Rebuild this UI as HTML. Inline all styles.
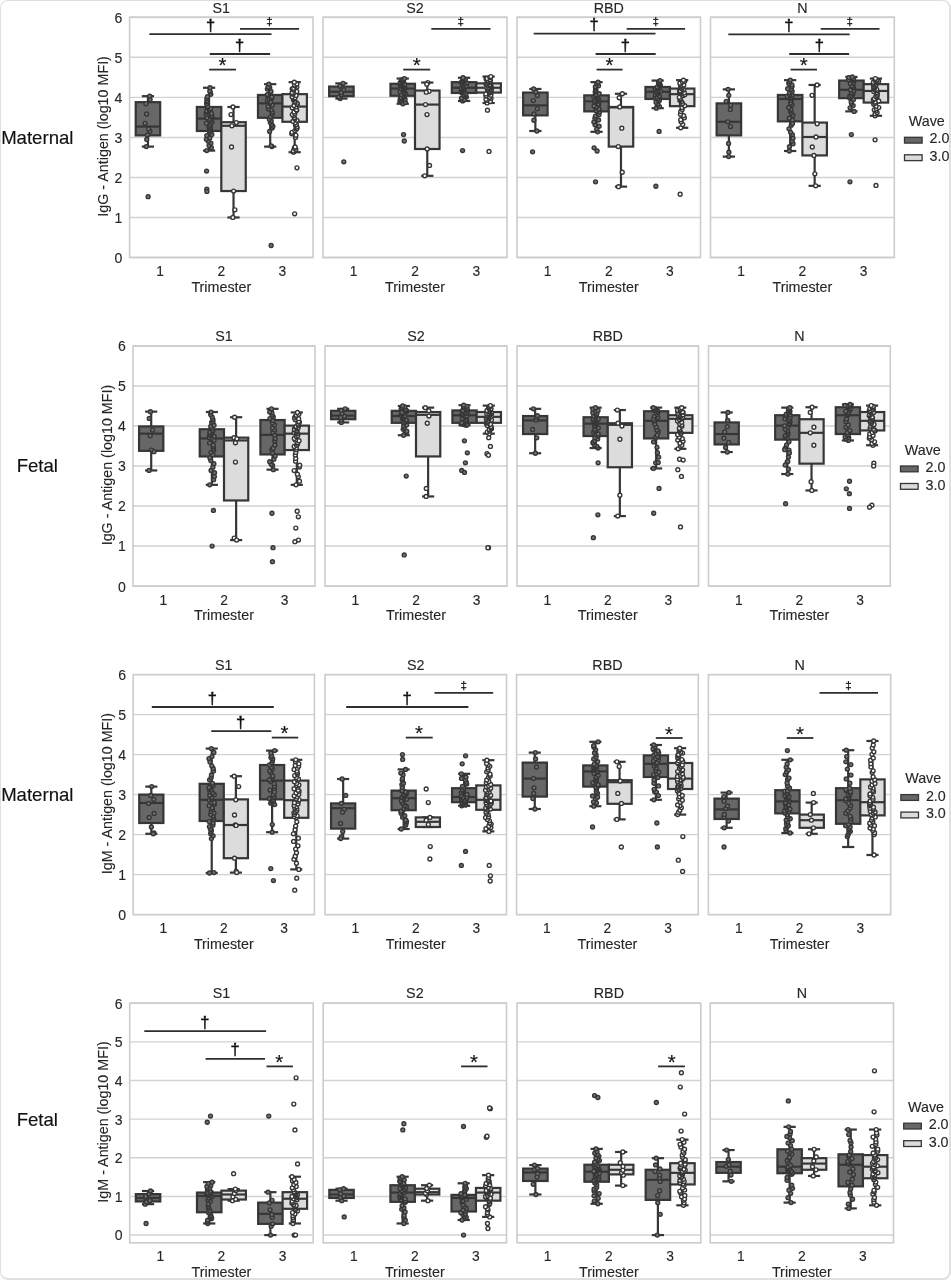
<!DOCTYPE html>
<html><head><meta charset="utf-8"><title>Antigen boxplots</title>
<style>
html,body{margin:0;padding:0;background:#ffffff;}
body{width:951px;height:1280px;overflow:hidden;position:relative;}
.frame{position:absolute;left:0;top:0;width:948px;height:1277px;border-style:solid;border-color:#e0e0e0;border-width:1px 2px 2px 1px;border-radius:8px;background:#fff;}
svg{position:absolute;left:0;top:0;will-change:transform;}
.t{font-family:"Liberation Sans",Arial,sans-serif;font-size:14.3px;fill:#262626;stroke:#262626;stroke-width:0.12px;}
.rl{font-family:"Liberation Sans",Arial,sans-serif;font-size:18.6px;fill:#111;stroke:#111;stroke-width:0.15px;}
.sd{font-family:"Liberation Sans",Arial,sans-serif;font-size:16.5px;fill:#111;stroke:#111;stroke-width:0.45px;}
.sdd{font-family:"Liberation Sans",Arial,sans-serif;font-size:11.5px;fill:#111;stroke:#111;stroke-width:0.25px;}
.ss{font-family:"Liberation Sans",Arial,sans-serif;font-size:20.5px;fill:#111;stroke:#111;stroke-width:0.15px;}
</style></head><body>
<div class="frame"></div>
<svg width="951" height="1280" viewBox="0 0 951 1280">
<line x1="129.6" x2="313" y1="257.5" y2="257.5" stroke="#d2d2d2" stroke-width="1.45"/>
<line x1="129.6" x2="313" y1="217.47" y2="217.47" stroke="#d2d2d2" stroke-width="1.45"/>
<line x1="129.6" x2="313" y1="177.43" y2="177.43" stroke="#d2d2d2" stroke-width="1.45"/>
<line x1="129.6" x2="313" y1="137.4" y2="137.4" stroke="#d2d2d2" stroke-width="1.45"/>
<line x1="129.6" x2="313" y1="97.37" y2="97.37" stroke="#d2d2d2" stroke-width="1.45"/>
<line x1="129.6" x2="313" y1="57.33" y2="57.33" stroke="#d2d2d2" stroke-width="1.45"/>
<line x1="129.6" x2="313" y1="17.3" y2="17.3" stroke="#d2d2d2" stroke-width="1.45"/>
<rect x="129.6" y="17.3" width="183.4" height="240.2" fill="none" stroke="#cccccc" stroke-width="1.6"/>
<text x="221.3" y="12.5" class="t" text-anchor="middle">S1</text>
<text transform="translate(160.17,275.9) scale(0.965,1.07)" class="t" text-anchor="middle">1</text>
<text transform="translate(221.3,275.9) scale(0.965,1.07)" class="t" text-anchor="middle">2</text>
<text transform="translate(282.43,275.9) scale(0.965,1.07)" class="t" text-anchor="middle">3</text>
<text x="221.3" y="291.7" class="t" text-anchor="middle">Trimester</text>
<line x1="323" x2="507" y1="257.5" y2="257.5" stroke="#d2d2d2" stroke-width="1.45"/>
<line x1="323" x2="507" y1="217.47" y2="217.47" stroke="#d2d2d2" stroke-width="1.45"/>
<line x1="323" x2="507" y1="177.43" y2="177.43" stroke="#d2d2d2" stroke-width="1.45"/>
<line x1="323" x2="507" y1="137.4" y2="137.4" stroke="#d2d2d2" stroke-width="1.45"/>
<line x1="323" x2="507" y1="97.37" y2="97.37" stroke="#d2d2d2" stroke-width="1.45"/>
<line x1="323" x2="507" y1="57.33" y2="57.33" stroke="#d2d2d2" stroke-width="1.45"/>
<line x1="323" x2="507" y1="17.3" y2="17.3" stroke="#d2d2d2" stroke-width="1.45"/>
<rect x="323" y="17.3" width="184" height="240.2" fill="none" stroke="#cccccc" stroke-width="1.6"/>
<text x="415" y="12.5" class="t" text-anchor="middle">S2</text>
<text transform="translate(353.67,275.9) scale(0.965,1.07)" class="t" text-anchor="middle">1</text>
<text transform="translate(415,275.9) scale(0.965,1.07)" class="t" text-anchor="middle">2</text>
<text transform="translate(476.33,275.9) scale(0.965,1.07)" class="t" text-anchor="middle">3</text>
<text x="415" y="291.7" class="t" text-anchor="middle">Trimester</text>
<line x1="517" x2="700.5" y1="257.5" y2="257.5" stroke="#d2d2d2" stroke-width="1.45"/>
<line x1="517" x2="700.5" y1="217.47" y2="217.47" stroke="#d2d2d2" stroke-width="1.45"/>
<line x1="517" x2="700.5" y1="177.43" y2="177.43" stroke="#d2d2d2" stroke-width="1.45"/>
<line x1="517" x2="700.5" y1="137.4" y2="137.4" stroke="#d2d2d2" stroke-width="1.45"/>
<line x1="517" x2="700.5" y1="97.37" y2="97.37" stroke="#d2d2d2" stroke-width="1.45"/>
<line x1="517" x2="700.5" y1="57.33" y2="57.33" stroke="#d2d2d2" stroke-width="1.45"/>
<line x1="517" x2="700.5" y1="17.3" y2="17.3" stroke="#d2d2d2" stroke-width="1.45"/>
<rect x="517" y="17.3" width="183.5" height="240.2" fill="none" stroke="#cccccc" stroke-width="1.6"/>
<text x="608.75" y="12.5" class="t" text-anchor="middle">RBD</text>
<text transform="translate(547.58,275.9) scale(0.965,1.07)" class="t" text-anchor="middle">1</text>
<text transform="translate(608.75,275.9) scale(0.965,1.07)" class="t" text-anchor="middle">2</text>
<text transform="translate(669.92,275.9) scale(0.965,1.07)" class="t" text-anchor="middle">3</text>
<text x="608.75" y="291.7" class="t" text-anchor="middle">Trimester</text>
<line x1="710.5" x2="894.3" y1="257.5" y2="257.5" stroke="#d2d2d2" stroke-width="1.45"/>
<line x1="710.5" x2="894.3" y1="217.47" y2="217.47" stroke="#d2d2d2" stroke-width="1.45"/>
<line x1="710.5" x2="894.3" y1="177.43" y2="177.43" stroke="#d2d2d2" stroke-width="1.45"/>
<line x1="710.5" x2="894.3" y1="137.4" y2="137.4" stroke="#d2d2d2" stroke-width="1.45"/>
<line x1="710.5" x2="894.3" y1="97.37" y2="97.37" stroke="#d2d2d2" stroke-width="1.45"/>
<line x1="710.5" x2="894.3" y1="57.33" y2="57.33" stroke="#d2d2d2" stroke-width="1.45"/>
<line x1="710.5" x2="894.3" y1="17.3" y2="17.3" stroke="#d2d2d2" stroke-width="1.45"/>
<rect x="710.5" y="17.3" width="183.8" height="240.2" fill="none" stroke="#cccccc" stroke-width="1.6"/>
<text x="802.4" y="12.5" class="t" text-anchor="middle">N</text>
<text transform="translate(741.13,275.9) scale(0.965,1.07)" class="t" text-anchor="middle">1</text>
<text transform="translate(802.4,275.9) scale(0.965,1.07)" class="t" text-anchor="middle">2</text>
<text transform="translate(863.67,275.9) scale(0.965,1.07)" class="t" text-anchor="middle">3</text>
<text x="802.4" y="291.7" class="t" text-anchor="middle">Trimester</text>
<text transform="translate(122.4,262.9) scale(0.985,1.055)" class="t" text-anchor="end">0</text>
<text transform="translate(122.4,222.87) scale(0.985,1.055)" class="t" text-anchor="end">1</text>
<text transform="translate(122.4,182.83) scale(0.985,1.055)" class="t" text-anchor="end">2</text>
<text transform="translate(122.4,142.8) scale(0.985,1.055)" class="t" text-anchor="end">3</text>
<text transform="translate(122.4,102.77) scale(0.985,1.055)" class="t" text-anchor="end">4</text>
<text transform="translate(122.4,62.73) scale(0.985,1.055)" class="t" text-anchor="end">5</text>
<text transform="translate(122.4,22.7) scale(0.985,1.055)" class="t" text-anchor="end">6</text>
<text transform="translate(107.8,136.4) rotate(-90)" class="t" text-anchor="middle">IgG - Antigen (log10 MFI)</text>
<text x="37.3" y="144.1" class="rl" text-anchor="middle">Maternal</text>
<text x="908.8" y="125.9" class="t">Wave</text>
<rect x="904.5" y="137.3" width="17.6" height="5.8" fill="#676767" stroke="#363636" stroke-width="1.3"/>
<text x="929.5" y="143.4" class="t">2.0</text>
<rect x="904.5" y="154.8" width="17.6" height="5.8" fill="#dcdcdc" stroke="#363636" stroke-width="1.3"/>
<text x="929.5" y="160.9" class="t">3.0</text>
<line x1="133" x2="315" y1="586.1" y2="586.1" stroke="#d2d2d2" stroke-width="1.45"/>
<line x1="133" x2="315" y1="546.08" y2="546.08" stroke="#d2d2d2" stroke-width="1.45"/>
<line x1="133" x2="315" y1="506.07" y2="506.07" stroke="#d2d2d2" stroke-width="1.45"/>
<line x1="133" x2="315" y1="466.05" y2="466.05" stroke="#d2d2d2" stroke-width="1.45"/>
<line x1="133" x2="315" y1="426.03" y2="426.03" stroke="#d2d2d2" stroke-width="1.45"/>
<line x1="133" x2="315" y1="386.02" y2="386.02" stroke="#d2d2d2" stroke-width="1.45"/>
<line x1="133" x2="315" y1="346" y2="346" stroke="#d2d2d2" stroke-width="1.45"/>
<rect x="133" y="346" width="182" height="240.1" fill="none" stroke="#cccccc" stroke-width="1.6"/>
<text x="224" y="341.2" class="t" text-anchor="middle">S1</text>
<text transform="translate(163.33,604.5) scale(0.965,1.07)" class="t" text-anchor="middle">1</text>
<text transform="translate(224,604.5) scale(0.965,1.07)" class="t" text-anchor="middle">2</text>
<text transform="translate(284.67,604.5) scale(0.965,1.07)" class="t" text-anchor="middle">3</text>
<text x="224" y="620.3" class="t" text-anchor="middle">Trimester</text>
<line x1="325" x2="507" y1="586.1" y2="586.1" stroke="#d2d2d2" stroke-width="1.45"/>
<line x1="325" x2="507" y1="546.08" y2="546.08" stroke="#d2d2d2" stroke-width="1.45"/>
<line x1="325" x2="507" y1="506.07" y2="506.07" stroke="#d2d2d2" stroke-width="1.45"/>
<line x1="325" x2="507" y1="466.05" y2="466.05" stroke="#d2d2d2" stroke-width="1.45"/>
<line x1="325" x2="507" y1="426.03" y2="426.03" stroke="#d2d2d2" stroke-width="1.45"/>
<line x1="325" x2="507" y1="386.02" y2="386.02" stroke="#d2d2d2" stroke-width="1.45"/>
<line x1="325" x2="507" y1="346" y2="346" stroke="#d2d2d2" stroke-width="1.45"/>
<rect x="325" y="346" width="182" height="240.1" fill="none" stroke="#cccccc" stroke-width="1.6"/>
<text x="416" y="341.2" class="t" text-anchor="middle">S2</text>
<text transform="translate(355.33,604.5) scale(0.965,1.07)" class="t" text-anchor="middle">1</text>
<text transform="translate(416,604.5) scale(0.965,1.07)" class="t" text-anchor="middle">2</text>
<text transform="translate(476.67,604.5) scale(0.965,1.07)" class="t" text-anchor="middle">3</text>
<text x="416" y="620.3" class="t" text-anchor="middle">Trimester</text>
<line x1="517" x2="698.5" y1="586.1" y2="586.1" stroke="#d2d2d2" stroke-width="1.45"/>
<line x1="517" x2="698.5" y1="546.08" y2="546.08" stroke="#d2d2d2" stroke-width="1.45"/>
<line x1="517" x2="698.5" y1="506.07" y2="506.07" stroke="#d2d2d2" stroke-width="1.45"/>
<line x1="517" x2="698.5" y1="466.05" y2="466.05" stroke="#d2d2d2" stroke-width="1.45"/>
<line x1="517" x2="698.5" y1="426.03" y2="426.03" stroke="#d2d2d2" stroke-width="1.45"/>
<line x1="517" x2="698.5" y1="386.02" y2="386.02" stroke="#d2d2d2" stroke-width="1.45"/>
<line x1="517" x2="698.5" y1="346" y2="346" stroke="#d2d2d2" stroke-width="1.45"/>
<rect x="517" y="346" width="181.5" height="240.1" fill="none" stroke="#cccccc" stroke-width="1.6"/>
<text x="607.75" y="341.2" class="t" text-anchor="middle">RBD</text>
<text transform="translate(547.25,604.5) scale(0.965,1.07)" class="t" text-anchor="middle">1</text>
<text transform="translate(607.75,604.5) scale(0.965,1.07)" class="t" text-anchor="middle">2</text>
<text transform="translate(668.25,604.5) scale(0.965,1.07)" class="t" text-anchor="middle">3</text>
<text x="607.75" y="620.3" class="t" text-anchor="middle">Trimester</text>
<line x1="708.5" x2="890.3" y1="586.1" y2="586.1" stroke="#d2d2d2" stroke-width="1.45"/>
<line x1="708.5" x2="890.3" y1="546.08" y2="546.08" stroke="#d2d2d2" stroke-width="1.45"/>
<line x1="708.5" x2="890.3" y1="506.07" y2="506.07" stroke="#d2d2d2" stroke-width="1.45"/>
<line x1="708.5" x2="890.3" y1="466.05" y2="466.05" stroke="#d2d2d2" stroke-width="1.45"/>
<line x1="708.5" x2="890.3" y1="426.03" y2="426.03" stroke="#d2d2d2" stroke-width="1.45"/>
<line x1="708.5" x2="890.3" y1="386.02" y2="386.02" stroke="#d2d2d2" stroke-width="1.45"/>
<line x1="708.5" x2="890.3" y1="346" y2="346" stroke="#d2d2d2" stroke-width="1.45"/>
<rect x="708.5" y="346" width="181.8" height="240.1" fill="none" stroke="#cccccc" stroke-width="1.6"/>
<text x="799.4" y="341.2" class="t" text-anchor="middle">N</text>
<text transform="translate(738.8,604.5) scale(0.965,1.07)" class="t" text-anchor="middle">1</text>
<text transform="translate(799.4,604.5) scale(0.965,1.07)" class="t" text-anchor="middle">2</text>
<text transform="translate(860,604.5) scale(0.965,1.07)" class="t" text-anchor="middle">3</text>
<text x="799.4" y="620.3" class="t" text-anchor="middle">Trimester</text>
<text transform="translate(125.8,591.5) scale(0.985,1.055)" class="t" text-anchor="end">0</text>
<text transform="translate(125.8,551.48) scale(0.985,1.055)" class="t" text-anchor="end">1</text>
<text transform="translate(125.8,511.47) scale(0.985,1.055)" class="t" text-anchor="end">2</text>
<text transform="translate(125.8,471.45) scale(0.985,1.055)" class="t" text-anchor="end">3</text>
<text transform="translate(125.8,431.43) scale(0.985,1.055)" class="t" text-anchor="end">4</text>
<text transform="translate(125.8,391.42) scale(0.985,1.055)" class="t" text-anchor="end">5</text>
<text transform="translate(125.8,351.4) scale(0.985,1.055)" class="t" text-anchor="end">6</text>
<text transform="translate(111.5,465.05) rotate(-90)" class="t" text-anchor="middle">IgG - Antigen (log10 MFI)</text>
<text x="37.3" y="472.2" class="rl" text-anchor="middle">Fetal</text>
<text x="904.8" y="454.6" class="t">Wave</text>
<rect x="900.5" y="466" width="17.6" height="5.8" fill="#676767" stroke="#363636" stroke-width="1.3"/>
<text x="925.5" y="472.1" class="t">2.0</text>
<rect x="900.5" y="483.5" width="17.6" height="5.8" fill="#dcdcdc" stroke="#363636" stroke-width="1.3"/>
<text x="925.5" y="489.6" class="t">3.0</text>
<line x1="133.2" x2="314.4" y1="914.6" y2="914.6" stroke="#d2d2d2" stroke-width="1.45"/>
<line x1="133.2" x2="314.4" y1="874.6" y2="874.6" stroke="#d2d2d2" stroke-width="1.45"/>
<line x1="133.2" x2="314.4" y1="834.6" y2="834.6" stroke="#d2d2d2" stroke-width="1.45"/>
<line x1="133.2" x2="314.4" y1="794.6" y2="794.6" stroke="#d2d2d2" stroke-width="1.45"/>
<line x1="133.2" x2="314.4" y1="754.6" y2="754.6" stroke="#d2d2d2" stroke-width="1.45"/>
<line x1="133.2" x2="314.4" y1="714.6" y2="714.6" stroke="#d2d2d2" stroke-width="1.45"/>
<line x1="133.2" x2="314.4" y1="674.6" y2="674.6" stroke="#d2d2d2" stroke-width="1.45"/>
<rect x="133.2" y="674.6" width="181.2" height="240" fill="none" stroke="#cccccc" stroke-width="1.6"/>
<text x="223.8" y="669.8" class="t" text-anchor="middle">S1</text>
<text transform="translate(163.4,933) scale(0.965,1.07)" class="t" text-anchor="middle">1</text>
<text transform="translate(223.8,933) scale(0.965,1.07)" class="t" text-anchor="middle">2</text>
<text transform="translate(284.2,933) scale(0.965,1.07)" class="t" text-anchor="middle">3</text>
<text x="223.8" y="948.8" class="t" text-anchor="middle">Trimester</text>
<line x1="325" x2="506.5" y1="914.6" y2="914.6" stroke="#d2d2d2" stroke-width="1.45"/>
<line x1="325" x2="506.5" y1="874.6" y2="874.6" stroke="#d2d2d2" stroke-width="1.45"/>
<line x1="325" x2="506.5" y1="834.6" y2="834.6" stroke="#d2d2d2" stroke-width="1.45"/>
<line x1="325" x2="506.5" y1="794.6" y2="794.6" stroke="#d2d2d2" stroke-width="1.45"/>
<line x1="325" x2="506.5" y1="754.6" y2="754.6" stroke="#d2d2d2" stroke-width="1.45"/>
<line x1="325" x2="506.5" y1="714.6" y2="714.6" stroke="#d2d2d2" stroke-width="1.45"/>
<line x1="325" x2="506.5" y1="674.6" y2="674.6" stroke="#d2d2d2" stroke-width="1.45"/>
<rect x="325" y="674.6" width="181.5" height="240" fill="none" stroke="#cccccc" stroke-width="1.6"/>
<text x="415.75" y="669.8" class="t" text-anchor="middle">S2</text>
<text transform="translate(355.25,933) scale(0.965,1.07)" class="t" text-anchor="middle">1</text>
<text transform="translate(415.75,933) scale(0.965,1.07)" class="t" text-anchor="middle">2</text>
<text transform="translate(476.25,933) scale(0.965,1.07)" class="t" text-anchor="middle">3</text>
<text x="415.75" y="948.8" class="t" text-anchor="middle">Trimester</text>
<line x1="516.6" x2="698.3" y1="914.6" y2="914.6" stroke="#d2d2d2" stroke-width="1.45"/>
<line x1="516.6" x2="698.3" y1="874.6" y2="874.6" stroke="#d2d2d2" stroke-width="1.45"/>
<line x1="516.6" x2="698.3" y1="834.6" y2="834.6" stroke="#d2d2d2" stroke-width="1.45"/>
<line x1="516.6" x2="698.3" y1="794.6" y2="794.6" stroke="#d2d2d2" stroke-width="1.45"/>
<line x1="516.6" x2="698.3" y1="754.6" y2="754.6" stroke="#d2d2d2" stroke-width="1.45"/>
<line x1="516.6" x2="698.3" y1="714.6" y2="714.6" stroke="#d2d2d2" stroke-width="1.45"/>
<line x1="516.6" x2="698.3" y1="674.6" y2="674.6" stroke="#d2d2d2" stroke-width="1.45"/>
<rect x="516.6" y="674.6" width="181.7" height="240" fill="none" stroke="#cccccc" stroke-width="1.6"/>
<text x="607.45" y="669.8" class="t" text-anchor="middle">RBD</text>
<text transform="translate(546.88,933) scale(0.965,1.07)" class="t" text-anchor="middle">1</text>
<text transform="translate(607.45,933) scale(0.965,1.07)" class="t" text-anchor="middle">2</text>
<text transform="translate(668.02,933) scale(0.965,1.07)" class="t" text-anchor="middle">3</text>
<text x="607.45" y="948.8" class="t" text-anchor="middle">Trimester</text>
<line x1="708.4" x2="890.7" y1="914.6" y2="914.6" stroke="#d2d2d2" stroke-width="1.45"/>
<line x1="708.4" x2="890.7" y1="874.6" y2="874.6" stroke="#d2d2d2" stroke-width="1.45"/>
<line x1="708.4" x2="890.7" y1="834.6" y2="834.6" stroke="#d2d2d2" stroke-width="1.45"/>
<line x1="708.4" x2="890.7" y1="794.6" y2="794.6" stroke="#d2d2d2" stroke-width="1.45"/>
<line x1="708.4" x2="890.7" y1="754.6" y2="754.6" stroke="#d2d2d2" stroke-width="1.45"/>
<line x1="708.4" x2="890.7" y1="714.6" y2="714.6" stroke="#d2d2d2" stroke-width="1.45"/>
<line x1="708.4" x2="890.7" y1="674.6" y2="674.6" stroke="#d2d2d2" stroke-width="1.45"/>
<rect x="708.4" y="674.6" width="182.3" height="240" fill="none" stroke="#cccccc" stroke-width="1.6"/>
<text x="799.55" y="669.8" class="t" text-anchor="middle">N</text>
<text transform="translate(738.78,933) scale(0.965,1.07)" class="t" text-anchor="middle">1</text>
<text transform="translate(799.55,933) scale(0.965,1.07)" class="t" text-anchor="middle">2</text>
<text transform="translate(860.32,933) scale(0.965,1.07)" class="t" text-anchor="middle">3</text>
<text x="799.55" y="948.8" class="t" text-anchor="middle">Trimester</text>
<text transform="translate(126,920) scale(0.985,1.055)" class="t" text-anchor="end">0</text>
<text transform="translate(126,880) scale(0.985,1.055)" class="t" text-anchor="end">1</text>
<text transform="translate(126,840) scale(0.985,1.055)" class="t" text-anchor="end">2</text>
<text transform="translate(126,800) scale(0.985,1.055)" class="t" text-anchor="end">3</text>
<text transform="translate(126,760) scale(0.985,1.055)" class="t" text-anchor="end">4</text>
<text transform="translate(126,720) scale(0.985,1.055)" class="t" text-anchor="end">5</text>
<text transform="translate(126,680) scale(0.985,1.055)" class="t" text-anchor="end">6</text>
<text transform="translate(111.5,793.6) rotate(-90)" class="t" text-anchor="middle">IgM - Antigen (log10 MFI)</text>
<text x="37.3" y="800.5" class="rl" text-anchor="middle">Maternal</text>
<text x="905.2" y="783.2" class="t">Wave</text>
<rect x="900.9" y="794.6" width="17.6" height="5.8" fill="#676767" stroke="#363636" stroke-width="1.3"/>
<text x="925.9" y="800.7" class="t">2.0</text>
<rect x="900.9" y="812.1" width="17.6" height="5.8" fill="#dcdcdc" stroke="#363636" stroke-width="1.3"/>
<text x="925.9" y="818.2" class="t">3.0</text>
<line x1="129.7" x2="313.2" y1="1235.07" y2="1235.07" stroke="#d2d2d2" stroke-width="1.45"/>
<line x1="129.7" x2="313.2" y1="1196.43" y2="1196.43" stroke="#d2d2d2" stroke-width="1.45"/>
<line x1="129.7" x2="313.2" y1="1157.78" y2="1157.78" stroke="#d2d2d2" stroke-width="1.45"/>
<line x1="129.7" x2="313.2" y1="1119.14" y2="1119.14" stroke="#d2d2d2" stroke-width="1.45"/>
<line x1="129.7" x2="313.2" y1="1080.49" y2="1080.49" stroke="#d2d2d2" stroke-width="1.45"/>
<line x1="129.7" x2="313.2" y1="1041.85" y2="1041.85" stroke="#d2d2d2" stroke-width="1.45"/>
<line x1="129.7" x2="313.2" y1="1003.2" y2="1003.2" stroke="#d2d2d2" stroke-width="1.45"/>
<rect x="129.7" y="1003.2" width="183.5" height="239.6" fill="none" stroke="#cccccc" stroke-width="1.6"/>
<text x="221.45" y="998.4" class="t" text-anchor="middle">S1</text>
<text transform="translate(160.28,1261.2) scale(0.965,1.07)" class="t" text-anchor="middle">1</text>
<text transform="translate(221.45,1261.2) scale(0.965,1.07)" class="t" text-anchor="middle">2</text>
<text transform="translate(282.62,1261.2) scale(0.965,1.07)" class="t" text-anchor="middle">3</text>
<text x="221.45" y="1277" class="t" text-anchor="middle">Trimester</text>
<line x1="323.2" x2="506.5" y1="1235.07" y2="1235.07" stroke="#d2d2d2" stroke-width="1.45"/>
<line x1="323.2" x2="506.5" y1="1196.43" y2="1196.43" stroke="#d2d2d2" stroke-width="1.45"/>
<line x1="323.2" x2="506.5" y1="1157.78" y2="1157.78" stroke="#d2d2d2" stroke-width="1.45"/>
<line x1="323.2" x2="506.5" y1="1119.14" y2="1119.14" stroke="#d2d2d2" stroke-width="1.45"/>
<line x1="323.2" x2="506.5" y1="1080.49" y2="1080.49" stroke="#d2d2d2" stroke-width="1.45"/>
<line x1="323.2" x2="506.5" y1="1041.85" y2="1041.85" stroke="#d2d2d2" stroke-width="1.45"/>
<line x1="323.2" x2="506.5" y1="1003.2" y2="1003.2" stroke="#d2d2d2" stroke-width="1.45"/>
<rect x="323.2" y="1003.2" width="183.3" height="239.6" fill="none" stroke="#cccccc" stroke-width="1.6"/>
<text x="414.85" y="998.4" class="t" text-anchor="middle">S2</text>
<text transform="translate(353.75,1261.2) scale(0.965,1.07)" class="t" text-anchor="middle">1</text>
<text transform="translate(414.85,1261.2) scale(0.965,1.07)" class="t" text-anchor="middle">2</text>
<text transform="translate(475.95,1261.2) scale(0.965,1.07)" class="t" text-anchor="middle">3</text>
<text x="414.85" y="1277" class="t" text-anchor="middle">Trimester</text>
<line x1="517" x2="700.8" y1="1235.07" y2="1235.07" stroke="#d2d2d2" stroke-width="1.45"/>
<line x1="517" x2="700.8" y1="1196.43" y2="1196.43" stroke="#d2d2d2" stroke-width="1.45"/>
<line x1="517" x2="700.8" y1="1157.78" y2="1157.78" stroke="#d2d2d2" stroke-width="1.45"/>
<line x1="517" x2="700.8" y1="1119.14" y2="1119.14" stroke="#d2d2d2" stroke-width="1.45"/>
<line x1="517" x2="700.8" y1="1080.49" y2="1080.49" stroke="#d2d2d2" stroke-width="1.45"/>
<line x1="517" x2="700.8" y1="1041.85" y2="1041.85" stroke="#d2d2d2" stroke-width="1.45"/>
<line x1="517" x2="700.8" y1="1003.2" y2="1003.2" stroke="#d2d2d2" stroke-width="1.45"/>
<rect x="517" y="1003.2" width="183.8" height="239.6" fill="none" stroke="#cccccc" stroke-width="1.6"/>
<text x="608.9" y="998.4" class="t" text-anchor="middle">RBD</text>
<text transform="translate(547.63,1261.2) scale(0.965,1.07)" class="t" text-anchor="middle">1</text>
<text transform="translate(608.9,1261.2) scale(0.965,1.07)" class="t" text-anchor="middle">2</text>
<text transform="translate(670.17,1261.2) scale(0.965,1.07)" class="t" text-anchor="middle">3</text>
<text x="608.9" y="1277" class="t" text-anchor="middle">Trimester</text>
<line x1="710.2" x2="893.5" y1="1235.07" y2="1235.07" stroke="#d2d2d2" stroke-width="1.45"/>
<line x1="710.2" x2="893.5" y1="1196.43" y2="1196.43" stroke="#d2d2d2" stroke-width="1.45"/>
<line x1="710.2" x2="893.5" y1="1157.78" y2="1157.78" stroke="#d2d2d2" stroke-width="1.45"/>
<line x1="710.2" x2="893.5" y1="1119.14" y2="1119.14" stroke="#d2d2d2" stroke-width="1.45"/>
<line x1="710.2" x2="893.5" y1="1080.49" y2="1080.49" stroke="#d2d2d2" stroke-width="1.45"/>
<line x1="710.2" x2="893.5" y1="1041.85" y2="1041.85" stroke="#d2d2d2" stroke-width="1.45"/>
<line x1="710.2" x2="893.5" y1="1003.2" y2="1003.2" stroke="#d2d2d2" stroke-width="1.45"/>
<rect x="710.2" y="1003.2" width="183.3" height="239.6" fill="none" stroke="#cccccc" stroke-width="1.6"/>
<text x="801.85" y="998.4" class="t" text-anchor="middle">N</text>
<text transform="translate(740.75,1261.2) scale(0.965,1.07)" class="t" text-anchor="middle">1</text>
<text transform="translate(801.85,1261.2) scale(0.965,1.07)" class="t" text-anchor="middle">2</text>
<text transform="translate(862.95,1261.2) scale(0.965,1.07)" class="t" text-anchor="middle">3</text>
<text x="801.85" y="1277" class="t" text-anchor="middle">Trimester</text>
<text transform="translate(122.5,1240.47) scale(0.985,1.055)" class="t" text-anchor="end">0</text>
<text transform="translate(122.5,1201.83) scale(0.985,1.055)" class="t" text-anchor="end">1</text>
<text transform="translate(122.5,1163.18) scale(0.985,1.055)" class="t" text-anchor="end">2</text>
<text transform="translate(122.5,1124.54) scale(0.985,1.055)" class="t" text-anchor="end">3</text>
<text transform="translate(122.5,1085.89) scale(0.985,1.055)" class="t" text-anchor="end">4</text>
<text transform="translate(122.5,1047.25) scale(0.985,1.055)" class="t" text-anchor="end">5</text>
<text transform="translate(122.5,1008.6) scale(0.985,1.055)" class="t" text-anchor="end">6</text>
<text transform="translate(107.8,1122) rotate(-90)" class="t" text-anchor="middle">IgM - Antigen (log10 MFI)</text>
<text x="37.3" y="1125.5" class="rl" text-anchor="middle">Fetal</text>
<text x="908" y="1111.8" class="t">Wave</text>
<rect x="903.7" y="1123.2" width="17.6" height="5.8" fill="#676767" stroke="#363636" stroke-width="1.3"/>
<text x="928.7" y="1129.3" class="t">2.0</text>
<rect x="903.7" y="1140.7" width="17.6" height="5.8" fill="#dcdcdc" stroke="#363636" stroke-width="1.3"/>
<text x="928.7" y="1146.8" class="t">3.0</text>
<g stroke="#363636" stroke-width="2.2"><line x1="147.94" x2="147.94" y1="102.17" y2="96.17"/><line x1="147.94" x2="147.94" y1="135.4" y2="146.61"/><line x1="141.83" x2="154.05" y1="96.17" y2="96.17"/><line x1="141.83" x2="154.05" y1="146.61" y2="146.61"/><rect x="135.71" y="102.17" width="24.45" height="33.23" fill="#676767"/><line x1="135.71" x2="160.17" y1="126.59" y2="126.59"/></g>
<g fill="#747474" stroke="#363636" stroke-width="1.4"><circle cx="148.12" cy="196.65" r="1.95"/><circle cx="146.28" cy="146.61" r="1.95"/><circle cx="146.75" cy="139.38" r="1.95"/><circle cx="147.54" cy="135.01" r="1.95"/><circle cx="149.9" cy="131.14" r="1.95"/><circle cx="148.57" cy="129.02" r="1.95"/><circle cx="145.12" cy="123.29" r="1.95"/><circle cx="146.64" cy="114.01" r="1.95"/><circle cx="145.89" cy="103.78" r="1.95"/><circle cx="150.09" cy="99.43" r="1.95"/><circle cx="149.74" cy="96.17" r="1.95"/></g>
<g stroke="#363636" stroke-width="2.2"><line x1="209.07" x2="209.07" y1="106.97" y2="87.76"/><line x1="209.07" x2="209.07" y1="130.99" y2="150.61"/><line x1="202.96" x2="215.19" y1="87.76" y2="87.76"/><line x1="202.96" x2="215.19" y1="150.61" y2="150.61"/><rect x="196.85" y="106.97" width="24.45" height="24.02" fill="#676767"/><line x1="196.85" x2="221.3" y1="118.58" y2="118.58"/></g>
<g fill="#747474" stroke="#363636" stroke-width="1.4"><circle cx="206.57" cy="171.03" r="1.95"/><circle cx="206.78" cy="189.04" r="1.95"/><circle cx="206.88" cy="191.44" r="1.95"/><circle cx="206.76" cy="150.61" r="1.95"/><circle cx="211.38" cy="147.71" r="1.95"/><circle cx="209.06" cy="145.61" r="1.95"/><circle cx="210.87" cy="143.24" r="1.95"/><circle cx="208.26" cy="141.24" r="1.95"/><circle cx="206.38" cy="139.33" r="1.95"/><circle cx="209.75" cy="137.92" r="1.95"/><circle cx="206.78" cy="135.59" r="1.95"/><circle cx="211.81" cy="134.48" r="1.95"/><circle cx="209.73" cy="132.27" r="1.95"/><circle cx="209.72" cy="130.44" r="1.95"/><circle cx="210.18" cy="129.01" r="1.95"/><circle cx="210.4" cy="127.62" r="1.95"/><circle cx="209.07" cy="126.88" r="1.95"/><circle cx="209.69" cy="125.38" r="1.95"/><circle cx="210.51" cy="123.87" r="1.95"/><circle cx="206.38" cy="123.19" r="1.95"/><circle cx="211.97" cy="121.91" r="1.95"/><circle cx="210.31" cy="120.66" r="1.95"/><circle cx="209.23" cy="119.32" r="1.95"/><circle cx="206.94" cy="117.78" r="1.95"/><circle cx="211.88" cy="116.91" r="1.95"/><circle cx="211.64" cy="115.66" r="1.95"/><circle cx="206.21" cy="114.49" r="1.95"/><circle cx="211.44" cy="113.52" r="1.95"/><circle cx="206.34" cy="112.31" r="1.95"/><circle cx="206.66" cy="111.03" r="1.95"/><circle cx="209.44" cy="110" r="1.95"/><circle cx="210.47" cy="108.69" r="1.95"/><circle cx="207.44" cy="107.87" r="1.95"/><circle cx="207.63" cy="106.59" r="1.95"/><circle cx="206.59" cy="103.71" r="1.95"/><circle cx="207.05" cy="101.73" r="1.95"/><circle cx="206.97" cy="100.43" r="1.95"/><circle cx="206.94" cy="98.31" r="1.95"/><circle cx="207.48" cy="96.74" r="1.95"/><circle cx="210.8" cy="94.31" r="1.95"/><circle cx="210.23" cy="92.11" r="1.95"/><circle cx="209.81" cy="90.94" r="1.95"/><circle cx="210" cy="87.76" r="1.95"/></g>
<g stroke="#363636" stroke-width="2.2"><line x1="233.53" x2="233.53" y1="122.19" y2="106.97"/><line x1="233.53" x2="233.53" y1="191.04" y2="217.47"/><line x1="227.41" x2="239.64" y1="106.97" y2="106.97"/><line x1="227.41" x2="239.64" y1="217.47" y2="217.47"/><rect x="221.3" y="122.19" width="24.45" height="68.86" fill="#dcdcdc"/><line x1="221.3" x2="245.75" y1="125.79" y2="125.79"/></g>
<g fill="#ffffff" stroke="#363636" stroke-width="1.4"><circle cx="232.95" cy="106.97" r="1.95"/><circle cx="230.96" cy="114.58" r="1.95"/><circle cx="236.31" cy="122.59" r="1.95"/><circle cx="231.86" cy="125.79" r="1.95"/><circle cx="231.53" cy="147.01" r="1.95"/><circle cx="233.59" cy="191.04" r="1.95"/><circle cx="234.88" cy="209.86" r="1.95"/><circle cx="232.84" cy="217.47" r="1.95"/></g>
<g stroke="#363636" stroke-width="2.2"><line x1="270.21" x2="270.21" y1="94.96" y2="84.16"/><line x1="270.21" x2="270.21" y1="117.78" y2="146.61"/><line x1="264.09" x2="276.32" y1="84.16" y2="84.16"/><line x1="264.09" x2="276.32" y1="146.61" y2="146.61"/><rect x="257.98" y="94.96" width="24.45" height="22.82" fill="#676767"/><line x1="257.98" x2="282.43" y1="103.37" y2="103.37"/></g>
<g fill="#747474" stroke="#363636" stroke-width="1.4"><circle cx="271.15" cy="245.49" r="1.95"/><circle cx="272" cy="146.61" r="1.95"/><circle cx="271.19" cy="145.81" r="1.95"/><circle cx="269.6" cy="131.39" r="1.95"/><circle cx="272.15" cy="128.06" r="1.95"/><circle cx="272.89" cy="126.29" r="1.95"/><circle cx="271.68" cy="124.45" r="1.95"/><circle cx="270.38" cy="122.56" r="1.95"/><circle cx="271.25" cy="120.79" r="1.95"/><circle cx="269.38" cy="119.32" r="1.95"/><circle cx="270.52" cy="116.83" r="1.95"/><circle cx="272.22" cy="114.36" r="1.95"/><circle cx="272.27" cy="112.29" r="1.95"/><circle cx="271.34" cy="110.08" r="1.95"/><circle cx="268.61" cy="109.08" r="1.95"/><circle cx="268.12" cy="106.59" r="1.95"/><circle cx="272.46" cy="104.93" r="1.95"/><circle cx="269.82" cy="103" r="1.95"/><circle cx="270.63" cy="101.88" r="1.95"/><circle cx="267.36" cy="100.35" r="1.95"/><circle cx="269.42" cy="99.05" r="1.95"/><circle cx="271.65" cy="98.28" r="1.95"/><circle cx="271.76" cy="97.08" r="1.95"/><circle cx="267.76" cy="95.92" r="1.95"/><circle cx="267.31" cy="94.59" r="1.95"/><circle cx="270.41" cy="92.49" r="1.95"/><circle cx="270.97" cy="91.47" r="1.95"/><circle cx="267.38" cy="89.12" r="1.95"/><circle cx="269.73" cy="87.71" r="1.95"/><circle cx="268.1" cy="86.93" r="1.95"/><circle cx="268.87" cy="84.16" r="1.95"/></g>
<g stroke="#363636" stroke-width="2.2"><line x1="294.66" x2="294.66" y1="94.16" y2="82.15"/><line x1="294.66" x2="294.66" y1="121.79" y2="152.21"/><line x1="288.55" x2="300.77" y1="82.15" y2="82.15"/><line x1="288.55" x2="300.77" y1="152.21" y2="152.21"/><rect x="282.43" y="94.16" width="24.45" height="27.62" fill="#dcdcdc"/><line x1="282.43" x2="306.89" y1="106.57" y2="106.57"/></g>
<g fill="#ffffff" stroke="#363636" stroke-width="1.4"><circle cx="296.97" cy="167.83" r="1.95"/><circle cx="294.64" cy="213.86" r="1.95"/><circle cx="293.51" cy="152.21" r="1.95"/><circle cx="293.35" cy="151.01" r="1.95"/><circle cx="295.82" cy="149.41" r="1.95"/><circle cx="294.35" cy="148.21" r="1.95"/><circle cx="295.14" cy="147.01" r="1.95"/><circle cx="295.53" cy="137.4" r="1.95"/><circle cx="295.92" cy="135.31" r="1.95"/><circle cx="291.8" cy="133.77" r="1.95"/><circle cx="292.03" cy="132.29" r="1.95"/><circle cx="294.87" cy="130.81" r="1.95"/><circle cx="296.24" cy="129.36" r="1.95"/><circle cx="297.01" cy="128.23" r="1.95"/><circle cx="296.9" cy="126.88" r="1.95"/><circle cx="295.5" cy="125.31" r="1.95"/><circle cx="296.34" cy="124.42" r="1.95"/><circle cx="295.22" cy="122.87" r="1.95"/><circle cx="292.95" cy="121.28" r="1.95"/><circle cx="296.95" cy="120.29" r="1.95"/><circle cx="294.78" cy="118.89" r="1.95"/><circle cx="294.37" cy="117.75" r="1.95"/><circle cx="293.64" cy="115.75" r="1.95"/><circle cx="292.28" cy="114.61" r="1.95"/><circle cx="294.85" cy="113.49" r="1.95"/><circle cx="294.08" cy="111.89" r="1.95"/><circle cx="296.73" cy="110.28" r="1.95"/><circle cx="296.5" cy="109.66" r="1.95"/><circle cx="292.31" cy="107.79" r="1.95"/><circle cx="295.91" cy="106.96" r="1.95"/><circle cx="294.01" cy="105.5" r="1.95"/><circle cx="297.3" cy="104.51" r="1.95"/><circle cx="297.05" cy="103.17" r="1.95"/><circle cx="295.11" cy="102.15" r="1.95"/><circle cx="294.77" cy="101.3" r="1.95"/><circle cx="293.45" cy="99.69" r="1.95"/><circle cx="294.25" cy="98.82" r="1.95"/><circle cx="295.08" cy="97.65" r="1.95"/><circle cx="292.12" cy="96.78" r="1.95"/><circle cx="296.03" cy="95.38" r="1.95"/><circle cx="292.76" cy="94.21" r="1.95"/><circle cx="293.44" cy="93.35" r="1.95"/><circle cx="292.11" cy="92.59" r="1.95"/><circle cx="296.83" cy="91.46" r="1.95"/><circle cx="293.45" cy="89.88" r="1.95"/><circle cx="292.17" cy="88.81" r="1.95"/><circle cx="293.62" cy="88.18" r="1.95"/><circle cx="296.77" cy="87.04" r="1.95"/><circle cx="295.11" cy="85.8" r="1.95"/><circle cx="294.55" cy="84.94" r="1.95"/><circle cx="296.85" cy="83.93" r="1.95"/><circle cx="294.33" cy="82.15" r="1.95"/></g>
<g stroke="#363636" stroke-width="2.2"><line x1="341.4" x2="341.4" y1="86.56" y2="83.36"/><line x1="341.4" x2="341.4" y1="96.17" y2="98.57"/><line x1="335.27" x2="347.53" y1="83.36" y2="83.36"/><line x1="335.27" x2="347.53" y1="98.57" y2="98.57"/><rect x="329.13" y="86.56" width="24.53" height="9.61" fill="#676767"/><line x1="329.13" x2="353.67" y1="91.76" y2="91.76"/></g>
<g fill="#747474" stroke="#363636" stroke-width="1.4"><circle cx="343.8" cy="161.82" r="1.95"/><circle cx="340.15" cy="98.57" r="1.95"/><circle cx="338.8" cy="97.06" r="1.95"/><circle cx="341.45" cy="94.87" r="1.95"/><circle cx="341.14" cy="92.51" r="1.95"/><circle cx="343.65" cy="89.81" r="1.95"/><circle cx="341.43" cy="87.36" r="1.95"/><circle cx="339.91" cy="86.09" r="1.95"/><circle cx="343.11" cy="83.36" r="1.95"/></g>
<g stroke="#363636" stroke-width="2.2"><line x1="402.73" x2="402.73" y1="83.76" y2="78.55"/><line x1="402.73" x2="402.73" y1="95.77" y2="103.77"/><line x1="396.6" x2="408.87" y1="78.55" y2="78.55"/><line x1="396.6" x2="408.87" y1="103.77" y2="103.77"/><rect x="390.47" y="83.76" width="24.53" height="12.01" fill="#676767"/><line x1="390.47" x2="415" y1="88.56" y2="88.56"/></g>
<g fill="#747474" stroke="#363636" stroke-width="1.4"><circle cx="403.55" cy="134.6" r="1.95"/><circle cx="404.27" cy="141" r="1.95"/><circle cx="402.78" cy="103.77" r="1.95"/><circle cx="405.32" cy="102.55" r="1.95"/><circle cx="399.93" cy="101.35" r="1.95"/><circle cx="400.78" cy="100.43" r="1.95"/><circle cx="405.1" cy="99.44" r="1.95"/><circle cx="400.26" cy="98.85" r="1.95"/><circle cx="400.99" cy="97.56" r="1.95"/><circle cx="403.85" cy="97.02" r="1.95"/><circle cx="404.55" cy="96.07" r="1.95"/><circle cx="403.23" cy="95.24" r="1.95"/><circle cx="401.3" cy="94.53" r="1.95"/><circle cx="405.58" cy="93.63" r="1.95"/><circle cx="403.91" cy="92.64" r="1.95"/><circle cx="400.06" cy="91.64" r="1.95"/><circle cx="403.18" cy="91.18" r="1.95"/><circle cx="403.75" cy="89.96" r="1.95"/><circle cx="404.15" cy="89.28" r="1.95"/><circle cx="400.91" cy="88.55" r="1.95"/><circle cx="404.28" cy="88.13" r="1.95"/><circle cx="402.8" cy="87.37" r="1.95"/><circle cx="404.6" cy="86.95" r="1.95"/><circle cx="403.31" cy="86.48" r="1.95"/><circle cx="404.19" cy="85.91" r="1.95"/><circle cx="400.33" cy="85.18" r="1.95"/><circle cx="403.52" cy="84.86" r="1.95"/><circle cx="404.79" cy="84.32" r="1.95"/><circle cx="400.29" cy="83.78" r="1.95"/><circle cx="401.73" cy="82.91" r="1.95"/><circle cx="400.34" cy="82.43" r="1.95"/><circle cx="402.54" cy="81.89" r="1.95"/><circle cx="403.38" cy="81.34" r="1.95"/><circle cx="401.56" cy="80.74" r="1.95"/><circle cx="402.44" cy="80" r="1.95"/><circle cx="402.74" cy="79.4" r="1.95"/><circle cx="404.32" cy="78.55" r="1.95"/></g>
<g stroke="#363636" stroke-width="2.2"><line x1="427.27" x2="427.27" y1="90.56" y2="82.55"/><line x1="427.27" x2="427.27" y1="149.01" y2="175.83"/><line x1="421.13" x2="433.4" y1="82.55" y2="82.55"/><line x1="421.13" x2="433.4" y1="175.83" y2="175.83"/><rect x="415" y="90.56" width="24.53" height="58.45" fill="#dcdcdc"/><line x1="415" x2="439.53" y1="104.57" y2="104.57"/></g>
<g fill="#ffffff" stroke="#363636" stroke-width="1.4"><circle cx="427.82" cy="82.55" r="1.95"/><circle cx="426.78" cy="84.16" r="1.95"/><circle cx="429.09" cy="91.36" r="1.95"/><circle cx="426.26" cy="92.16" r="1.95"/><circle cx="425.49" cy="104.57" r="1.95"/><circle cx="426.98" cy="114.58" r="1.95"/><circle cx="427.21" cy="149.01" r="1.95"/><circle cx="429.54" cy="165.42" r="1.95"/><circle cx="424.76" cy="175.83" r="1.95"/></g>
<g stroke="#363636" stroke-width="2.2"><line x1="464.07" x2="464.07" y1="82.15" y2="77.75"/><line x1="464.07" x2="464.07" y1="92.96" y2="100.97"/><line x1="457.93" x2="470.2" y1="77.75" y2="77.75"/><line x1="457.93" x2="470.2" y1="100.97" y2="100.97"/><rect x="451.8" y="82.15" width="24.53" height="10.81" fill="#676767"/><line x1="451.8" x2="476.33" y1="87.76" y2="87.76"/></g>
<g fill="#747474" stroke="#363636" stroke-width="1.4"><circle cx="462.58" cy="150.61" r="1.95"/><circle cx="462.61" cy="100.97" r="1.95"/><circle cx="464.17" cy="99.64" r="1.95"/><circle cx="461.5" cy="98.14" r="1.95"/><circle cx="466.42" cy="97.07" r="1.95"/><circle cx="465.03" cy="95.92" r="1.95"/><circle cx="463.94" cy="94.95" r="1.95"/><circle cx="465.83" cy="93.92" r="1.95"/><circle cx="461.84" cy="92.76" r="1.95"/><circle cx="464.18" cy="92.36" r="1.95"/><circle cx="461.23" cy="91.42" r="1.95"/><circle cx="462.02" cy="90.92" r="1.95"/><circle cx="464.04" cy="90.13" r="1.95"/><circle cx="462.16" cy="89.44" r="1.95"/><circle cx="463.07" cy="88.99" r="1.95"/><circle cx="461.62" cy="88.1" r="1.95"/><circle cx="463.67" cy="87.51" r="1.95"/><circle cx="464.05" cy="86.51" r="1.95"/><circle cx="466.35" cy="85.88" r="1.95"/><circle cx="462.73" cy="84.97" r="1.95"/><circle cx="463.35" cy="84.55" r="1.95"/><circle cx="464.82" cy="83.57" r="1.95"/><circle cx="466.66" cy="82.81" r="1.95"/><circle cx="461.35" cy="82.37" r="1.95"/><circle cx="461.87" cy="81.74" r="1.95"/><circle cx="464.61" cy="80.91" r="1.95"/><circle cx="463.05" cy="80.52" r="1.95"/><circle cx="464.08" cy="79.64" r="1.95"/><circle cx="465.34" cy="79.31" r="1.95"/><circle cx="463.14" cy="78.57" r="1.95"/><circle cx="463.03" cy="77.75" r="1.95"/></g>
<g stroke="#363636" stroke-width="2.2"><line x1="488.6" x2="488.6" y1="83.36" y2="76.55"/><line x1="488.6" x2="488.6" y1="92.56" y2="102.97"/><line x1="482.47" x2="494.73" y1="76.55" y2="76.55"/><line x1="482.47" x2="494.73" y1="102.97" y2="102.97"/><rect x="476.33" y="83.36" width="24.53" height="9.21" fill="#dcdcdc"/><line x1="476.33" x2="500.87" y1="87.76" y2="87.76"/></g>
<g fill="#ffffff" stroke="#363636" stroke-width="1.4"><circle cx="487.47" cy="110.18" r="1.95"/><circle cx="489.02" cy="151.41" r="1.95"/><circle cx="487.06" cy="102.97" r="1.95"/><circle cx="490.37" cy="101.49" r="1.95"/><circle cx="486.94" cy="100.4" r="1.95"/><circle cx="486.01" cy="99.35" r="1.95"/><circle cx="491.03" cy="98.32" r="1.95"/><circle cx="489.59" cy="97.15" r="1.95"/><circle cx="486.01" cy="96.09" r="1.95"/><circle cx="490.91" cy="95.24" r="1.95"/><circle cx="485.82" cy="94.05" r="1.95"/><circle cx="489.66" cy="93.1" r="1.95"/><circle cx="491.14" cy="92.25" r="1.95"/><circle cx="490.95" cy="91.94" r="1.95"/><circle cx="489.52" cy="91.41" r="1.95"/><circle cx="489.52" cy="90.95" r="1.95"/><circle cx="487.54" cy="90.26" r="1.95"/><circle cx="487.65" cy="89.79" r="1.95"/><circle cx="491.44" cy="89.33" r="1.95"/><circle cx="487.5" cy="89.1" r="1.95"/><circle cx="490.13" cy="88.57" r="1.95"/><circle cx="490.1" cy="88.1" r="1.95"/><circle cx="486.82" cy="87.51" r="1.95"/><circle cx="488.64" cy="87.17" r="1.95"/><circle cx="491.16" cy="86.53" r="1.95"/><circle cx="490.3" cy="86.31" r="1.95"/><circle cx="490.19" cy="85.69" r="1.95"/><circle cx="487.88" cy="85.35" r="1.95"/><circle cx="490.61" cy="84.97" r="1.95"/><circle cx="489.8" cy="84.38" r="1.95"/><circle cx="486.01" cy="83.94" r="1.95"/><circle cx="487.25" cy="83.57" r="1.95"/><circle cx="488.61" cy="82.81" r="1.95"/><circle cx="489.49" cy="82.2" r="1.95"/><circle cx="489.33" cy="81.56" r="1.95"/><circle cx="490.39" cy="81.01" r="1.95"/><circle cx="487.54" cy="80.21" r="1.95"/><circle cx="490.11" cy="79.46" r="1.95"/><circle cx="486.08" cy="78.97" r="1.95"/><circle cx="487.04" cy="78.42" r="1.95"/><circle cx="489.96" cy="77.43" r="1.95"/><circle cx="490.8" cy="76.55" r="1.95"/></g>
<g stroke="#363636" stroke-width="2.2"><line x1="535.35" x2="535.35" y1="92.56" y2="88.96"/><line x1="535.35" x2="535.35" y1="115.38" y2="130.99"/><line x1="529.23" x2="541.47" y1="88.96" y2="88.96"/><line x1="529.23" x2="541.47" y1="130.99" y2="130.99"/><rect x="523.12" y="92.56" width="24.47" height="22.82" fill="#676767"/><line x1="523.12" x2="547.58" y1="105.37" y2="105.37"/></g>
<g fill="#747474" stroke="#363636" stroke-width="1.4"><circle cx="532.57" cy="151.81" r="1.95"/><circle cx="536.83" cy="130.99" r="1.95"/><circle cx="533.87" cy="120.27" r="1.95"/><circle cx="534.02" cy="113.97" r="1.95"/><circle cx="537.28" cy="108.8" r="1.95"/><circle cx="533.34" cy="100.57" r="1.95"/><circle cx="537.37" cy="95.6" r="1.95"/><circle cx="535.8" cy="92.01" r="1.95"/><circle cx="533.63" cy="88.96" r="1.95"/></g>
<g stroke="#363636" stroke-width="2.2"><line x1="596.52" x2="596.52" y1="95.37" y2="82.15"/><line x1="596.52" x2="596.52" y1="111.38" y2="131.8"/><line x1="590.4" x2="602.63" y1="82.15" y2="82.15"/><line x1="590.4" x2="602.63" y1="131.8" y2="131.8"/><rect x="584.28" y="95.37" width="24.47" height="16.01" fill="#676767"/><line x1="584.28" x2="608.75" y1="101.37" y2="101.37"/></g>
<g fill="#747474" stroke="#363636" stroke-width="1.4"><circle cx="594.08" cy="147.81" r="1.95"/><circle cx="597.09" cy="151.01" r="1.95"/><circle cx="595.53" cy="181.84" r="1.95"/><circle cx="597.58" cy="131.8" r="1.95"/><circle cx="596.71" cy="129.05" r="1.95"/><circle cx="599.08" cy="126.25" r="1.95"/><circle cx="595.03" cy="124.78" r="1.95"/><circle cx="593.89" cy="122.1" r="1.95"/><circle cx="598.56" cy="119.99" r="1.95"/><circle cx="594.93" cy="118.2" r="1.95"/><circle cx="595.45" cy="116.12" r="1.95"/><circle cx="598.93" cy="114.7" r="1.95"/><circle cx="599.39" cy="112.27" r="1.95"/><circle cx="596.19" cy="110.65" r="1.95"/><circle cx="598.88" cy="109.76" r="1.95"/><circle cx="598.85" cy="108.91" r="1.95"/><circle cx="595.77" cy="107.65" r="1.95"/><circle cx="596.43" cy="107.12" r="1.95"/><circle cx="594.03" cy="105.9" r="1.95"/><circle cx="598.64" cy="104.75" r="1.95"/><circle cx="598.07" cy="103.93" r="1.95"/><circle cx="595.62" cy="102.58" r="1.95"/><circle cx="594.69" cy="101.68" r="1.95"/><circle cx="599.25" cy="101.11" r="1.95"/><circle cx="598.16" cy="100.32" r="1.95"/><circle cx="594.9" cy="99.93" r="1.95"/><circle cx="597.28" cy="99.4" r="1.95"/><circle cx="598.31" cy="98.67" r="1.95"/><circle cx="596.88" cy="97.89" r="1.95"/><circle cx="596.75" cy="97.48" r="1.95"/><circle cx="593.76" cy="97.01" r="1.95"/><circle cx="596.98" cy="96.24" r="1.95"/><circle cx="595.48" cy="95.58" r="1.95"/><circle cx="595.99" cy="94.76" r="1.95"/><circle cx="599.21" cy="93.74" r="1.95"/><circle cx="595.19" cy="91.99" r="1.95"/><circle cx="596.02" cy="90.83" r="1.95"/><circle cx="595.53" cy="89.14" r="1.95"/><circle cx="595.67" cy="87.94" r="1.95"/><circle cx="595.37" cy="86.73" r="1.95"/><circle cx="598.54" cy="85.83" r="1.95"/><circle cx="596.72" cy="83.75" r="1.95"/><circle cx="598.08" cy="82.15" r="1.95"/></g>
<g stroke="#363636" stroke-width="2.2"><line x1="620.98" x2="620.98" y1="106.97" y2="93.76"/><line x1="620.98" x2="620.98" y1="146.61" y2="186.64"/><line x1="614.87" x2="627.1" y1="93.76" y2="93.76"/><line x1="614.87" x2="627.1" y1="186.64" y2="186.64"/><rect x="608.75" y="106.97" width="24.47" height="39.63" fill="#dcdcdc"/><line x1="608.75" x2="633.22" y1="107.38" y2="107.38"/></g>
<g fill="#ffffff" stroke="#363636" stroke-width="1.4"><circle cx="622.36" cy="93.76" r="1.95"/><circle cx="619.19" cy="97.77" r="1.95"/><circle cx="619.74" cy="106.97" r="1.95"/><circle cx="621.8" cy="128.19" r="1.95"/><circle cx="618.26" cy="146.61" r="1.95"/><circle cx="622.25" cy="172.23" r="1.95"/><circle cx="618.51" cy="186.64" r="1.95"/></g>
<g stroke="#363636" stroke-width="2.2"><line x1="657.68" x2="657.68" y1="86.96" y2="80.55"/><line x1="657.68" x2="657.68" y1="98.97" y2="108.18"/><line x1="651.57" x2="663.8" y1="80.55" y2="80.55"/><line x1="651.57" x2="663.8" y1="108.18" y2="108.18"/><rect x="645.45" y="86.96" width="24.47" height="12.01" fill="#676767"/><line x1="645.45" x2="669.92" y1="91.76" y2="91.76"/></g>
<g fill="#747474" stroke="#363636" stroke-width="1.4"><circle cx="659.08" cy="131.39" r="1.95"/><circle cx="655.89" cy="186.24" r="1.95"/><circle cx="656.32" cy="108.18" r="1.95"/><circle cx="659.47" cy="106.53" r="1.95"/><circle cx="657.32" cy="104.77" r="1.95"/><circle cx="657.87" cy="103.94" r="1.95"/><circle cx="656.06" cy="102.3" r="1.95"/><circle cx="658.75" cy="101.12" r="1.95"/><circle cx="659.38" cy="100.23" r="1.95"/><circle cx="657.83" cy="98.9" r="1.95"/><circle cx="655.14" cy="98.24" r="1.95"/><circle cx="656.94" cy="97.16" r="1.95"/><circle cx="659.58" cy="96.11" r="1.95"/><circle cx="655.5" cy="94.87" r="1.95"/><circle cx="657.63" cy="93.95" r="1.95"/><circle cx="657.63" cy="93" r="1.95"/><circle cx="657.03" cy="92.09" r="1.95"/><circle cx="656.39" cy="91.39" r="1.95"/><circle cx="660.52" cy="90.99" r="1.95"/><circle cx="658.07" cy="90.16" r="1.95"/><circle cx="656.31" cy="89.56" r="1.95"/><circle cx="655.17" cy="89.01" r="1.95"/><circle cx="657.68" cy="88.42" r="1.95"/><circle cx="656.99" cy="87.75" r="1.95"/><circle cx="657.36" cy="86.99" r="1.95"/><circle cx="660.08" cy="85.92" r="1.95"/><circle cx="660.33" cy="85.09" r="1.95"/><circle cx="659.4" cy="84.6" r="1.95"/><circle cx="659.06" cy="83.64" r="1.95"/><circle cx="658.5" cy="82.52" r="1.95"/><circle cx="659.48" cy="81.76" r="1.95"/><circle cx="660.03" cy="80.55" r="1.95"/></g>
<g stroke="#363636" stroke-width="2.2"><line x1="682.15" x2="682.15" y1="88.56" y2="80.15"/><line x1="682.15" x2="682.15" y1="106.17" y2="127.79"/><line x1="676.03" x2="688.27" y1="80.15" y2="80.15"/><line x1="676.03" x2="688.27" y1="127.79" y2="127.79"/><rect x="669.92" y="88.56" width="24.47" height="17.61" fill="#dcdcdc"/><line x1="669.92" x2="694.38" y1="94.16" y2="94.16"/></g>
<g fill="#ffffff" stroke="#363636" stroke-width="1.4"><circle cx="680.16" cy="194.25" r="1.95"/><circle cx="680.71" cy="127.79" r="1.95"/><circle cx="682.73" cy="124.41" r="1.95"/><circle cx="681.1" cy="121.77" r="1.95"/><circle cx="680.74" cy="119.72" r="1.95"/><circle cx="684.39" cy="117.85" r="1.95"/><circle cx="683.6" cy="115.63" r="1.95"/><circle cx="680.4" cy="114.31" r="1.95"/><circle cx="680.74" cy="111.48" r="1.95"/><circle cx="682.19" cy="109.38" r="1.95"/><circle cx="682.03" cy="107.49" r="1.95"/><circle cx="684.7" cy="105.67" r="1.95"/><circle cx="681.48" cy="104.18" r="1.95"/><circle cx="682.52" cy="103.38" r="1.95"/><circle cx="681.5" cy="101.64" r="1.95"/><circle cx="679.99" cy="100.43" r="1.95"/><circle cx="680.48" cy="99.6" r="1.95"/><circle cx="680.27" cy="98.65" r="1.95"/><circle cx="679.32" cy="97.31" r="1.95"/><circle cx="683.02" cy="95.62" r="1.95"/><circle cx="684.77" cy="94.79" r="1.95"/><circle cx="680.99" cy="93.85" r="1.95"/><circle cx="682.44" cy="93.31" r="1.95"/><circle cx="684.43" cy="92.79" r="1.95"/><circle cx="679.89" cy="92.24" r="1.95"/><circle cx="680.73" cy="91.7" r="1.95"/><circle cx="679.56" cy="91.24" r="1.95"/><circle cx="680.24" cy="90.63" r="1.95"/><circle cx="683.55" cy="90.12" r="1.95"/><circle cx="683.57" cy="89.52" r="1.95"/><circle cx="681.61" cy="88.67" r="1.95"/><circle cx="681.76" cy="88.16" r="1.95"/><circle cx="681.17" cy="87.14" r="1.95"/><circle cx="680.72" cy="86.26" r="1.95"/><circle cx="681.43" cy="85.69" r="1.95"/><circle cx="683.75" cy="84.95" r="1.95"/><circle cx="680.37" cy="83.99" r="1.95"/><circle cx="679.92" cy="83.13" r="1.95"/><circle cx="682.56" cy="82.08" r="1.95"/><circle cx="684.68" cy="81.34" r="1.95"/><circle cx="683.48" cy="80.15" r="1.95"/></g>
<g stroke="#363636" stroke-width="2.2"><line x1="728.88" x2="728.88" y1="103.37" y2="89.36"/><line x1="728.88" x2="728.88" y1="135.4" y2="156.62"/><line x1="722.75" x2="735.01" y1="89.36" y2="89.36"/><line x1="722.75" x2="735.01" y1="156.62" y2="156.62"/><rect x="716.63" y="103.37" width="24.51" height="32.03" fill="#676767"/><line x1="716.63" x2="741.13" y1="121.79" y2="121.79"/></g>
<g fill="#747474" stroke="#363636" stroke-width="1.4"><circle cx="728.09" cy="89.36" r="1.95"/><circle cx="728.76" cy="95.37" r="1.95"/><circle cx="726.2" cy="101.37" r="1.95"/><circle cx="730.67" cy="105.37" r="1.95"/><circle cx="730.31" cy="109.38" r="1.95"/><circle cx="727.79" cy="121.79" r="1.95"/><circle cx="730.48" cy="126.59" r="1.95"/><circle cx="728.58" cy="143.41" r="1.95"/><circle cx="728.9" cy="152.21" r="1.95"/><circle cx="728.71" cy="156.62" r="1.95"/></g>
<g stroke="#363636" stroke-width="2.2"><line x1="790.15" x2="790.15" y1="94.96" y2="80.15"/><line x1="790.15" x2="790.15" y1="121.39" y2="151.01"/><line x1="784.02" x2="796.27" y1="80.15" y2="80.15"/><line x1="784.02" x2="796.27" y1="151.01" y2="151.01"/><rect x="777.89" y="94.96" width="24.51" height="26.42" fill="#676767"/><line x1="777.89" x2="802.4" y1="98.97" y2="98.97"/></g>
<g fill="#747474" stroke="#363636" stroke-width="1.4"><circle cx="789.32" cy="151.01" r="1.95"/><circle cx="789.44" cy="146.69" r="1.95"/><circle cx="793.03" cy="143.76" r="1.95"/><circle cx="792.13" cy="141.04" r="1.95"/><circle cx="792.98" cy="138.21" r="1.95"/><circle cx="792.41" cy="134.55" r="1.95"/><circle cx="790.6" cy="132.28" r="1.95"/><circle cx="788.99" cy="128.78" r="1.95"/><circle cx="791.26" cy="125.19" r="1.95"/><circle cx="792.49" cy="123.5" r="1.95"/><circle cx="792.4" cy="119.94" r="1.95"/><circle cx="789.28" cy="118.17" r="1.95"/><circle cx="792.83" cy="115.24" r="1.95"/><circle cx="791.39" cy="113.01" r="1.95"/><circle cx="790.49" cy="110.9" r="1.95"/><circle cx="790.69" cy="109.25" r="1.95"/><circle cx="788.72" cy="107.48" r="1.95"/><circle cx="792.18" cy="104.87" r="1.95"/><circle cx="790.87" cy="102.97" r="1.95"/><circle cx="790.72" cy="100.72" r="1.95"/><circle cx="791.64" cy="98.72" r="1.95"/><circle cx="790.89" cy="98.33" r="1.95"/><circle cx="789.59" cy="97.93" r="1.95"/><circle cx="791.28" cy="97.47" r="1.95"/><circle cx="787.68" cy="97.13" r="1.95"/><circle cx="788.26" cy="96.66" r="1.95"/><circle cx="787.3" cy="96.26" r="1.95"/><circle cx="790.98" cy="95.9" r="1.95"/><circle cx="791.66" cy="95.52" r="1.95"/><circle cx="792.08" cy="95.27" r="1.95"/><circle cx="789.74" cy="94.43" r="1.95"/><circle cx="789.49" cy="92.87" r="1.95"/><circle cx="792.15" cy="91.29" r="1.95"/><circle cx="791.1" cy="89.36" r="1.95"/><circle cx="787.69" cy="88.73" r="1.95"/><circle cx="791.93" cy="86.82" r="1.95"/><circle cx="791.95" cy="84.9" r="1.95"/><circle cx="788.81" cy="83.52" r="1.95"/><circle cx="789.22" cy="81.95" r="1.95"/><circle cx="790.28" cy="80.15" r="1.95"/></g>
<g stroke="#363636" stroke-width="2.2"><line x1="814.65" x2="814.65" y1="122.59" y2="84.96"/><line x1="814.65" x2="814.65" y1="155.42" y2="185.84"/><line x1="808.53" x2="820.78" y1="84.96" y2="84.96"/><line x1="808.53" x2="820.78" y1="185.84" y2="185.84"/><rect x="802.4" y="122.59" width="24.51" height="32.83" fill="#dcdcdc"/><line x1="802.4" x2="826.91" y1="137" y2="137"/></g>
<g fill="#ffffff" stroke="#363636" stroke-width="1.4"><circle cx="817.05" cy="84.96" r="1.95"/><circle cx="812.01" cy="95.37" r="1.95"/><circle cx="817.16" cy="123.79" r="1.95"/><circle cx="815.98" cy="137" r="1.95"/><circle cx="812.28" cy="147.01" r="1.95"/><circle cx="813.97" cy="155.42" r="1.95"/><circle cx="814.87" cy="173.83" r="1.95"/><circle cx="815.66" cy="185.84" r="1.95"/></g>
<g stroke="#363636" stroke-width="2.2"><line x1="851.41" x2="851.41" y1="80.55" y2="76.95"/><line x1="851.41" x2="851.41" y1="98.17" y2="111.38"/><line x1="845.29" x2="857.54" y1="76.95" y2="76.95"/><line x1="845.29" x2="857.54" y1="111.38" y2="111.38"/><rect x="839.16" y="80.55" width="24.51" height="17.61" fill="#676767"/><line x1="839.16" x2="863.67" y1="89.76" y2="89.76"/></g>
<g fill="#747474" stroke="#363636" stroke-width="1.4"><circle cx="851.36" cy="134.6" r="1.95"/><circle cx="849.97" cy="181.84" r="1.95"/><circle cx="854.13" cy="111.38" r="1.95"/><circle cx="850.07" cy="107.82" r="1.95"/><circle cx="853.17" cy="105.58" r="1.95"/><circle cx="851.54" cy="103.4" r="1.95"/><circle cx="851.22" cy="101.88" r="1.95"/><circle cx="853.48" cy="99.61" r="1.95"/><circle cx="849.76" cy="97.99" r="1.95"/><circle cx="849.79" cy="96.23" r="1.95"/><circle cx="851.69" cy="95.42" r="1.95"/><circle cx="853.03" cy="93.81" r="1.95"/><circle cx="851.79" cy="92.72" r="1.95"/><circle cx="853.42" cy="90.99" r="1.95"/><circle cx="850.54" cy="89.89" r="1.95"/><circle cx="853.4" cy="87.87" r="1.95"/><circle cx="853.14" cy="86.61" r="1.95"/><circle cx="851.56" cy="85.63" r="1.95"/><circle cx="850.45" cy="83.47" r="1.95"/><circle cx="853.65" cy="82.56" r="1.95"/><circle cx="853.26" cy="80.53" r="1.95"/><circle cx="848.53" cy="80.02" r="1.95"/><circle cx="853.2" cy="79.55" r="1.95"/><circle cx="852.05" cy="78.8" r="1.95"/><circle cx="853.65" cy="78.55" r="1.95"/><circle cx="848.67" cy="77.7" r="1.95"/><circle cx="852.27" cy="76.95" r="1.95"/></g>
<g stroke="#363636" stroke-width="2.2"><line x1="875.92" x2="875.92" y1="84.16" y2="78.55"/><line x1="875.92" x2="875.92" y1="102.57" y2="115.78"/><line x1="869.79" x2="882.05" y1="78.55" y2="78.55"/><line x1="869.79" x2="882.05" y1="115.78" y2="115.78"/><rect x="863.67" y="84.16" width="24.51" height="18.42" fill="#dcdcdc"/><line x1="863.67" x2="888.17" y1="90.96" y2="90.96"/></g>
<g fill="#ffffff" stroke="#363636" stroke-width="1.4"><circle cx="875.08" cy="139.8" r="1.95"/><circle cx="875.97" cy="185.44" r="1.95"/><circle cx="875.05" cy="115.78" r="1.95"/><circle cx="875.03" cy="113.87" r="1.95"/><circle cx="877.12" cy="112.53" r="1.95"/><circle cx="875.98" cy="110.95" r="1.95"/><circle cx="874.25" cy="109.79" r="1.95"/><circle cx="876.38" cy="108.84" r="1.95"/><circle cx="878.81" cy="107.53" r="1.95"/><circle cx="876.12" cy="106.24" r="1.95"/><circle cx="873.72" cy="104.3" r="1.95"/><circle cx="874.96" cy="103.23" r="1.95"/><circle cx="875.29" cy="102.03" r="1.95"/><circle cx="878.72" cy="101.01" r="1.95"/><circle cx="873.39" cy="99.77" r="1.95"/><circle cx="874.3" cy="98.85" r="1.95"/><circle cx="877.02" cy="97.1" r="1.95"/><circle cx="875.87" cy="96.48" r="1.95"/><circle cx="876.87" cy="95.35" r="1.95"/><circle cx="877.43" cy="93.88" r="1.95"/><circle cx="876.85" cy="92.55" r="1.95"/><circle cx="873.77" cy="91.51" r="1.95"/><circle cx="876.69" cy="90.66" r="1.95"/><circle cx="874.97" cy="89.76" r="1.95"/><circle cx="876.64" cy="89.31" r="1.95"/><circle cx="873.73" cy="88.45" r="1.95"/><circle cx="874.64" cy="87.96" r="1.95"/><circle cx="873.87" cy="87.32" r="1.95"/><circle cx="874.29" cy="86.6" r="1.95"/><circle cx="873.77" cy="85.89" r="1.95"/><circle cx="876.03" cy="84.98" r="1.95"/><circle cx="873.42" cy="84.32" r="1.95"/><circle cx="874.27" cy="83.95" r="1.95"/><circle cx="873.34" cy="83.22" r="1.95"/><circle cx="877.09" cy="82.72" r="1.95"/><circle cx="873.47" cy="82.15" r="1.95"/><circle cx="875.8" cy="81.59" r="1.95"/><circle cx="878.62" cy="81.19" r="1.95"/><circle cx="876.83" cy="80.4" r="1.95"/><circle cx="876.99" cy="80.1" r="1.95"/><circle cx="874.99" cy="79.28" r="1.95"/><circle cx="875.4" cy="78.55" r="1.95"/></g>
<g stroke="#363636" stroke-width="2.2"><line x1="151.2" x2="151.2" y1="426.43" y2="411.63"/><line x1="151.2" x2="151.2" y1="450.84" y2="470.45"/><line x1="145.13" x2="157.27" y1="411.63" y2="411.63"/><line x1="145.13" x2="157.27" y1="470.45" y2="470.45"/><rect x="139.07" y="426.43" width="24.27" height="24.41" fill="#676767"/><line x1="139.07" x2="163.33" y1="433.64" y2="433.64"/></g>
<g fill="#747474" stroke="#363636" stroke-width="1.4"><circle cx="150.43" cy="411.63" r="1.95"/><circle cx="149.21" cy="418.43" r="1.95"/><circle cx="152.57" cy="430.03" r="1.95"/><circle cx="150.24" cy="435.64" r="1.95"/><circle cx="151.61" cy="450.04" r="1.95"/><circle cx="154.04" cy="451.64" r="1.95"/><circle cx="149.03" cy="470.45" r="1.95"/></g>
<g stroke="#363636" stroke-width="2.2"><line x1="211.87" x2="211.87" y1="429.23" y2="412.03"/><line x1="211.87" x2="211.87" y1="456.45" y2="484.86"/><line x1="205.8" x2="217.93" y1="412.03" y2="412.03"/><line x1="205.8" x2="217.93" y1="484.86" y2="484.86"/><rect x="199.73" y="429.23" width="24.27" height="27.21" fill="#676767"/><line x1="199.73" x2="224" y1="438.44" y2="438.44"/></g>
<g fill="#747474" stroke="#363636" stroke-width="1.4"><circle cx="213.42" cy="510.47" r="1.95"/><circle cx="212.11" cy="546.08" r="1.95"/><circle cx="209.76" cy="484.86" r="1.95"/><circle cx="213.63" cy="479.63" r="1.95"/><circle cx="214.38" cy="476.6" r="1.95"/><circle cx="214.51" cy="472.66" r="1.95"/><circle cx="211.06" cy="470.38" r="1.95"/><circle cx="212.91" cy="467.36" r="1.95"/><circle cx="213.9" cy="463.7" r="1.95"/><circle cx="210.84" cy="460.54" r="1.95"/><circle cx="209.88" cy="457.82" r="1.95"/><circle cx="212.86" cy="454.71" r="1.95"/><circle cx="211.07" cy="452.3" r="1.95"/><circle cx="213.67" cy="450.31" r="1.95"/><circle cx="213.35" cy="448.44" r="1.95"/><circle cx="213.33" cy="446.51" r="1.95"/><circle cx="213.26" cy="445.22" r="1.95"/><circle cx="209.58" cy="442.92" r="1.95"/><circle cx="214.03" cy="440.29" r="1.95"/><circle cx="211.76" cy="438.23" r="1.95"/><circle cx="209.2" cy="437.48" r="1.95"/><circle cx="214.13" cy="436.31" r="1.95"/><circle cx="209.93" cy="435.28" r="1.95"/><circle cx="211.58" cy="433.94" r="1.95"/><circle cx="210.04" cy="433.32" r="1.95"/><circle cx="209.92" cy="432.37" r="1.95"/><circle cx="212.75" cy="430.99" r="1.95"/><circle cx="212.68" cy="430.28" r="1.95"/><circle cx="212.27" cy="428.2" r="1.95"/><circle cx="210.73" cy="426.51" r="1.95"/><circle cx="214.03" cy="425.17" r="1.95"/><circle cx="211.64" cy="422.43" r="1.95"/><circle cx="213.02" cy="421.3" r="1.95"/><circle cx="212.88" cy="419.3" r="1.95"/><circle cx="212.19" cy="417.12" r="1.95"/><circle cx="210.67" cy="414.6" r="1.95"/><circle cx="211.01" cy="412.03" r="1.95"/></g>
<g stroke="#363636" stroke-width="2.2"><line x1="236.13" x2="236.13" y1="437.64" y2="417.23"/><line x1="236.13" x2="236.13" y1="500.46" y2="540.08"/><line x1="230.07" x2="242.2" y1="417.23" y2="417.23"/><line x1="230.07" x2="242.2" y1="540.08" y2="540.08"/><rect x="224" y="437.64" width="24.27" height="62.83" fill="#dcdcdc"/><line x1="224" x2="248.27" y1="440.44" y2="440.44"/></g>
<g fill="#ffffff" stroke="#363636" stroke-width="1.4"><circle cx="234.57" cy="417.23" r="1.95"/><circle cx="234" cy="437.64" r="1.95"/><circle cx="236.88" cy="438.84" r="1.95"/><circle cx="235.45" cy="442.84" r="1.95"/><circle cx="235.47" cy="462.05" r="1.95"/><circle cx="234.2" cy="538.08" r="1.95"/><circle cx="236.63" cy="540.08" r="1.95"/></g>
<g stroke="#363636" stroke-width="2.2"><line x1="272.53" x2="272.53" y1="420.03" y2="408.83"/><line x1="272.53" x2="272.53" y1="454.45" y2="469.65"/><line x1="266.47" x2="278.6" y1="408.83" y2="408.83"/><line x1="266.47" x2="278.6" y1="469.65" y2="469.65"/><rect x="260.4" y="420.03" width="24.27" height="34.41" fill="#676767"/><line x1="260.4" x2="284.67" y1="434.84" y2="434.84"/></g>
<g fill="#747474" stroke="#363636" stroke-width="1.4"><circle cx="271.97" cy="513.27" r="1.95"/><circle cx="273" cy="547.68" r="1.95"/><circle cx="272.44" cy="561.69" r="1.95"/><circle cx="273.39" cy="469.65" r="1.95"/><circle cx="272.57" cy="465.49" r="1.95"/><circle cx="271.23" cy="464.29" r="1.95"/><circle cx="269.68" cy="461.64" r="1.95"/><circle cx="273.9" cy="459.13" r="1.95"/><circle cx="275.14" cy="455.94" r="1.95"/><circle cx="272.55" cy="452.97" r="1.95"/><circle cx="271.91" cy="449.75" r="1.95"/><circle cx="273.12" cy="448.18" r="1.95"/><circle cx="274.9" cy="445.09" r="1.95"/><circle cx="274.74" cy="440.77" r="1.95"/><circle cx="275.27" cy="438.48" r="1.95"/><circle cx="274.6" cy="434.94" r="1.95"/><circle cx="272.95" cy="432.14" r="1.95"/><circle cx="274.62" cy="430.04" r="1.95"/><circle cx="272.53" cy="428.06" r="1.95"/><circle cx="274.49" cy="425" r="1.95"/><circle cx="272.37" cy="422.97" r="1.95"/><circle cx="272.89" cy="420.39" r="1.95"/><circle cx="269.91" cy="418.55" r="1.95"/><circle cx="273.32" cy="416.97" r="1.95"/><circle cx="272.04" cy="415.31" r="1.95"/><circle cx="271.91" cy="412.88" r="1.95"/><circle cx="269.72" cy="411.99" r="1.95"/><circle cx="271.46" cy="408.83" r="1.95"/></g>
<g stroke="#363636" stroke-width="2.2"><line x1="296.8" x2="296.8" y1="425.63" y2="412.43"/><line x1="296.8" x2="296.8" y1="450.04" y2="484.86"/><line x1="290.73" x2="302.87" y1="412.43" y2="412.43"/><line x1="290.73" x2="302.87" y1="484.86" y2="484.86"/><rect x="284.67" y="425.63" width="24.27" height="24.41" fill="#dcdcdc"/><line x1="284.67" x2="308.93" y1="433.64" y2="433.64"/></g>
<g fill="#ffffff" stroke="#363636" stroke-width="1.4"><circle cx="297.18" cy="511.27" r="1.95"/><circle cx="298.35" cy="516.87" r="1.95"/><circle cx="295.8" cy="528.08" r="1.95"/><circle cx="298.46" cy="540.08" r="1.95"/><circle cx="294.9" cy="541.68" r="1.95"/><circle cx="296.05" cy="484.86" r="1.95"/><circle cx="299.48" cy="481.14" r="1.95"/><circle cx="298.34" cy="476.61" r="1.95"/><circle cx="297.4" cy="474.13" r="1.95"/><circle cx="294.2" cy="470.59" r="1.95"/><circle cx="299.49" cy="467.05" r="1.95"/><circle cx="299.69" cy="465.21" r="1.95"/><circle cx="295.57" cy="461.15" r="1.95"/><circle cx="295.71" cy="458.47" r="1.95"/><circle cx="295.32" cy="454.94" r="1.95"/><circle cx="295.8" cy="452.44" r="1.95"/><circle cx="296.27" cy="449.66" r="1.95"/><circle cx="296.3" cy="447.95" r="1.95"/><circle cx="294.22" cy="446.49" r="1.95"/><circle cx="296.62" cy="445.23" r="1.95"/><circle cx="297.57" cy="443.98" r="1.95"/><circle cx="297.56" cy="442.42" r="1.95"/><circle cx="299.06" cy="440.76" r="1.95"/><circle cx="295.39" cy="439.88" r="1.95"/><circle cx="294.31" cy="438.43" r="1.95"/><circle cx="296.43" cy="436.42" r="1.95"/><circle cx="297.78" cy="435.39" r="1.95"/><circle cx="297.45" cy="433.49" r="1.95"/><circle cx="293.97" cy="432.86" r="1.95"/><circle cx="296.17" cy="432.3" r="1.95"/><circle cx="296.96" cy="431.68" r="1.95"/><circle cx="295.89" cy="430.84" r="1.95"/><circle cx="296.81" cy="430.2" r="1.95"/><circle cx="294.37" cy="429.22" r="1.95"/><circle cx="297.11" cy="428.71" r="1.95"/><circle cx="298.05" cy="427.8" r="1.95"/><circle cx="295.33" cy="427.1" r="1.95"/><circle cx="296.1" cy="426.56" r="1.95"/><circle cx="298.53" cy="425.64" r="1.95"/><circle cx="298.21" cy="424.97" r="1.95"/><circle cx="298.07" cy="423.63" r="1.95"/><circle cx="299.39" cy="422.17" r="1.95"/><circle cx="298.76" cy="421.5" r="1.95"/><circle cx="295.33" cy="419.83" r="1.95"/><circle cx="298.66" cy="418.68" r="1.95"/><circle cx="294.56" cy="417.94" r="1.95"/><circle cx="295.35" cy="416.3" r="1.95"/><circle cx="296.39" cy="415.28" r="1.95"/><circle cx="298.82" cy="414.26" r="1.95"/><circle cx="297.46" cy="412.43" r="1.95"/></g>
<g stroke="#363636" stroke-width="2.2"><line x1="343.2" x2="343.2" y1="410.83" y2="408.83"/><line x1="343.2" x2="343.2" y1="419.23" y2="422.43"/><line x1="337.13" x2="349.27" y1="408.83" y2="408.83"/><line x1="337.13" x2="349.27" y1="422.43" y2="422.43"/><rect x="331.07" y="410.83" width="24.27" height="8.4" fill="#676767"/><line x1="331.07" x2="355.33" y1="415.63" y2="415.63"/></g>
<g fill="#747474" stroke="#363636" stroke-width="1.4"><circle cx="341.36" cy="422.43" r="1.95"/><circle cx="341.11" cy="420" r="1.95"/><circle cx="340.7" cy="417.56" r="1.95"/><circle cx="344.54" cy="416.2" r="1.95"/><circle cx="342.07" cy="413.6" r="1.95"/><circle cx="341.29" cy="410.38" r="1.95"/><circle cx="345.21" cy="408.83" r="1.95"/></g>
<g stroke="#363636" stroke-width="2.2"><line x1="403.87" x2="403.87" y1="410.83" y2="406.02"/><line x1="403.87" x2="403.87" y1="422.83" y2="435.24"/><line x1="397.8" x2="409.93" y1="406.02" y2="406.02"/><line x1="397.8" x2="409.93" y1="435.24" y2="435.24"/><rect x="391.73" y="410.83" width="24.27" height="12" fill="#676767"/><line x1="391.73" x2="416" y1="416.03" y2="416.03"/></g>
<g fill="#747474" stroke="#363636" stroke-width="1.4"><circle cx="406.21" cy="476.05" r="1.95"/><circle cx="404.21" cy="554.89" r="1.95"/><circle cx="403.6" cy="435.24" r="1.95"/><circle cx="406.64" cy="432.35" r="1.95"/><circle cx="406.73" cy="431.21" r="1.95"/><circle cx="403.2" cy="429.17" r="1.95"/><circle cx="404.25" cy="427.85" r="1.95"/><circle cx="403.84" cy="425.84" r="1.95"/><circle cx="406.62" cy="424.96" r="1.95"/><circle cx="403.57" cy="423.05" r="1.95"/><circle cx="405.07" cy="422.04" r="1.95"/><circle cx="406.61" cy="420.77" r="1.95"/><circle cx="406.14" cy="420.03" r="1.95"/><circle cx="402.96" cy="419.38" r="1.95"/><circle cx="402.74" cy="418.33" r="1.95"/><circle cx="403.69" cy="417.44" r="1.95"/><circle cx="404.04" cy="416.36" r="1.95"/><circle cx="404.8" cy="415.76" r="1.95"/><circle cx="401.22" cy="415.17" r="1.95"/><circle cx="402.41" cy="414.18" r="1.95"/><circle cx="402.05" cy="413.72" r="1.95"/><circle cx="404.09" cy="412.94" r="1.95"/><circle cx="401.84" cy="412.23" r="1.95"/><circle cx="406.56" cy="411.41" r="1.95"/><circle cx="406.27" cy="410.81" r="1.95"/><circle cx="406.36" cy="410.28" r="1.95"/><circle cx="405.43" cy="409.6" r="1.95"/><circle cx="401.18" cy="408.97" r="1.95"/><circle cx="402.69" cy="408.37" r="1.95"/><circle cx="402.41" cy="407.73" r="1.95"/><circle cx="404.82" cy="406.92" r="1.95"/><circle cx="402.73" cy="406.02" r="1.95"/></g>
<g stroke="#363636" stroke-width="2.2"><line x1="428.13" x2="428.13" y1="412.03" y2="407.63"/><line x1="428.13" x2="428.13" y1="456.45" y2="496.46"/><line x1="422.07" x2="434.2" y1="407.63" y2="407.63"/><line x1="422.07" x2="434.2" y1="496.46" y2="496.46"/><rect x="416" y="412.03" width="24.27" height="44.42" fill="#dcdcdc"/><line x1="416" x2="440.27" y1="414.83" y2="414.83"/></g>
<g fill="#ffffff" stroke="#363636" stroke-width="1.4"><circle cx="425.28" cy="407.63" r="1.95"/><circle cx="428.81" cy="410.83" r="1.95"/><circle cx="428.91" cy="416.03" r="1.95"/><circle cx="427.26" cy="423.23" r="1.95"/><circle cx="426.28" cy="488.46" r="1.95"/><circle cx="426.08" cy="496.46" r="1.95"/></g>
<g stroke="#363636" stroke-width="2.2"><line x1="464.53" x2="464.53" y1="410.43" y2="405.22"/><line x1="464.53" x2="464.53" y1="422.83" y2="425.23"/><line x1="458.47" x2="470.6" y1="405.22" y2="405.22"/><line x1="458.47" x2="470.6" y1="425.23" y2="425.23"/><rect x="452.4" y="410.43" width="24.27" height="12.41" fill="#676767"/><line x1="452.4" x2="476.67" y1="415.23" y2="415.23"/></g>
<g fill="#747474" stroke="#363636" stroke-width="1.4"><circle cx="464.39" cy="440.84" r="1.95"/><circle cx="467.33" cy="452.84" r="1.95"/><circle cx="465.4" cy="462.85" r="1.95"/><circle cx="461.71" cy="470.45" r="1.95"/><circle cx="464.45" cy="472.45" r="1.95"/><circle cx="466.54" cy="425.23" r="1.95"/><circle cx="464.69" cy="424.77" r="1.95"/><circle cx="466.98" cy="424.41" r="1.95"/><circle cx="463.37" cy="424.12" r="1.95"/><circle cx="461.66" cy="423.88" r="1.95"/><circle cx="463.21" cy="423.48" r="1.95"/><circle cx="462.41" cy="423.09" r="1.95"/><circle cx="461.75" cy="422.85" r="1.95"/><circle cx="466.22" cy="422.06" r="1.95"/><circle cx="466.46" cy="420.74" r="1.95"/><circle cx="465.94" cy="420.09" r="1.95"/><circle cx="462.35" cy="418.61" r="1.95"/><circle cx="466.22" cy="417.94" r="1.95"/><circle cx="464.81" cy="416.51" r="1.95"/><circle cx="466.73" cy="415.88" r="1.95"/><circle cx="461.79" cy="414.81" r="1.95"/><circle cx="462.51" cy="414.34" r="1.95"/><circle cx="466.89" cy="413.62" r="1.95"/><circle cx="462.62" cy="413.06" r="1.95"/><circle cx="465.13" cy="412.31" r="1.95"/><circle cx="467.17" cy="411.6" r="1.95"/><circle cx="462.27" cy="410.88" r="1.95"/><circle cx="462.81" cy="410.49" r="1.95"/><circle cx="467.22" cy="409.78" r="1.95"/><circle cx="465.97" cy="408.84" r="1.95"/><circle cx="467.2" cy="408.37" r="1.95"/><circle cx="463.63" cy="407.52" r="1.95"/><circle cx="464.06" cy="407.08" r="1.95"/><circle cx="466.75" cy="406.28" r="1.95"/><circle cx="463.71" cy="405.22" r="1.95"/></g>
<g stroke="#363636" stroke-width="2.2"><line x1="488.8" x2="488.8" y1="412.03" y2="405.62"/><line x1="488.8" x2="488.8" y1="422.83" y2="433.64"/><line x1="482.73" x2="494.87" y1="405.62" y2="405.62"/><line x1="482.73" x2="494.87" y1="433.64" y2="433.64"/><rect x="476.67" y="412.03" width="24.27" height="10.8" fill="#dcdcdc"/><line x1="476.67" x2="500.93" y1="416.83" y2="416.83"/></g>
<g fill="#ffffff" stroke="#363636" stroke-width="1.4"><circle cx="488.74" cy="437.64" r="1.95"/><circle cx="490.42" cy="446.44" r="1.95"/><circle cx="486.97" cy="453.64" r="1.95"/><circle cx="488.43" cy="455.25" r="1.95"/><circle cx="488.59" cy="547.68" r="1.95"/><circle cx="487.88" cy="547.68" r="1.95"/><circle cx="489.22" cy="433.64" r="1.95"/><circle cx="487.27" cy="432.03" r="1.95"/><circle cx="489.57" cy="431.06" r="1.95"/><circle cx="489.32" cy="429.61" r="1.95"/><circle cx="491.46" cy="428.67" r="1.95"/><circle cx="491.05" cy="427.7" r="1.95"/><circle cx="491.01" cy="426.45" r="1.95"/><circle cx="487.22" cy="425.51" r="1.95"/><circle cx="490.46" cy="424.37" r="1.95"/><circle cx="486.27" cy="423.29" r="1.95"/><circle cx="487.35" cy="422.65" r="1.95"/><circle cx="487.99" cy="421.85" r="1.95"/><circle cx="487.63" cy="421.44" r="1.95"/><circle cx="487.74" cy="420.91" r="1.95"/><circle cx="491.45" cy="420.01" r="1.95"/><circle cx="486.46" cy="419.56" r="1.95"/><circle cx="489.12" cy="418.87" r="1.95"/><circle cx="486.42" cy="418.15" r="1.95"/><circle cx="488.28" cy="417.8" r="1.95"/><circle cx="487.86" cy="417.27" r="1.95"/><circle cx="488.52" cy="416.66" r="1.95"/><circle cx="491.3" cy="416.25" r="1.95"/><circle cx="487.44" cy="415.57" r="1.95"/><circle cx="489.6" cy="415.02" r="1.95"/><circle cx="490.38" cy="414.57" r="1.95"/><circle cx="486.88" cy="414.12" r="1.95"/><circle cx="488.82" cy="413.84" r="1.95"/><circle cx="491.52" cy="413.27" r="1.95"/><circle cx="491.34" cy="412.61" r="1.95"/><circle cx="489.74" cy="412.17" r="1.95"/><circle cx="489.54" cy="411.67" r="1.95"/><circle cx="489.43" cy="410.92" r="1.95"/><circle cx="487" cy="410.39" r="1.95"/><circle cx="489.83" cy="409.82" r="1.95"/><circle cx="490.36" cy="409.33" r="1.95"/><circle cx="491.01" cy="408.67" r="1.95"/><circle cx="488.6" cy="407.95" r="1.95"/><circle cx="489.31" cy="407.2" r="1.95"/><circle cx="489.62" cy="406.5" r="1.95"/><circle cx="490.43" cy="405.62" r="1.95"/></g>
<g stroke="#363636" stroke-width="2.2"><line x1="535.15" x2="535.15" y1="416.03" y2="408.83"/><line x1="535.15" x2="535.15" y1="434.04" y2="453.24"/><line x1="529.1" x2="541.2" y1="408.83" y2="408.83"/><line x1="529.1" x2="541.2" y1="453.24" y2="453.24"/><rect x="523.05" y="416.03" width="24.2" height="18.01" fill="#676767"/><line x1="523.05" x2="547.25" y1="420.43" y2="420.43"/></g>
<g fill="#747474" stroke="#363636" stroke-width="1.4"><circle cx="535.42" cy="453.24" r="1.95"/><circle cx="536.74" cy="437.79" r="1.95"/><circle cx="532.54" cy="429.49" r="1.95"/><circle cx="535.92" cy="419.97" r="1.95"/><circle cx="536.74" cy="417.44" r="1.95"/><circle cx="537.42" cy="415.63" r="1.95"/><circle cx="533.41" cy="408.83" r="1.95"/></g>
<g stroke="#363636" stroke-width="2.2"><line x1="595.65" x2="595.65" y1="417.23" y2="407.63"/><line x1="595.65" x2="595.65" y1="436.04" y2="448.04"/><line x1="589.6" x2="601.7" y1="407.63" y2="407.63"/><line x1="589.6" x2="601.7" y1="448.04" y2="448.04"/><rect x="583.55" y="417.23" width="24.2" height="18.81" fill="#676767"/><line x1="583.55" x2="607.75" y1="423.63" y2="423.63"/></g>
<g fill="#747474" stroke="#363636" stroke-width="1.4"><circle cx="598.1" cy="462.85" r="1.95"/><circle cx="597.89" cy="514.87" r="1.95"/><circle cx="593.35" cy="537.68" r="1.95"/><circle cx="598" cy="448.04" r="1.95"/><circle cx="596.84" cy="446.29" r="1.95"/><circle cx="594.56" cy="444.89" r="1.95"/><circle cx="593" cy="442.89" r="1.95"/><circle cx="593.24" cy="442.15" r="1.95"/><circle cx="594.69" cy="440.81" r="1.95"/><circle cx="597.66" cy="438.93" r="1.95"/><circle cx="594.89" cy="437.77" r="1.95"/><circle cx="597.92" cy="436.23" r="1.95"/><circle cx="596.46" cy="435.11" r="1.95"/><circle cx="598.19" cy="433.95" r="1.95"/><circle cx="593.63" cy="432.14" r="1.95"/><circle cx="595.08" cy="430.68" r="1.95"/><circle cx="594.67" cy="429.27" r="1.95"/><circle cx="598.25" cy="427.97" r="1.95"/><circle cx="595.43" cy="426.61" r="1.95"/><circle cx="594.45" cy="425.47" r="1.95"/><circle cx="594.84" cy="423.54" r="1.95"/><circle cx="595.78" cy="422.93" r="1.95"/><circle cx="596.55" cy="422.19" r="1.95"/><circle cx="595.37" cy="421.38" r="1.95"/><circle cx="594.32" cy="420.77" r="1.95"/><circle cx="593.48" cy="420.17" r="1.95"/><circle cx="598.24" cy="419.11" r="1.95"/><circle cx="593.18" cy="418.58" r="1.95"/><circle cx="595.66" cy="417.58" r="1.95"/><circle cx="595.41" cy="416.99" r="1.95"/><circle cx="593.73" cy="415.88" r="1.95"/><circle cx="596.35" cy="414.75" r="1.95"/><circle cx="596.92" cy="413.6" r="1.95"/><circle cx="592.88" cy="412.64" r="1.95"/><circle cx="595.62" cy="411.56" r="1.95"/><circle cx="598.03" cy="410.42" r="1.95"/><circle cx="592.89" cy="409.37" r="1.95"/><circle cx="595.48" cy="407.63" r="1.95"/></g>
<g stroke="#363636" stroke-width="2.2"><line x1="619.85" x2="619.85" y1="423.23" y2="410.03"/><line x1="619.85" x2="619.85" y1="467.25" y2="516.07"/><line x1="613.8" x2="625.9" y1="410.03" y2="410.03"/><line x1="613.8" x2="625.9" y1="516.07" y2="516.07"/><rect x="607.75" y="423.23" width="24.2" height="44.02" fill="#dcdcdc"/><line x1="607.75" x2="631.95" y1="424.83" y2="424.83"/></g>
<g fill="#ffffff" stroke="#363636" stroke-width="1.4"><circle cx="617.37" cy="410.03" r="1.95"/><circle cx="617.94" cy="423.23" r="1.95"/><circle cx="621.91" cy="426.03" r="1.95"/><circle cx="619.88" cy="439.24" r="1.95"/><circle cx="619.87" cy="495.26" r="1.95"/><circle cx="617.75" cy="516.07" r="1.95"/></g>
<g stroke="#363636" stroke-width="2.2"><line x1="656.15" x2="656.15" y1="411.23" y2="407.63"/><line x1="656.15" x2="656.15" y1="438.44" y2="468.45"/><line x1="650.1" x2="662.2" y1="407.63" y2="407.63"/><line x1="650.1" x2="662.2" y1="468.45" y2="468.45"/><rect x="644.05" y="411.23" width="24.2" height="27.21" fill="#676767"/><line x1="644.05" x2="668.25" y1="420.83" y2="420.83"/></g>
<g fill="#747474" stroke="#363636" stroke-width="1.4"><circle cx="655.68" cy="462.85" r="1.95"/><circle cx="659.03" cy="488.46" r="1.95"/><circle cx="653.68" cy="513.27" r="1.95"/><circle cx="653.39" cy="468.45" r="1.95"/><circle cx="658.21" cy="462.43" r="1.95"/><circle cx="658.65" cy="457.1" r="1.95"/><circle cx="657.41" cy="452.66" r="1.95"/><circle cx="656.97" cy="447.28" r="1.95"/><circle cx="653.59" cy="441.92" r="1.95"/><circle cx="655.97" cy="437.22" r="1.95"/><circle cx="657.19" cy="435.29" r="1.95"/><circle cx="658.19" cy="431.44" r="1.95"/><circle cx="656.82" cy="430.04" r="1.95"/><circle cx="656.25" cy="427.06" r="1.95"/><circle cx="654.8" cy="423.91" r="1.95"/><circle cx="654.2" cy="421.05" r="1.95"/><circle cx="653.42" cy="419.1" r="1.95"/><circle cx="657.8" cy="417.46" r="1.95"/><circle cx="654.44" cy="416.36" r="1.95"/><circle cx="657.22" cy="414.85" r="1.95"/><circle cx="656.34" cy="413.1" r="1.95"/><circle cx="658.01" cy="411.55" r="1.95"/><circle cx="657.33" cy="410.94" r="1.95"/><circle cx="654.49" cy="410.21" r="1.95"/><circle cx="656.42" cy="409.59" r="1.95"/><circle cx="655.78" cy="409.18" r="1.95"/><circle cx="654.61" cy="408.54" r="1.95"/><circle cx="653.3" cy="407.63" r="1.95"/></g>
<g stroke="#363636" stroke-width="2.2"><line x1="680.35" x2="680.35" y1="415.23" y2="407.63"/><line x1="680.35" x2="680.35" y1="432.84" y2="448.84"/><line x1="674.3" x2="686.4" y1="407.63" y2="407.63"/><line x1="674.3" x2="686.4" y1="448.84" y2="448.84"/><rect x="668.25" y="415.23" width="24.2" height="17.61" fill="#dcdcdc"/><line x1="668.25" x2="692.45" y1="418.83" y2="418.83"/></g>
<g fill="#ffffff" stroke="#363636" stroke-width="1.4"><circle cx="679.55" cy="459.25" r="1.95"/><circle cx="683.2" cy="460.05" r="1.95"/><circle cx="677.83" cy="469.65" r="1.95"/><circle cx="681.44" cy="476.45" r="1.95"/><circle cx="680.52" cy="526.88" r="1.95"/><circle cx="678.22" cy="448.84" r="1.95"/><circle cx="680.4" cy="446.17" r="1.95"/><circle cx="681.83" cy="445.19" r="1.95"/><circle cx="679.99" cy="443.32" r="1.95"/><circle cx="683.08" cy="441.37" r="1.95"/><circle cx="677.72" cy="440.11" r="1.95"/><circle cx="682.32" cy="438.67" r="1.95"/><circle cx="679.17" cy="437.15" r="1.95"/><circle cx="677.65" cy="434.86" r="1.95"/><circle cx="680.98" cy="433.39" r="1.95"/><circle cx="680.47" cy="432.11" r="1.95"/><circle cx="679.62" cy="430.67" r="1.95"/><circle cx="679.75" cy="429.63" r="1.95"/><circle cx="679.37" cy="428.23" r="1.95"/><circle cx="681.79" cy="426.18" r="1.95"/><circle cx="681.74" cy="425.02" r="1.95"/><circle cx="679.56" cy="423.45" r="1.95"/><circle cx="681.65" cy="422.23" r="1.95"/><circle cx="677.57" cy="421.02" r="1.95"/><circle cx="679.64" cy="419.84" r="1.95"/><circle cx="681.83" cy="418.65" r="1.95"/><circle cx="682.38" cy="418.29" r="1.95"/><circle cx="680.34" cy="417.82" r="1.95"/><circle cx="681.61" cy="417.55" r="1.95"/><circle cx="682.61" cy="417.22" r="1.95"/><circle cx="679.61" cy="416.93" r="1.95"/><circle cx="678.75" cy="416.45" r="1.95"/><circle cx="680.64" cy="416.23" r="1.95"/><circle cx="679.4" cy="415.86" r="1.95"/><circle cx="678.37" cy="415.41" r="1.95"/><circle cx="682.99" cy="414.68" r="1.95"/><circle cx="678.8" cy="414.25" r="1.95"/><circle cx="677.85" cy="413.33" r="1.95"/><circle cx="683.09" cy="412.34" r="1.95"/><circle cx="682.55" cy="411.96" r="1.95"/><circle cx="677.94" cy="411.05" r="1.95"/><circle cx="677.55" cy="410.36" r="1.95"/><circle cx="680.13" cy="409.74" r="1.95"/><circle cx="680.46" cy="408.88" r="1.95"/><circle cx="681.67" cy="407.63" r="1.95"/></g>
<g stroke="#363636" stroke-width="2.2"><line x1="726.68" x2="726.68" y1="422.43" y2="412.43"/><line x1="726.68" x2="726.68" y1="444.44" y2="452.04"/><line x1="720.62" x2="732.74" y1="412.43" y2="412.43"/><line x1="720.62" x2="732.74" y1="452.04" y2="452.04"/><rect x="714.56" y="422.43" width="24.24" height="22.01" fill="#676767"/><line x1="714.56" x2="738.8" y1="434.04" y2="434.04"/></g>
<g fill="#747474" stroke="#363636" stroke-width="1.4"><circle cx="727.27" cy="452.04" r="1.95"/><circle cx="725.57" cy="447.38" r="1.95"/><circle cx="728.62" cy="442.47" r="1.95"/><circle cx="723.92" cy="438.15" r="1.95"/><circle cx="724.75" cy="431.93" r="1.95"/><circle cx="727.24" cy="426.71" r="1.95"/><circle cx="727.79" cy="420.45" r="1.95"/><circle cx="727.91" cy="412.43" r="1.95"/></g>
<g stroke="#363636" stroke-width="2.2"><line x1="787.28" x2="787.28" y1="415.23" y2="407.63"/><line x1="787.28" x2="787.28" y1="439.64" y2="474.05"/><line x1="781.22" x2="793.34" y1="407.63" y2="407.63"/><line x1="781.22" x2="793.34" y1="474.05" y2="474.05"/><rect x="775.16" y="415.23" width="24.24" height="24.41" fill="#676767"/><line x1="775.16" x2="799.4" y1="425.63" y2="425.63"/></g>
<g fill="#747474" stroke="#363636" stroke-width="1.4"><circle cx="785.34" cy="448.04" r="1.95"/><circle cx="788.96" cy="450.04" r="1.95"/><circle cx="787.13" cy="462.05" r="1.95"/><circle cx="785.57" cy="503.67" r="1.95"/><circle cx="787.83" cy="474.05" r="1.95"/><circle cx="788.49" cy="469.25" r="1.95"/><circle cx="785.16" cy="465.09" r="1.95"/><circle cx="787.77" cy="461.44" r="1.95"/><circle cx="788.5" cy="457.05" r="1.95"/><circle cx="789.38" cy="452.9" r="1.95"/><circle cx="784.7" cy="449.64" r="1.95"/><circle cx="786.59" cy="444.78" r="1.95"/><circle cx="788.96" cy="441.73" r="1.95"/><circle cx="787.38" cy="438.03" r="1.95"/><circle cx="785.24" cy="437" r="1.95"/><circle cx="785.46" cy="435.43" r="1.95"/><circle cx="787.94" cy="433.95" r="1.95"/><circle cx="787.6" cy="432.24" r="1.95"/><circle cx="787.35" cy="430.51" r="1.95"/><circle cx="785.39" cy="429.17" r="1.95"/><circle cx="787.84" cy="426.89" r="1.95"/><circle cx="784.64" cy="425.81" r="1.95"/><circle cx="789.32" cy="424.67" r="1.95"/><circle cx="789.31" cy="423.51" r="1.95"/><circle cx="790.08" cy="421.82" r="1.95"/><circle cx="789.01" cy="421.04" r="1.95"/><circle cx="789.06" cy="419.46" r="1.95"/><circle cx="784.9" cy="418.77" r="1.95"/><circle cx="790.12" cy="417.45" r="1.95"/><circle cx="785.75" cy="415.8" r="1.95"/><circle cx="790.07" cy="414.93" r="1.95"/><circle cx="786.22" cy="414.13" r="1.95"/><circle cx="788.79" cy="413.06" r="1.95"/><circle cx="788.5" cy="412.51" r="1.95"/><circle cx="789.92" cy="411.36" r="1.95"/><circle cx="789.54" cy="410.85" r="1.95"/><circle cx="788.88" cy="409.56" r="1.95"/><circle cx="788.36" cy="409.1" r="1.95"/><circle cx="789.83" cy="407.63" r="1.95"/></g>
<g stroke="#363636" stroke-width="2.2"><line x1="811.52" x2="811.52" y1="419.23" y2="407.23"/><line x1="811.52" x2="811.52" y1="463.65" y2="490.46"/><line x1="805.46" x2="817.58" y1="407.23" y2="407.23"/><line x1="805.46" x2="817.58" y1="490.46" y2="490.46"/><rect x="799.4" y="419.23" width="24.24" height="44.42" fill="#dcdcdc"/><line x1="799.4" x2="823.64" y1="432.84" y2="432.84"/></g>
<g fill="#ffffff" stroke="#363636" stroke-width="1.4"><circle cx="812.09" cy="407.23" r="1.95"/><circle cx="810.26" cy="412.43" r="1.95"/><circle cx="813.91" cy="427.23" r="1.95"/><circle cx="810.29" cy="432.84" r="1.95"/><circle cx="813.83" cy="445.24" r="1.95"/><circle cx="811.08" cy="481.66" r="1.95"/><circle cx="811.82" cy="490.46" r="1.95"/></g>
<g stroke="#363636" stroke-width="2.2"><line x1="847.88" x2="847.88" y1="407.23" y2="404.42"/><line x1="847.88" x2="847.88" y1="434.04" y2="440.44"/><line x1="841.82" x2="853.94" y1="404.42" y2="404.42"/><line x1="841.82" x2="853.94" y1="440.44" y2="440.44"/><rect x="835.76" y="407.23" width="24.24" height="26.81" fill="#676767"/><line x1="835.76" x2="860" y1="415.23" y2="415.23"/></g>
<g fill="#747474" stroke="#363636" stroke-width="1.4"><circle cx="849.5" cy="481.26" r="1.95"/><circle cx="846.33" cy="488.86" r="1.95"/><circle cx="849.38" cy="493.66" r="1.95"/><circle cx="849.52" cy="508.47" r="1.95"/><circle cx="848.36" cy="440.44" r="1.95"/><circle cx="845.95" cy="439.02" r="1.95"/><circle cx="848.71" cy="437.7" r="1.95"/><circle cx="845.16" cy="436.83" r="1.95"/><circle cx="847.9" cy="435.64" r="1.95"/><circle cx="847.75" cy="434.74" r="1.95"/><circle cx="847.21" cy="432.52" r="1.95"/><circle cx="849.81" cy="430.59" r="1.95"/><circle cx="845.98" cy="427.29" r="1.95"/><circle cx="848.14" cy="424.95" r="1.95"/><circle cx="845.92" cy="421.44" r="1.95"/><circle cx="846.47" cy="418.88" r="1.95"/><circle cx="847.46" cy="414.95" r="1.95"/><circle cx="848.34" cy="413.85" r="1.95"/><circle cx="848.31" cy="412.49" r="1.95"/><circle cx="845.79" cy="411.32" r="1.95"/><circle cx="849.48" cy="410.2" r="1.95"/><circle cx="850.43" cy="408.92" r="1.95"/><circle cx="848.57" cy="407.24" r="1.95"/><circle cx="848.8" cy="406.95" r="1.95"/><circle cx="848.94" cy="406.45" r="1.95"/><circle cx="847.22" cy="406.04" r="1.95"/><circle cx="845.22" cy="405.49" r="1.95"/><circle cx="850.65" cy="405.13" r="1.95"/><circle cx="850.11" cy="404.42" r="1.95"/></g>
<g stroke="#363636" stroke-width="2.2"><line x1="872.12" x2="872.12" y1="412.03" y2="405.62"/><line x1="872.12" x2="872.12" y1="430.44" y2="445.24"/><line x1="866.06" x2="878.18" y1="405.62" y2="405.62"/><line x1="866.06" x2="878.18" y1="445.24" y2="445.24"/><rect x="860" y="412.03" width="24.24" height="18.41" fill="#dcdcdc"/><line x1="860" x2="884.24" y1="420.83" y2="420.83"/></g>
<g fill="#ffffff" stroke="#363636" stroke-width="1.4"><circle cx="873.86" cy="463.25" r="1.95"/><circle cx="873.65" cy="466.05" r="1.95"/><circle cx="871.86" cy="505.27" r="1.95"/><circle cx="869.56" cy="507.27" r="1.95"/><circle cx="872.92" cy="445.24" r="1.95"/><circle cx="871.99" cy="443.39" r="1.95"/><circle cx="874.57" cy="441.87" r="1.95"/><circle cx="871.5" cy="439.87" r="1.95"/><circle cx="869.32" cy="438.17" r="1.95"/><circle cx="869.66" cy="436.76" r="1.95"/><circle cx="873.07" cy="435.48" r="1.95"/><circle cx="869.71" cy="433.9" r="1.95"/><circle cx="872.21" cy="432.42" r="1.95"/><circle cx="874.98" cy="430.95" r="1.95"/><circle cx="874.59" cy="430.19" r="1.95"/><circle cx="873.43" cy="429.18" r="1.95"/><circle cx="870.14" cy="428.24" r="1.95"/><circle cx="872.27" cy="426.91" r="1.95"/><circle cx="870.72" cy="426.23" r="1.95"/><circle cx="872.87" cy="425.33" r="1.95"/><circle cx="874.03" cy="424.43" r="1.95"/><circle cx="871.4" cy="423.26" r="1.95"/><circle cx="870.31" cy="422.35" r="1.95"/><circle cx="871.17" cy="421.31" r="1.95"/><circle cx="870.48" cy="420.28" r="1.95"/><circle cx="871.99" cy="419.33" r="1.95"/><circle cx="871.07" cy="418.39" r="1.95"/><circle cx="872.44" cy="417.92" r="1.95"/><circle cx="872.17" cy="417.11" r="1.95"/><circle cx="869.27" cy="415.85" r="1.95"/><circle cx="869.58" cy="414.87" r="1.95"/><circle cx="871.57" cy="414" r="1.95"/><circle cx="872.41" cy="413.1" r="1.95"/><circle cx="873.75" cy="412.35" r="1.95"/><circle cx="870.01" cy="411.84" r="1.95"/><circle cx="869.31" cy="410.95" r="1.95"/><circle cx="870.52" cy="410.42" r="1.95"/><circle cx="873.24" cy="409.81" r="1.95"/><circle cx="872.63" cy="409.18" r="1.95"/><circle cx="869.84" cy="408.55" r="1.95"/><circle cx="872.23" cy="407.87" r="1.95"/><circle cx="873.3" cy="407.06" r="1.95"/><circle cx="873.24" cy="406.45" r="1.95"/><circle cx="871.16" cy="405.62" r="1.95"/></g>
<g stroke="#363636" stroke-width="2.2"><line x1="151.32" x2="151.32" y1="794.6" y2="786.6"/><line x1="151.32" x2="151.32" y1="823" y2="833.8"/><line x1="145.28" x2="157.36" y1="786.6" y2="786.6"/><line x1="145.28" x2="157.36" y1="833.8" y2="833.8"/><rect x="139.24" y="794.6" width="24.16" height="28.4" fill="#676767"/><line x1="139.24" x2="163.4" y1="803" y2="803"/></g>
<g fill="#747474" stroke="#363636" stroke-width="1.4"><circle cx="151.73" cy="786.6" r="1.95"/><circle cx="150.8" cy="795.4" r="1.95"/><circle cx="153.81" cy="799.4" r="1.95"/><circle cx="148.63" cy="803.4" r="1.95"/><circle cx="154.09" cy="813.4" r="1.95"/><circle cx="149.14" cy="817.4" r="1.95"/><circle cx="151.37" cy="827" r="1.95"/><circle cx="153.91" cy="833" r="1.95"/><circle cx="153.27" cy="833.8" r="1.95"/></g>
<g stroke="#363636" stroke-width="2.2"><line x1="211.72" x2="211.72" y1="783.8" y2="748.6"/><line x1="211.72" x2="211.72" y1="821" y2="873"/><line x1="205.68" x2="217.76" y1="748.6" y2="748.6"/><line x1="205.68" x2="217.76" y1="873" y2="873"/><rect x="199.64" y="783.8" width="24.16" height="37.2" fill="#676767"/><line x1="199.64" x2="223.8" y1="799.8" y2="799.8"/></g>
<g fill="#747474" stroke="#363636" stroke-width="1.4"><circle cx="209.48" cy="873" r="1.95"/><circle cx="213.98" cy="872.6" r="1.95"/><circle cx="211.4" cy="838.6" r="1.95"/><circle cx="213.11" cy="835.83" r="1.95"/><circle cx="210.72" cy="833.77" r="1.95"/><circle cx="211.05" cy="831.93" r="1.95"/><circle cx="211.42" cy="830.07" r="1.95"/><circle cx="210.39" cy="828.97" r="1.95"/><circle cx="209.41" cy="826.62" r="1.95"/><circle cx="212.9" cy="825.15" r="1.95"/><circle cx="213.08" cy="823.08" r="1.95"/><circle cx="209.22" cy="821.56" r="1.95"/><circle cx="213.83" cy="819.82" r="1.95"/><circle cx="213.29" cy="817.71" r="1.95"/><circle cx="212.99" cy="816.04" r="1.95"/><circle cx="210.72" cy="814.38" r="1.95"/><circle cx="213.9" cy="813.04" r="1.95"/><circle cx="211.16" cy="811.41" r="1.95"/><circle cx="212.39" cy="809.43" r="1.95"/><circle cx="212.02" cy="807.76" r="1.95"/><circle cx="209.17" cy="805.73" r="1.95"/><circle cx="214.45" cy="804.34" r="1.95"/><circle cx="214.25" cy="802.5" r="1.95"/><circle cx="209.23" cy="800.12" r="1.95"/><circle cx="211.31" cy="798.65" r="1.95"/><circle cx="211.66" cy="797.38" r="1.95"/><circle cx="209.75" cy="795.36" r="1.95"/><circle cx="214.33" cy="794.65" r="1.95"/><circle cx="212.45" cy="792.95" r="1.95"/><circle cx="209.87" cy="791.69" r="1.95"/><circle cx="211.14" cy="790.02" r="1.95"/><circle cx="209.26" cy="788.55" r="1.95"/><circle cx="209.05" cy="787.49" r="1.95"/><circle cx="212.98" cy="785.83" r="1.95"/><circle cx="211.3" cy="784.53" r="1.95"/><circle cx="212.39" cy="783.29" r="1.95"/><circle cx="209.55" cy="779.79" r="1.95"/><circle cx="211.21" cy="777.47" r="1.95"/><circle cx="211.48" cy="775" r="1.95"/><circle cx="213.52" cy="770.96" r="1.95"/><circle cx="213.15" cy="768.51" r="1.95"/><circle cx="211.77" cy="765.86" r="1.95"/><circle cx="209.94" cy="761.89" r="1.95"/><circle cx="208.96" cy="758.6" r="1.95"/><circle cx="211.96" cy="756.54" r="1.95"/><circle cx="213.89" cy="752.5" r="1.95"/><circle cx="211.32" cy="748.6" r="1.95"/></g>
<g stroke="#363636" stroke-width="2.2"><line x1="235.88" x2="235.88" y1="799.4" y2="776.2"/><line x1="235.88" x2="235.88" y1="858.2" y2="872.6"/><line x1="229.84" x2="241.92" y1="776.2" y2="776.2"/><line x1="229.84" x2="241.92" y1="872.6" y2="872.6"/><rect x="223.8" y="799.4" width="24.16" height="58.8" fill="#dcdcdc"/><line x1="223.8" x2="247.96" y1="825" y2="825"/></g>
<g fill="#ffffff" stroke="#363636" stroke-width="1.4"><circle cx="234.22" cy="776.2" r="1.95"/><circle cx="238.68" cy="786.6" r="1.95"/><circle cx="235.8" cy="799.8" r="1.95"/><circle cx="234.51" cy="815" r="1.95"/><circle cx="235.27" cy="825" r="1.95"/><circle cx="236.05" cy="825.4" r="1.95"/><circle cx="234.54" cy="858.2" r="1.95"/><circle cx="236.19" cy="871.4" r="1.95"/><circle cx="236.68" cy="872.6" r="1.95"/></g>
<g stroke="#363636" stroke-width="2.2"><line x1="272.12" x2="272.12" y1="765" y2="750.6"/><line x1="272.12" x2="272.12" y1="799.4" y2="832.2"/><line x1="266.08" x2="278.16" y1="750.6" y2="750.6"/><line x1="266.08" x2="278.16" y1="832.2" y2="832.2"/><rect x="260.04" y="765" width="24.16" height="34.4" fill="#676767"/><line x1="260.04" x2="284.2" y1="780.6" y2="780.6"/></g>
<g fill="#747474" stroke="#363636" stroke-width="1.4"><circle cx="270.78" cy="868.6" r="1.95"/><circle cx="273.43" cy="880.6" r="1.95"/><circle cx="272.29" cy="824.6" r="1.95"/><circle cx="272.19" cy="832.2" r="1.95"/><circle cx="274.69" cy="804.6" r="1.95"/><circle cx="270.71" cy="803.16" r="1.95"/><circle cx="271.86" cy="801.72" r="1.95"/><circle cx="273.42" cy="801.14" r="1.95"/><circle cx="273.38" cy="800.09" r="1.95"/><circle cx="269.42" cy="798.48" r="1.95"/><circle cx="272.77" cy="797.88" r="1.95"/><circle cx="274.1" cy="796.44" r="1.95"/><circle cx="273.3" cy="794.42" r="1.95"/><circle cx="274.52" cy="791.95" r="1.95"/><circle cx="270.07" cy="790.09" r="1.95"/><circle cx="274.35" cy="788.46" r="1.95"/><circle cx="274.5" cy="786.46" r="1.95"/><circle cx="274.02" cy="783.75" r="1.95"/><circle cx="270.74" cy="781.62" r="1.95"/><circle cx="269.51" cy="779.67" r="1.95"/><circle cx="272.29" cy="777.14" r="1.95"/><circle cx="272.68" cy="775.97" r="1.95"/><circle cx="270.95" cy="772.73" r="1.95"/><circle cx="269.74" cy="771.06" r="1.95"/><circle cx="272.28" cy="768.94" r="1.95"/><circle cx="271.23" cy="767.18" r="1.95"/><circle cx="269.56" cy="764.93" r="1.95"/><circle cx="271.9" cy="763.06" r="1.95"/><circle cx="272.48" cy="760.76" r="1.95"/><circle cx="272.68" cy="758.74" r="1.95"/><circle cx="270.95" cy="757.39" r="1.95"/><circle cx="271.55" cy="755.91" r="1.95"/><circle cx="270.89" cy="753.24" r="1.95"/><circle cx="274.64" cy="750.6" r="1.95"/></g>
<g stroke="#363636" stroke-width="2.2"><line x1="296.28" x2="296.28" y1="780.6" y2="759.8"/><line x1="296.28" x2="296.28" y1="817.8" y2="869.4"/><line x1="290.24" x2="302.32" y1="759.8" y2="759.8"/><line x1="290.24" x2="302.32" y1="869.4" y2="869.4"/><rect x="284.2" y="780.6" width="24.16" height="37.2" fill="#dcdcdc"/><line x1="284.2" x2="308.36" y1="800.2" y2="800.2"/></g>
<g fill="#ffffff" stroke="#363636" stroke-width="1.4"><circle cx="296.69" cy="878.2" r="1.95"/><circle cx="294.72" cy="890.2" r="1.95"/><circle cx="298.85" cy="869.4" r="1.95"/><circle cx="296.45" cy="863.17" r="1.95"/><circle cx="293.98" cy="859.16" r="1.95"/><circle cx="295.23" cy="856.24" r="1.95"/><circle cx="296.48" cy="852.74" r="1.95"/><circle cx="295.68" cy="849.04" r="1.95"/><circle cx="297.98" cy="845.81" r="1.95"/><circle cx="293.63" cy="841.45" r="1.95"/><circle cx="298.38" cy="838.14" r="1.95"/><circle cx="293.42" cy="833.78" r="1.95"/><circle cx="295.05" cy="829.76" r="1.95"/><circle cx="295.64" cy="826.08" r="1.95"/><circle cx="296.78" cy="821.82" r="1.95"/><circle cx="296.16" cy="817.85" r="1.95"/><circle cx="294.23" cy="816.46" r="1.95"/><circle cx="297.15" cy="815.78" r="1.95"/><circle cx="294.42" cy="814.4" r="1.95"/><circle cx="293.9" cy="812.87" r="1.95"/><circle cx="295.43" cy="812.01" r="1.95"/><circle cx="296.71" cy="810.66" r="1.95"/><circle cx="296.79" cy="809" r="1.95"/><circle cx="294.79" cy="808.04" r="1.95"/><circle cx="296.36" cy="806.83" r="1.95"/><circle cx="294.14" cy="805.61" r="1.95"/><circle cx="297.96" cy="804.1" r="1.95"/><circle cx="294.47" cy="802.8" r="1.95"/><circle cx="298.32" cy="801.28" r="1.95"/><circle cx="299.07" cy="799.81" r="1.95"/><circle cx="296.21" cy="799.02" r="1.95"/><circle cx="296.69" cy="796.94" r="1.95"/><circle cx="294.24" cy="795.85" r="1.95"/><circle cx="298.69" cy="794.48" r="1.95"/><circle cx="296.14" cy="792.88" r="1.95"/><circle cx="299.05" cy="791.22" r="1.95"/><circle cx="298.19" cy="790.18" r="1.95"/><circle cx="294.11" cy="788.76" r="1.95"/><circle cx="297.72" cy="787.22" r="1.95"/><circle cx="296.76" cy="785.87" r="1.95"/><circle cx="298.86" cy="784.95" r="1.95"/><circle cx="296.59" cy="783.41" r="1.95"/><circle cx="294.47" cy="781.73" r="1.95"/><circle cx="297.42" cy="779.89" r="1.95"/><circle cx="298.45" cy="778.99" r="1.95"/><circle cx="296.28" cy="777.56" r="1.95"/><circle cx="294.66" cy="775.58" r="1.95"/><circle cx="297.49" cy="774.09" r="1.95"/><circle cx="297.18" cy="772.54" r="1.95"/><circle cx="296.83" cy="771.12" r="1.95"/><circle cx="294.08" cy="769.46" r="1.95"/><circle cx="297.46" cy="768.19" r="1.95"/><circle cx="298.6" cy="766.17" r="1.95"/><circle cx="295.27" cy="765.48" r="1.95"/><circle cx="298.84" cy="763.65" r="1.95"/><circle cx="295.38" cy="761.72" r="1.95"/><circle cx="295.71" cy="759.8" r="1.95"/></g>
<g stroke="#363636" stroke-width="2.2"><line x1="343.15" x2="343.15" y1="803.4" y2="779"/><line x1="343.15" x2="343.15" y1="828.6" y2="838.6"/><line x1="337.1" x2="349.2" y1="779" y2="779"/><line x1="337.1" x2="349.2" y1="838.6" y2="838.6"/><rect x="331.05" y="803.4" width="24.2" height="25.2" fill="#676767"/><line x1="331.05" x2="355.25" y1="808.2" y2="808.2"/></g>
<g fill="#747474" stroke="#363636" stroke-width="1.4"><circle cx="342.11" cy="779" r="1.95"/><circle cx="345.76" cy="795.4" r="1.95"/><circle cx="341.29" cy="803.4" r="1.95"/><circle cx="344.16" cy="809.4" r="1.95"/><circle cx="342.51" cy="812.2" r="1.95"/><circle cx="340.52" cy="823.4" r="1.95"/><circle cx="342.74" cy="831.4" r="1.95"/><circle cx="341.43" cy="836.6" r="1.95"/><circle cx="340.68" cy="838.6" r="1.95"/></g>
<g stroke="#363636" stroke-width="2.2"><line x1="403.65" x2="403.65" y1="790.6" y2="769.4"/><line x1="403.65" x2="403.65" y1="810.2" y2="829"/><line x1="397.6" x2="409.7" y1="769.4" y2="769.4"/><line x1="397.6" x2="409.7" y1="829" y2="829"/><rect x="391.55" y="790.6" width="24.2" height="19.6" fill="#676767"/><line x1="391.55" x2="415.75" y1="798.2" y2="798.2"/></g>
<g fill="#747474" stroke="#363636" stroke-width="1.4"><circle cx="402.45" cy="754.6" r="1.95"/><circle cx="402.65" cy="759.4" r="1.95"/><circle cx="401.26" cy="829" r="1.95"/><circle cx="405.64" cy="825.24" r="1.95"/><circle cx="406.13" cy="823.15" r="1.95"/><circle cx="406.5" cy="821.46" r="1.95"/><circle cx="405.65" cy="819.9" r="1.95"/><circle cx="402.61" cy="817.19" r="1.95"/><circle cx="404.77" cy="815.67" r="1.95"/><circle cx="401.07" cy="813.2" r="1.95"/><circle cx="401.01" cy="811.18" r="1.95"/><circle cx="404.15" cy="809.12" r="1.95"/><circle cx="406.49" cy="808.16" r="1.95"/><circle cx="406.31" cy="806.46" r="1.95"/><circle cx="404.35" cy="805.38" r="1.95"/><circle cx="402.98" cy="803.36" r="1.95"/><circle cx="402.26" cy="802.64" r="1.95"/><circle cx="401.45" cy="800.69" r="1.95"/><circle cx="406.47" cy="799.22" r="1.95"/><circle cx="403.39" cy="798.17" r="1.95"/><circle cx="402" cy="797.3" r="1.95"/><circle cx="404.34" cy="796.65" r="1.95"/><circle cx="404.14" cy="795.5" r="1.95"/><circle cx="404.47" cy="794.82" r="1.95"/><circle cx="406.39" cy="793.72" r="1.95"/><circle cx="406.48" cy="792.87" r="1.95"/><circle cx="405.37" cy="791.97" r="1.95"/><circle cx="402.17" cy="791.23" r="1.95"/><circle cx="402.07" cy="790.46" r="1.95"/><circle cx="402.24" cy="787.58" r="1.95"/><circle cx="401.85" cy="784.55" r="1.95"/><circle cx="403.43" cy="783.19" r="1.95"/><circle cx="402.27" cy="780.26" r="1.95"/><circle cx="402.41" cy="778.55" r="1.95"/><circle cx="403.06" cy="774.78" r="1.95"/><circle cx="400.81" cy="773.07" r="1.95"/><circle cx="405.59" cy="769.4" r="1.95"/></g>
<g stroke="#363636" stroke-width="2.2"><line x1="427.85" x2="427.85" y1="817.4" y2="817.4"/><line x1="427.85" x2="427.85" y1="827" y2="827"/><line x1="421.8" x2="433.9" y1="817.4" y2="817.4"/><line x1="421.8" x2="433.9" y1="827" y2="827"/><rect x="415.75" y="817.4" width="24.2" height="9.6" fill="#dcdcdc"/><line x1="415.75" x2="439.95" y1="821.8" y2="821.8"/></g>
<g fill="#ffffff" stroke="#363636" stroke-width="1.4"><circle cx="426.18" cy="789" r="1.95"/><circle cx="428.31" cy="802.6" r="1.95"/><circle cx="429.97" cy="817.4" r="1.95"/><circle cx="426.2" cy="820.2" r="1.95"/><circle cx="428.33" cy="824.6" r="1.95"/><circle cx="430.26" cy="846.6" r="1.95"/><circle cx="429.87" cy="859" r="1.95"/></g>
<g stroke="#363636" stroke-width="2.2"><line x1="464.15" x2="464.15" y1="788.2" y2="773.8"/><line x1="464.15" x2="464.15" y1="802.2" y2="805.8"/><line x1="458.1" x2="470.2" y1="773.8" y2="773.8"/><line x1="458.1" x2="470.2" y1="805.8" y2="805.8"/><rect x="452.05" y="788.2" width="24.2" height="14" fill="#676767"/><line x1="452.05" x2="476.25" y1="797" y2="797"/></g>
<g fill="#747474" stroke="#363636" stroke-width="1.4"><circle cx="465.57" cy="755.8" r="1.95"/><circle cx="462.18" cy="763.8" r="1.95"/><circle cx="465.55" cy="851.4" r="1.95"/><circle cx="461.34" cy="865.4" r="1.95"/><circle cx="461.79" cy="805.8" r="1.95"/><circle cx="465.66" cy="805.12" r="1.95"/><circle cx="465.53" cy="804.51" r="1.95"/><circle cx="462.86" cy="804.14" r="1.95"/><circle cx="463.02" cy="803.64" r="1.95"/><circle cx="462.24" cy="803.19" r="1.95"/><circle cx="465.28" cy="802.6" r="1.95"/><circle cx="462.34" cy="802.28" r="1.95"/><circle cx="464.67" cy="801.31" r="1.95"/><circle cx="463.55" cy="800.73" r="1.95"/><circle cx="465.18" cy="800.14" r="1.95"/><circle cx="461.57" cy="799.23" r="1.95"/><circle cx="466.51" cy="798.54" r="1.95"/><circle cx="462.58" cy="797.97" r="1.95"/><circle cx="463.27" cy="797.47" r="1.95"/><circle cx="466.86" cy="796.71" r="1.95"/><circle cx="461.44" cy="795.39" r="1.95"/><circle cx="466.95" cy="794.38" r="1.95"/><circle cx="461.34" cy="792.94" r="1.95"/><circle cx="463.22" cy="791.5" r="1.95"/><circle cx="463.07" cy="790.64" r="1.95"/><circle cx="462.41" cy="789.63" r="1.95"/><circle cx="463.65" cy="787.76" r="1.95"/><circle cx="462.4" cy="786.37" r="1.95"/><circle cx="466.74" cy="784.08" r="1.95"/><circle cx="466.37" cy="782.13" r="1.95"/><circle cx="465.39" cy="780.12" r="1.95"/><circle cx="461.46" cy="778.41" r="1.95"/><circle cx="465.97" cy="777.15" r="1.95"/><circle cx="461.4" cy="773.8" r="1.95"/></g>
<g stroke="#363636" stroke-width="2.2"><line x1="488.35" x2="488.35" y1="785.4" y2="760.2"/><line x1="488.35" x2="488.35" y1="809.8" y2="831.4"/><line x1="482.3" x2="494.4" y1="760.2" y2="760.2"/><line x1="482.3" x2="494.4" y1="831.4" y2="831.4"/><rect x="476.25" y="785.4" width="24.2" height="24.4" fill="#dcdcdc"/><line x1="476.25" x2="500.45" y1="799.8" y2="799.8"/></g>
<g fill="#ffffff" stroke="#363636" stroke-width="1.4"><circle cx="489.23" cy="865.4" r="1.95"/><circle cx="490.45" cy="875.8" r="1.95"/><circle cx="490.2" cy="881" r="1.95"/><circle cx="488.85" cy="831.4" r="1.95"/><circle cx="485.96" cy="828.7" r="1.95"/><circle cx="490.84" cy="827.43" r="1.95"/><circle cx="488.79" cy="826.18" r="1.95"/><circle cx="491.13" cy="824.12" r="1.95"/><circle cx="489.8" cy="822.9" r="1.95"/><circle cx="489.39" cy="820.79" r="1.95"/><circle cx="487.35" cy="819.46" r="1.95"/><circle cx="485.54" cy="817.62" r="1.95"/><circle cx="488.59" cy="816.81" r="1.95"/><circle cx="488.24" cy="814.6" r="1.95"/><circle cx="486.42" cy="813.51" r="1.95"/><circle cx="486.06" cy="812.06" r="1.95"/><circle cx="487.14" cy="810.12" r="1.95"/><circle cx="490.42" cy="809.04" r="1.95"/><circle cx="486.4" cy="808.37" r="1.95"/><circle cx="485.79" cy="807.89" r="1.95"/><circle cx="488.19" cy="807" r="1.95"/><circle cx="488.36" cy="806.3" r="1.95"/><circle cx="488.39" cy="805.75" r="1.95"/><circle cx="489.74" cy="804.9" r="1.95"/><circle cx="486.72" cy="804.34" r="1.95"/><circle cx="491.13" cy="803.4" r="1.95"/><circle cx="486.04" cy="802.63" r="1.95"/><circle cx="491.15" cy="801.78" r="1.95"/><circle cx="490.9" cy="801.1" r="1.95"/><circle cx="486.73" cy="800.65" r="1.95"/><circle cx="486.62" cy="799.51" r="1.95"/><circle cx="485.84" cy="798.6" r="1.95"/><circle cx="486.32" cy="797.41" r="1.95"/><circle cx="489.6" cy="796.58" r="1.95"/><circle cx="490.63" cy="795.34" r="1.95"/><circle cx="486.71" cy="794.73" r="1.95"/><circle cx="487.65" cy="793.41" r="1.95"/><circle cx="489.15" cy="792.26" r="1.95"/><circle cx="487.16" cy="791.53" r="1.95"/><circle cx="485.57" cy="790.13" r="1.95"/><circle cx="488.97" cy="789.3" r="1.95"/><circle cx="490.63" cy="788.16" r="1.95"/><circle cx="486.45" cy="787.02" r="1.95"/><circle cx="488.8" cy="786.03" r="1.95"/><circle cx="490.65" cy="784.39" r="1.95"/><circle cx="486.35" cy="782.71" r="1.95"/><circle cx="488.8" cy="781.42" r="1.95"/><circle cx="486.74" cy="779.98" r="1.95"/><circle cx="488.57" cy="777.14" r="1.95"/><circle cx="490.11" cy="776.08" r="1.95"/><circle cx="490.01" cy="774.27" r="1.95"/><circle cx="486.7" cy="771.79" r="1.95"/><circle cx="488.13" cy="769.96" r="1.95"/><circle cx="488.06" cy="767.92" r="1.95"/><circle cx="489.76" cy="766.32" r="1.95"/><circle cx="488.16" cy="765.09" r="1.95"/><circle cx="486.56" cy="763.45" r="1.95"/><circle cx="486.9" cy="760.2" r="1.95"/></g>
<g stroke="#363636" stroke-width="2.2"><line x1="534.77" x2="534.77" y1="762.6" y2="752.6"/><line x1="534.77" x2="534.77" y1="796.6" y2="809"/><line x1="528.71" x2="540.83" y1="752.6" y2="752.6"/><line x1="528.71" x2="540.83" y1="809" y2="809"/><rect x="522.66" y="762.6" width="24.23" height="34" fill="#676767"/><line x1="522.66" x2="546.88" y1="778.6" y2="778.6"/></g>
<g fill="#747474" stroke="#363636" stroke-width="1.4"><circle cx="535.38" cy="752.6" r="1.95"/><circle cx="535.56" cy="759" r="1.95"/><circle cx="536.46" cy="767" r="1.95"/><circle cx="533.57" cy="778.6" r="1.95"/><circle cx="534.05" cy="787.8" r="1.95"/><circle cx="533.65" cy="793.4" r="1.95"/><circle cx="532.91" cy="798.6" r="1.95"/><circle cx="534.88" cy="809" r="1.95"/></g>
<g stroke="#363636" stroke-width="2.2"><line x1="595.34" x2="595.34" y1="765.4" y2="741.8"/><line x1="595.34" x2="595.34" y1="786.6" y2="806.2"/><line x1="589.28" x2="601.39" y1="741.8" y2="741.8"/><line x1="589.28" x2="601.39" y1="806.2" y2="806.2"/><rect x="583.22" y="765.4" width="24.23" height="21.2" fill="#676767"/><line x1="583.22" x2="607.45" y1="771.4" y2="771.4"/></g>
<g fill="#747474" stroke="#363636" stroke-width="1.4"><circle cx="592.53" cy="827" r="1.95"/><circle cx="593.75" cy="806.2" r="1.95"/><circle cx="596.45" cy="802.79" r="1.95"/><circle cx="593.47" cy="801.83" r="1.95"/><circle cx="595.48" cy="798.96" r="1.95"/><circle cx="597.56" cy="797.17" r="1.95"/><circle cx="592.54" cy="795.97" r="1.95"/><circle cx="597.51" cy="793.29" r="1.95"/><circle cx="596.32" cy="791.48" r="1.95"/><circle cx="596.4" cy="789.02" r="1.95"/><circle cx="595.96" cy="787.4" r="1.95"/><circle cx="598.17" cy="786.11" r="1.95"/><circle cx="598.09" cy="784.74" r="1.95"/><circle cx="592.82" cy="782.8" r="1.95"/><circle cx="595.75" cy="781.18" r="1.95"/><circle cx="596.27" cy="779.64" r="1.95"/><circle cx="596.26" cy="778.3" r="1.95"/><circle cx="596.16" cy="777.02" r="1.95"/><circle cx="598.23" cy="775.31" r="1.95"/><circle cx="593.98" cy="773.3" r="1.95"/><circle cx="597.31" cy="772.18" r="1.95"/><circle cx="597.08" cy="771.17" r="1.95"/><circle cx="593.93" cy="770.34" r="1.95"/><circle cx="594.44" cy="769.79" r="1.95"/><circle cx="596.44" cy="769.16" r="1.95"/><circle cx="594.56" cy="768.57" r="1.95"/><circle cx="594.25" cy="767.97" r="1.95"/><circle cx="593.86" cy="767.47" r="1.95"/><circle cx="595.45" cy="767.06" r="1.95"/><circle cx="596.65" cy="766.27" r="1.95"/><circle cx="596.23" cy="765.53" r="1.95"/><circle cx="594.16" cy="764.32" r="1.95"/><circle cx="597.68" cy="761.63" r="1.95"/><circle cx="593.7" cy="758.99" r="1.95"/><circle cx="596.17" cy="756.86" r="1.95"/><circle cx="595.96" cy="754.29" r="1.95"/><circle cx="594.5" cy="752.93" r="1.95"/><circle cx="595.66" cy="749.86" r="1.95"/><circle cx="593.9" cy="747.22" r="1.95"/><circle cx="593.66" cy="745.66" r="1.95"/><circle cx="598.15" cy="741.8" r="1.95"/></g>
<g stroke="#363636" stroke-width="2.2"><line x1="619.56" x2="619.56" y1="780.2" y2="761.8"/><line x1="619.56" x2="619.56" y1="803.8" y2="819.4"/><line x1="613.51" x2="625.62" y1="761.8" y2="761.8"/><line x1="613.51" x2="625.62" y1="819.4" y2="819.4"/><rect x="607.45" y="780.2" width="24.23" height="23.6" fill="#dcdcdc"/><line x1="607.45" x2="631.68" y1="782.2" y2="782.2"/></g>
<g fill="#ffffff" stroke="#363636" stroke-width="1.4"><circle cx="616.9" cy="761.8" r="1.95"/><circle cx="619.2" cy="766.6" r="1.95"/><circle cx="620.23" cy="781" r="1.95"/><circle cx="617.78" cy="793.4" r="1.95"/><circle cx="621.41" cy="803.4" r="1.95"/><circle cx="616.82" cy="819.4" r="1.95"/><circle cx="621.33" cy="847" r="1.95"/></g>
<g stroke="#363636" stroke-width="2.2"><line x1="655.9" x2="655.9" y1="755.4" y2="745"/><line x1="655.9" x2="655.9" y1="777" y2="799.8"/><line x1="649.85" x2="661.96" y1="745" y2="745"/><line x1="649.85" x2="661.96" y1="799.8" y2="799.8"/><rect x="643.79" y="755.4" width="24.23" height="21.6" fill="#676767"/><line x1="643.79" x2="668.02" y1="763.8" y2="763.8"/></g>
<g fill="#747474" stroke="#363636" stroke-width="1.4"><circle cx="654.65" cy="791.8" r="1.95"/><circle cx="656.85" cy="823" r="1.95"/><circle cx="657.38" cy="847" r="1.95"/><circle cx="653.89" cy="799.8" r="1.95"/><circle cx="658.37" cy="795.62" r="1.95"/><circle cx="656.41" cy="792.06" r="1.95"/><circle cx="654.08" cy="789.31" r="1.95"/><circle cx="658.57" cy="785.9" r="1.95"/><circle cx="653.96" cy="783.26" r="1.95"/><circle cx="654.06" cy="779.91" r="1.95"/><circle cx="657.87" cy="777.62" r="1.95"/><circle cx="653.51" cy="774.81" r="1.95"/><circle cx="656.83" cy="773.88" r="1.95"/><circle cx="658.78" cy="772.25" r="1.95"/><circle cx="655.71" cy="770.25" r="1.95"/><circle cx="656.21" cy="768" r="1.95"/><circle cx="654.36" cy="766" r="1.95"/><circle cx="656.24" cy="764.53" r="1.95"/><circle cx="655.84" cy="763.34" r="1.95"/><circle cx="657.14" cy="762.38" r="1.95"/><circle cx="653.6" cy="760.7" r="1.95"/><circle cx="658.47" cy="759.74" r="1.95"/><circle cx="655.77" cy="758.73" r="1.95"/><circle cx="658.41" cy="757.46" r="1.95"/><circle cx="657.4" cy="756.48" r="1.95"/><circle cx="653.83" cy="755.18" r="1.95"/><circle cx="656.1" cy="753.65" r="1.95"/><circle cx="658.62" cy="752.73" r="1.95"/><circle cx="657.99" cy="750.93" r="1.95"/><circle cx="653.76" cy="749.98" r="1.95"/><circle cx="653.03" cy="748.83" r="1.95"/><circle cx="655.05" cy="746.96" r="1.95"/><circle cx="653.7" cy="745" r="1.95"/></g>
<g stroke="#363636" stroke-width="2.2"><line x1="680.13" x2="680.13" y1="763" y2="748.2"/><line x1="680.13" x2="680.13" y1="789" y2="814.6"/><line x1="674.07" x2="686.19" y1="748.2" y2="748.2"/><line x1="674.07" x2="686.19" y1="814.6" y2="814.6"/><rect x="668.02" y="763" width="24.23" height="26" fill="#dcdcdc"/><line x1="668.02" x2="692.24" y1="778.6" y2="778.6"/></g>
<g fill="#ffffff" stroke="#363636" stroke-width="1.4"><circle cx="682.85" cy="836.6" r="1.95"/><circle cx="678.33" cy="860.2" r="1.95"/><circle cx="682.63" cy="871.4" r="1.95"/><circle cx="677.66" cy="814.6" r="1.95"/><circle cx="678.48" cy="812.19" r="1.95"/><circle cx="679.9" cy="810.17" r="1.95"/><circle cx="681.35" cy="807.56" r="1.95"/><circle cx="679.83" cy="805.66" r="1.95"/><circle cx="677.6" cy="804.92" r="1.95"/><circle cx="680.3" cy="802.36" r="1.95"/><circle cx="682.39" cy="800.35" r="1.95"/><circle cx="678.65" cy="798.87" r="1.95"/><circle cx="679.51" cy="796.67" r="1.95"/><circle cx="682.29" cy="795.42" r="1.95"/><circle cx="678.95" cy="793.53" r="1.95"/><circle cx="677.45" cy="791" r="1.95"/><circle cx="678.91" cy="789.75" r="1.95"/><circle cx="680.9" cy="788.58" r="1.95"/><circle cx="678.97" cy="787.89" r="1.95"/><circle cx="677.73" cy="786.96" r="1.95"/><circle cx="678.39" cy="785.94" r="1.95"/><circle cx="681.13" cy="785.62" r="1.95"/><circle cx="679.78" cy="784.59" r="1.95"/><circle cx="679.25" cy="783.96" r="1.95"/><circle cx="678.96" cy="783.36" r="1.95"/><circle cx="680.65" cy="782.4" r="1.95"/><circle cx="677.59" cy="781.62" r="1.95"/><circle cx="680.82" cy="780.69" r="1.95"/><circle cx="680.87" cy="780.01" r="1.95"/><circle cx="677.41" cy="779.14" r="1.95"/><circle cx="682.93" cy="778.71" r="1.95"/><circle cx="683.03" cy="777.16" r="1.95"/><circle cx="677.53" cy="776.48" r="1.95"/><circle cx="680.59" cy="775.15" r="1.95"/><circle cx="682.4" cy="773.83" r="1.95"/><circle cx="679.07" cy="772.86" r="1.95"/><circle cx="677.63" cy="771.54" r="1.95"/><circle cx="681.82" cy="770.75" r="1.95"/><circle cx="682.59" cy="769.79" r="1.95"/><circle cx="679.54" cy="768.21" r="1.95"/><circle cx="680.73" cy="767.03" r="1.95"/><circle cx="681.03" cy="766.13" r="1.95"/><circle cx="682.3" cy="765.04" r="1.95"/><circle cx="678.34" cy="763.77" r="1.95"/><circle cx="677.67" cy="762.67" r="1.95"/><circle cx="682.73" cy="761.47" r="1.95"/><circle cx="678.59" cy="760.73" r="1.95"/><circle cx="681.78" cy="759.61" r="1.95"/><circle cx="678.04" cy="758.3" r="1.95"/><circle cx="677.85" cy="757.4" r="1.95"/><circle cx="678.55" cy="756.05" r="1.95"/><circle cx="677.83" cy="755.3" r="1.95"/><circle cx="678.47" cy="754.43" r="1.95"/><circle cx="682.55" cy="753.03" r="1.95"/><circle cx="680.73" cy="752.21" r="1.95"/><circle cx="678.83" cy="751.11" r="1.95"/><circle cx="679.5" cy="749.86" r="1.95"/><circle cx="679.76" cy="748.2" r="1.95"/></g>
<g stroke="#363636" stroke-width="2.2"><line x1="726.63" x2="726.63" y1="798.6" y2="792.6"/><line x1="726.63" x2="726.63" y1="819" y2="827.8"/><line x1="720.55" x2="732.71" y1="792.6" y2="792.6"/><line x1="720.55" x2="732.71" y1="827.8" y2="827.8"/><rect x="714.48" y="798.6" width="24.31" height="20.4" fill="#676767"/><line x1="714.48" x2="738.78" y1="809.4" y2="809.4"/></g>
<g fill="#747474" stroke="#363636" stroke-width="1.4"><circle cx="724.05" cy="847" r="1.95"/><circle cx="724.25" cy="827.8" r="1.95"/><circle cx="728.53" cy="821.08" r="1.95"/><circle cx="723.9" cy="816.92" r="1.95"/><circle cx="724.32" cy="814.48" r="1.95"/><circle cx="725.91" cy="808.61" r="1.95"/><circle cx="727.53" cy="805.97" r="1.95"/><circle cx="724.05" cy="801.13" r="1.95"/><circle cx="723.81" cy="796.61" r="1.95"/><circle cx="728.99" cy="792.6" r="1.95"/></g>
<g stroke="#363636" stroke-width="2.2"><line x1="787.4" x2="787.4" y1="790.2" y2="759.8"/><line x1="787.4" x2="787.4" y1="813.4" y2="833"/><line x1="781.32" x2="793.47" y1="759.8" y2="759.8"/><line x1="781.32" x2="793.47" y1="833" y2="833"/><rect x="775.24" y="790.2" width="24.31" height="23.2" fill="#676767"/><line x1="775.24" x2="799.55" y1="801.4" y2="801.4"/></g>
<g fill="#747474" stroke="#363636" stroke-width="1.4"><circle cx="787.38" cy="750.6" r="1.95"/><circle cx="789.99" cy="833" r="1.95"/><circle cx="786.07" cy="830.7" r="1.95"/><circle cx="785.78" cy="828.55" r="1.95"/><circle cx="787.29" cy="826.45" r="1.95"/><circle cx="788.35" cy="825.55" r="1.95"/><circle cx="786.46" cy="823.72" r="1.95"/><circle cx="787.76" cy="822.01" r="1.95"/><circle cx="786.2" cy="820.07" r="1.95"/><circle cx="790.25" cy="818.69" r="1.95"/><circle cx="787.53" cy="816.88" r="1.95"/><circle cx="787.15" cy="814.74" r="1.95"/><circle cx="784.84" cy="812.99" r="1.95"/><circle cx="788.84" cy="811.8" r="1.95"/><circle cx="784.6" cy="810.96" r="1.95"/><circle cx="787.62" cy="809.83" r="1.95"/><circle cx="789.93" cy="809.08" r="1.95"/><circle cx="785.91" cy="807.95" r="1.95"/><circle cx="786.4" cy="806.7" r="1.95"/><circle cx="788.24" cy="805.86" r="1.95"/><circle cx="788.5" cy="804.88" r="1.95"/><circle cx="785.49" cy="803.77" r="1.95"/><circle cx="785.73" cy="802.57" r="1.95"/><circle cx="789.38" cy="801.55" r="1.95"/><circle cx="788" cy="800.17" r="1.95"/><circle cx="786.47" cy="799.55" r="1.95"/><circle cx="787.72" cy="798.59" r="1.95"/><circle cx="788.04" cy="797.55" r="1.95"/><circle cx="789" cy="796.4" r="1.95"/><circle cx="784.95" cy="795.43" r="1.95"/><circle cx="787.39" cy="794.47" r="1.95"/><circle cx="787.03" cy="793.5" r="1.95"/><circle cx="785.4" cy="792.2" r="1.95"/><circle cx="784.74" cy="791.23" r="1.95"/><circle cx="787.62" cy="790.71" r="1.95"/><circle cx="789.5" cy="787.92" r="1.95"/><circle cx="787.48" cy="785.93" r="1.95"/><circle cx="787.12" cy="782.9" r="1.95"/><circle cx="787.56" cy="779.38" r="1.95"/><circle cx="788.98" cy="778.04" r="1.95"/><circle cx="785.21" cy="774.62" r="1.95"/><circle cx="786.59" cy="771.96" r="1.95"/><circle cx="788.44" cy="769.88" r="1.95"/><circle cx="786.2" cy="767.3" r="1.95"/><circle cx="787.15" cy="764" r="1.95"/><circle cx="790.18" cy="759.8" r="1.95"/></g>
<g stroke="#363636" stroke-width="2.2"><line x1="811.7" x2="811.7" y1="814.6" y2="802.6"/><line x1="811.7" x2="811.7" y1="827.8" y2="833.8"/><line x1="805.63" x2="817.78" y1="802.6" y2="802.6"/><line x1="805.63" x2="817.78" y1="833.8" y2="833.8"/><rect x="799.55" y="814.6" width="24.31" height="13.2" fill="#dcdcdc"/><line x1="799.55" x2="823.86" y1="820.2" y2="820.2"/></g>
<g fill="#ffffff" stroke="#363636" stroke-width="1.4"><circle cx="813.36" cy="793.4" r="1.95"/><circle cx="813.64" cy="802.6" r="1.95"/><circle cx="810.27" cy="814.6" r="1.95"/><circle cx="811.43" cy="820.2" r="1.95"/><circle cx="813.4" cy="827.8" r="1.95"/><circle cx="809.01" cy="833.8" r="1.95"/></g>
<g stroke="#363636" stroke-width="2.2"><line x1="848.16" x2="848.16" y1="788.2" y2="750.2"/><line x1="848.16" x2="848.16" y1="823.8" y2="847"/><line x1="842.09" x2="854.24" y1="750.2" y2="750.2"/><line x1="842.09" x2="854.24" y1="847" y2="847"/><rect x="836.01" y="788.2" width="24.31" height="35.6" fill="#676767"/><line x1="836.01" x2="860.32" y1="800.2" y2="800.2"/></g>
<g fill="#747474" stroke="#363636" stroke-width="1.4"><circle cx="847.32" cy="836.6" r="1.95"/><circle cx="848.13" cy="834.58" r="1.95"/><circle cx="848.89" cy="832.56" r="1.95"/><circle cx="850.34" cy="831.29" r="1.95"/><circle cx="848.81" cy="829.7" r="1.95"/><circle cx="849.44" cy="828.69" r="1.95"/><circle cx="850.14" cy="827.08" r="1.95"/><circle cx="845.69" cy="825.7" r="1.95"/><circle cx="848.46" cy="824.55" r="1.95"/><circle cx="850.72" cy="821.52" r="1.95"/><circle cx="850.85" cy="818.49" r="1.95"/><circle cx="850.09" cy="816.35" r="1.95"/><circle cx="845.88" cy="813.26" r="1.95"/><circle cx="847.91" cy="810.9" r="1.95"/><circle cx="849.92" cy="808.3" r="1.95"/><circle cx="850.59" cy="805.39" r="1.95"/><circle cx="848.64" cy="803.31" r="1.95"/><circle cx="845.87" cy="800.69" r="1.95"/><circle cx="845.96" cy="798.64" r="1.95"/><circle cx="848.97" cy="797.61" r="1.95"/><circle cx="849.08" cy="796.12" r="1.95"/><circle cx="848.45" cy="794.58" r="1.95"/><circle cx="850.38" cy="793.22" r="1.95"/><circle cx="850.6" cy="791.65" r="1.95"/><circle cx="846.39" cy="790.63" r="1.95"/><circle cx="845.74" cy="789.59" r="1.95"/><circle cx="849.72" cy="788.13" r="1.95"/><circle cx="849.89" cy="783.14" r="1.95"/><circle cx="846.18" cy="778.93" r="1.95"/><circle cx="850.97" cy="775.04" r="1.95"/><circle cx="847.33" cy="769.11" r="1.95"/><circle cx="850.9" cy="764.61" r="1.95"/><circle cx="845.84" cy="761.8" r="1.95"/><circle cx="846.66" cy="756.53" r="1.95"/><circle cx="846.26" cy="750.2" r="1.95"/></g>
<g stroke="#363636" stroke-width="2.2"><line x1="872.47" x2="872.47" y1="779.4" y2="741"/><line x1="872.47" x2="872.47" y1="815.4" y2="855"/><line x1="866.39" x2="878.55" y1="741" y2="741"/><line x1="866.39" x2="878.55" y1="855" y2="855"/><rect x="860.32" y="779.4" width="24.31" height="36" fill="#dcdcdc"/><line x1="860.32" x2="884.62" y1="802.2" y2="802.2"/></g>
<g fill="#ffffff" stroke="#363636" stroke-width="1.4"><circle cx="874.06" cy="855" r="1.95"/><circle cx="874.22" cy="834.6" r="1.95"/><circle cx="874.55" cy="832.66" r="1.95"/><circle cx="872.86" cy="830.61" r="1.95"/><circle cx="873.23" cy="828.89" r="1.95"/><circle cx="870.03" cy="828.04" r="1.95"/><circle cx="874.48" cy="825.71" r="1.95"/><circle cx="870.72" cy="825.05" r="1.95"/><circle cx="869.7" cy="823.14" r="1.95"/><circle cx="872.85" cy="821.39" r="1.95"/><circle cx="871.55" cy="820.06" r="1.95"/><circle cx="872.29" cy="818.07" r="1.95"/><circle cx="875.24" cy="816.91" r="1.95"/><circle cx="872.32" cy="815.23" r="1.95"/><circle cx="871.33" cy="814.47" r="1.95"/><circle cx="873.26" cy="812.97" r="1.95"/><circle cx="875.05" cy="811.98" r="1.95"/><circle cx="870.33" cy="811.29" r="1.95"/><circle cx="873.31" cy="810.05" r="1.95"/><circle cx="873.26" cy="808.99" r="1.95"/><circle cx="869.94" cy="808.15" r="1.95"/><circle cx="873.47" cy="807.21" r="1.95"/><circle cx="869.86" cy="805.79" r="1.95"/><circle cx="869.72" cy="804.79" r="1.95"/><circle cx="870.52" cy="804.03" r="1.95"/><circle cx="869.82" cy="802.74" r="1.95"/><circle cx="870.13" cy="800.93" r="1.95"/><circle cx="872.99" cy="799.27" r="1.95"/><circle cx="872.54" cy="797.21" r="1.95"/><circle cx="870.04" cy="795.8" r="1.95"/><circle cx="870.07" cy="793.96" r="1.95"/><circle cx="873.51" cy="791.83" r="1.95"/><circle cx="872.98" cy="790.24" r="1.95"/><circle cx="873.04" cy="788.07" r="1.95"/><circle cx="870.55" cy="786.98" r="1.95"/><circle cx="872.02" cy="785.11" r="1.95"/><circle cx="874.92" cy="783.44" r="1.95"/><circle cx="872" cy="781.28" r="1.95"/><circle cx="874.69" cy="779.64" r="1.95"/><circle cx="873.11" cy="776.87" r="1.95"/><circle cx="872.2" cy="772.6" r="1.95"/><circle cx="873.17" cy="770.8" r="1.95"/><circle cx="870.99" cy="766.96" r="1.95"/><circle cx="870.85" cy="763.64" r="1.95"/><circle cx="870.61" cy="760.25" r="1.95"/><circle cx="873.29" cy="758.04" r="1.95"/><circle cx="871.97" cy="754.34" r="1.95"/><circle cx="873.86" cy="751.81" r="1.95"/><circle cx="872.27" cy="748.04" r="1.95"/><circle cx="873.24" cy="745.07" r="1.95"/><circle cx="873.68" cy="741" r="1.95"/></g>
<g stroke="#363636" stroke-width="2.2"><line x1="148.05" x2="148.05" y1="1194.11" y2="1191.02"/><line x1="148.05" x2="148.05" y1="1201.45" y2="1204.15"/><line x1="141.93" x2="154.17" y1="1191.02" y2="1191.02"/><line x1="141.93" x2="154.17" y1="1204.15" y2="1204.15"/><rect x="135.82" y="1194.11" width="24.47" height="7.34" fill="#676767"/><line x1="135.82" x2="160.28" y1="1197.97" y2="1197.97"/></g>
<g fill="#747474" stroke="#363636" stroke-width="1.4"><circle cx="146.07" cy="1223.48" r="1.95"/><circle cx="145.19" cy="1204.15" r="1.95"/><circle cx="146.59" cy="1201.99" r="1.95"/><circle cx="150.03" cy="1200.4" r="1.95"/><circle cx="145.73" cy="1197.81" r="1.95"/><circle cx="145.68" cy="1196.17" r="1.95"/><circle cx="149.03" cy="1193.83" r="1.95"/><circle cx="150.49" cy="1191.02" r="1.95"/></g>
<g stroke="#363636" stroke-width="2.2"><line x1="209.22" x2="209.22" y1="1192.56" y2="1182.13"/><line x1="209.22" x2="209.22" y1="1212.27" y2="1223.48"/><line x1="203.1" x2="215.33" y1="1182.13" y2="1182.13"/><line x1="203.1" x2="215.33" y1="1223.48" y2="1223.48"/><rect x="196.98" y="1192.56" width="24.47" height="19.71" fill="#676767"/><line x1="196.98" x2="221.45" y1="1196.04" y2="1196.04"/></g>
<g fill="#747474" stroke="#363636" stroke-width="1.4"><circle cx="210.52" cy="1116.04" r="1.95"/><circle cx="207.24" cy="1122.23" r="1.95"/><circle cx="207.74" cy="1223.48" r="1.95"/><circle cx="207.47" cy="1221.9" r="1.95"/><circle cx="207.61" cy="1220.27" r="1.95"/><circle cx="211.33" cy="1218.85" r="1.95"/><circle cx="211.61" cy="1217.98" r="1.95"/><circle cx="210.24" cy="1216.76" r="1.95"/><circle cx="210.85" cy="1215.42" r="1.95"/><circle cx="209.94" cy="1213.78" r="1.95"/><circle cx="208.51" cy="1212.47" r="1.95"/><circle cx="209.78" cy="1210.76" r="1.95"/><circle cx="208.69" cy="1208.54" r="1.95"/><circle cx="208.49" cy="1207.06" r="1.95"/><circle cx="208.34" cy="1205.13" r="1.95"/><circle cx="208.55" cy="1203.79" r="1.95"/><circle cx="210.18" cy="1201.15" r="1.95"/><circle cx="207.98" cy="1199.92" r="1.95"/><circle cx="208.54" cy="1198.05" r="1.95"/><circle cx="212.04" cy="1196.55" r="1.95"/><circle cx="208.62" cy="1195.63" r="1.95"/><circle cx="210.14" cy="1195.21" r="1.95"/><circle cx="210.32" cy="1194.87" r="1.95"/><circle cx="206.45" cy="1194.36" r="1.95"/><circle cx="208.87" cy="1194" r="1.95"/><circle cx="206.79" cy="1193.7" r="1.95"/><circle cx="207.65" cy="1193.17" r="1.95"/><circle cx="207.7" cy="1192.79" r="1.95"/><circle cx="211.16" cy="1192.11" r="1.95"/><circle cx="209.9" cy="1191.29" r="1.95"/><circle cx="207.44" cy="1189.97" r="1.95"/><circle cx="208.01" cy="1188.46" r="1.95"/><circle cx="209.73" cy="1187.79" r="1.95"/><circle cx="206.9" cy="1186.5" r="1.95"/><circle cx="210.81" cy="1185.43" r="1.95"/><circle cx="208.41" cy="1183.61" r="1.95"/><circle cx="212.03" cy="1182.13" r="1.95"/></g>
<g stroke="#363636" stroke-width="2.2"><line x1="233.68" x2="233.68" y1="1190.63" y2="1189.08"/><line x1="233.68" x2="233.68" y1="1199.52" y2="1200.68"/><line x1="227.57" x2="239.8" y1="1189.08" y2="1189.08"/><line x1="227.57" x2="239.8" y1="1200.68" y2="1200.68"/><rect x="221.45" y="1190.63" width="24.47" height="8.89" fill="#dcdcdc"/><line x1="221.45" x2="245.92" y1="1194.49" y2="1194.49"/></g>
<g fill="#ffffff" stroke="#363636" stroke-width="1.4"><circle cx="233.61" cy="1173.63" r="1.95"/><circle cx="232.5" cy="1200.68" r="1.95"/><circle cx="235.61" cy="1199.37" r="1.95"/><circle cx="232.91" cy="1196.81" r="1.95"/><circle cx="234.37" cy="1193.52" r="1.95"/><circle cx="235.95" cy="1190.44" r="1.95"/><circle cx="235.32" cy="1189.08" r="1.95"/></g>
<g stroke="#363636" stroke-width="2.2"><line x1="270.38" x2="270.38" y1="1202.61" y2="1192.17"/><line x1="270.38" x2="270.38" y1="1223.86" y2="1235.07"/><line x1="264.27" x2="276.5" y1="1192.17" y2="1192.17"/><line x1="264.27" x2="276.5" y1="1235.07" y2="1235.07"/><rect x="258.15" y="1202.61" width="24.47" height="21.25" fill="#676767"/><line x1="258.15" x2="282.62" y1="1213.82" y2="1213.82"/></g>
<g fill="#747474" stroke="#363636" stroke-width="1.4"><circle cx="268.78" cy="1116.04" r="1.95"/><circle cx="270.51" cy="1235.07" r="1.95"/><circle cx="271.18" cy="1226.14" r="1.95"/><circle cx="272.75" cy="1223.8" r="1.95"/><circle cx="272.12" cy="1217.3" r="1.95"/><circle cx="271.83" cy="1214.41" r="1.95"/><circle cx="270.05" cy="1209.87" r="1.95"/><circle cx="269.3" cy="1202.92" r="1.95"/><circle cx="272.08" cy="1200.28" r="1.95"/><circle cx="268.1" cy="1192.17" r="1.95"/></g>
<g stroke="#363636" stroke-width="2.2"><line x1="294.85" x2="294.85" y1="1192.17" y2="1176.72"/><line x1="294.85" x2="294.85" y1="1208.79" y2="1223.48"/><line x1="288.73" x2="300.97" y1="1176.72" y2="1176.72"/><line x1="288.73" x2="300.97" y1="1223.48" y2="1223.48"/><rect x="282.62" y="1192.17" width="24.47" height="16.62" fill="#dcdcdc"/><line x1="282.62" x2="307.08" y1="1198.74" y2="1198.74"/></g>
<g fill="#ffffff" stroke="#363636" stroke-width="1.4"><circle cx="296.08" cy="1077.79" r="1.95"/><circle cx="293.77" cy="1104.06" r="1.95"/><circle cx="294.94" cy="1129.96" r="1.95"/><circle cx="297.55" cy="1163.96" r="1.95"/><circle cx="294.16" cy="1235.07" r="1.95"/><circle cx="295.54" cy="1235.07" r="1.95"/><circle cx="292.94" cy="1223.48" r="1.95"/><circle cx="293.18" cy="1220.71" r="1.95"/><circle cx="293.46" cy="1219.69" r="1.95"/><circle cx="293.03" cy="1217.87" r="1.95"/><circle cx="293.02" cy="1215.84" r="1.95"/><circle cx="294.91" cy="1213.9" r="1.95"/><circle cx="292.5" cy="1212.53" r="1.95"/><circle cx="297.5" cy="1210.91" r="1.95"/><circle cx="295.6" cy="1209.42" r="1.95"/><circle cx="295.14" cy="1208.17" r="1.95"/><circle cx="295.1" cy="1206.74" r="1.95"/><circle cx="296.05" cy="1205.43" r="1.95"/><circle cx="293.64" cy="1204.83" r="1.95"/><circle cx="292" cy="1203.3" r="1.95"/><circle cx="292.61" cy="1202.53" r="1.95"/><circle cx="292.16" cy="1201.26" r="1.95"/><circle cx="296.89" cy="1199.78" r="1.95"/><circle cx="293.71" cy="1198.7" r="1.95"/><circle cx="296.76" cy="1197.83" r="1.95"/><circle cx="296.13" cy="1197.03" r="1.95"/><circle cx="291.98" cy="1196.38" r="1.95"/><circle cx="295.8" cy="1195.68" r="1.95"/><circle cx="297.42" cy="1194.8" r="1.95"/><circle cx="295.78" cy="1194.28" r="1.95"/><circle cx="295.8" cy="1193.44" r="1.95"/><circle cx="294.93" cy="1192.7" r="1.95"/><circle cx="293.94" cy="1191.8" r="1.95"/><circle cx="293.33" cy="1189.84" r="1.95"/><circle cx="292.29" cy="1187.81" r="1.95"/><circle cx="296.23" cy="1186.51" r="1.95"/><circle cx="293.76" cy="1184.61" r="1.95"/><circle cx="295.88" cy="1182.4" r="1.95"/><circle cx="292.43" cy="1180.63" r="1.95"/><circle cx="294.13" cy="1179.58" r="1.95"/><circle cx="292" cy="1176.72" r="1.95"/></g>
<g stroke="#363636" stroke-width="2.2"><line x1="341.53" x2="341.53" y1="1189.86" y2="1188.7"/><line x1="341.53" x2="341.53" y1="1197.97" y2="1200.68"/><line x1="335.42" x2="347.64" y1="1188.7" y2="1188.7"/><line x1="335.42" x2="347.64" y1="1200.68" y2="1200.68"/><rect x="329.31" y="1189.86" width="24.44" height="8.12" fill="#676767"/><line x1="329.31" x2="353.75" y1="1194.49" y2="1194.49"/></g>
<g fill="#747474" stroke="#363636" stroke-width="1.4"><circle cx="344.22" cy="1216.91" r="1.95"/><circle cx="341.74" cy="1200.68" r="1.95"/><circle cx="340.4" cy="1197.52" r="1.95"/><circle cx="343.75" cy="1195.96" r="1.95"/><circle cx="340.63" cy="1193.87" r="1.95"/><circle cx="339.74" cy="1189.8" r="1.95"/><circle cx="343.55" cy="1188.7" r="1.95"/></g>
<g stroke="#363636" stroke-width="2.2"><line x1="402.63" x2="402.63" y1="1185.22" y2="1176.72"/><line x1="402.63" x2="402.63" y1="1201.84" y2="1223.48"/><line x1="396.52" x2="408.74" y1="1176.72" y2="1176.72"/><line x1="396.52" x2="408.74" y1="1223.48" y2="1223.48"/><rect x="390.41" y="1185.22" width="24.44" height="16.62" fill="#676767"/><line x1="390.41" x2="414.85" y1="1192.56" y2="1192.56"/></g>
<g fill="#747474" stroke="#363636" stroke-width="1.4"><circle cx="403.88" cy="1123.77" r="1.95"/><circle cx="402.81" cy="1129.96" r="1.95"/><circle cx="403.78" cy="1223.48" r="1.95"/><circle cx="405.28" cy="1220.23" r="1.95"/><circle cx="404" cy="1217.33" r="1.95"/><circle cx="404.1" cy="1215.55" r="1.95"/><circle cx="405.12" cy="1211.95" r="1.95"/><circle cx="401.75" cy="1209.19" r="1.95"/><circle cx="403.92" cy="1207.67" r="1.95"/><circle cx="402.09" cy="1205.54" r="1.95"/><circle cx="405.29" cy="1202.37" r="1.95"/><circle cx="405.51" cy="1201.33" r="1.95"/><circle cx="400.64" cy="1199.71" r="1.95"/><circle cx="405.17" cy="1199.01" r="1.95"/><circle cx="400.25" cy="1197.59" r="1.95"/><circle cx="399.81" cy="1196.73" r="1.95"/><circle cx="401.64" cy="1195.69" r="1.95"/><circle cx="400.77" cy="1194.66" r="1.95"/><circle cx="400.31" cy="1193.57" r="1.95"/><circle cx="404.29" cy="1192.42" r="1.95"/><circle cx="401.85" cy="1191.62" r="1.95"/><circle cx="402.35" cy="1190.97" r="1.95"/><circle cx="405" cy="1190.11" r="1.95"/><circle cx="404.38" cy="1189.45" r="1.95"/><circle cx="400.04" cy="1188.53" r="1.95"/><circle cx="405.37" cy="1187.69" r="1.95"/><circle cx="403.13" cy="1186.83" r="1.95"/><circle cx="402.47" cy="1186" r="1.95"/><circle cx="401.96" cy="1184.9" r="1.95"/><circle cx="402.2" cy="1183.72" r="1.95"/><circle cx="403.8" cy="1183.19" r="1.95"/><circle cx="400.26" cy="1181.85" r="1.95"/><circle cx="399.84" cy="1181.33" r="1.95"/><circle cx="404.22" cy="1179.86" r="1.95"/><circle cx="400.07" cy="1178.92" r="1.95"/><circle cx="400.77" cy="1178.31" r="1.95"/><circle cx="402.18" cy="1176.72" r="1.95"/></g>
<g stroke="#363636" stroke-width="2.2"><line x1="427.07" x2="427.07" y1="1188.7" y2="1185.22"/><line x1="427.07" x2="427.07" y1="1194.49" y2="1200.68"/><line x1="420.96" x2="433.18" y1="1185.22" y2="1185.22"/><line x1="420.96" x2="433.18" y1="1200.68" y2="1200.68"/><rect x="414.85" y="1188.7" width="24.44" height="5.8" fill="#dcdcdc"/><line x1="414.85" x2="439.29" y1="1192.17" y2="1192.17"/></g>
<g fill="#ffffff" stroke="#363636" stroke-width="1.4"><circle cx="427.9" cy="1200.68" r="1.95"/><circle cx="426.55" cy="1194.45" r="1.95"/><circle cx="425.5" cy="1193.26" r="1.95"/><circle cx="427.37" cy="1190.72" r="1.95"/><circle cx="426.65" cy="1188.4" r="1.95"/><circle cx="429.38" cy="1185.22" r="1.95"/></g>
<g stroke="#363636" stroke-width="2.2"><line x1="463.73" x2="463.73" y1="1194.88" y2="1183.29"/><line x1="463.73" x2="463.73" y1="1211.5" y2="1220"/><line x1="457.62" x2="469.84" y1="1183.29" y2="1183.29"/><line x1="457.62" x2="469.84" y1="1220" y2="1220"/><rect x="451.51" y="1194.88" width="24.44" height="16.62" fill="#676767"/><line x1="451.51" x2="475.95" y1="1197.97" y2="1197.97"/></g>
<g fill="#747474" stroke="#363636" stroke-width="1.4"><circle cx="463.46" cy="1126.48" r="1.95"/><circle cx="463.59" cy="1235.07" r="1.95"/><circle cx="462.11" cy="1220" r="1.95"/><circle cx="465.09" cy="1218.24" r="1.95"/><circle cx="466.3" cy="1217.34" r="1.95"/><circle cx="464.33" cy="1216.28" r="1.95"/><circle cx="462.92" cy="1214.61" r="1.95"/><circle cx="465.29" cy="1213.99" r="1.95"/><circle cx="460.91" cy="1212.75" r="1.95"/><circle cx="465.22" cy="1211.24" r="1.95"/><circle cx="463.27" cy="1209.96" r="1.95"/><circle cx="466.22" cy="1208.15" r="1.95"/><circle cx="464.14" cy="1206.54" r="1.95"/><circle cx="463.02" cy="1204.81" r="1.95"/><circle cx="462.03" cy="1202.03" r="1.95"/><circle cx="463.04" cy="1200.86" r="1.95"/><circle cx="466.25" cy="1199.4" r="1.95"/><circle cx="462.45" cy="1197.78" r="1.95"/><circle cx="461.16" cy="1197.25" r="1.95"/><circle cx="465.62" cy="1196.84" r="1.95"/><circle cx="461.75" cy="1196.56" r="1.95"/><circle cx="464.77" cy="1196.12" r="1.95"/><circle cx="462.59" cy="1195.76" r="1.95"/><circle cx="465.22" cy="1195.32" r="1.95"/><circle cx="464.73" cy="1194.73" r="1.95"/><circle cx="461.02" cy="1193.66" r="1.95"/><circle cx="464.65" cy="1191.4" r="1.95"/><circle cx="464.99" cy="1190.28" r="1.95"/><circle cx="466.37" cy="1188.53" r="1.95"/><circle cx="464.84" cy="1187.05" r="1.95"/><circle cx="465.56" cy="1185.17" r="1.95"/><circle cx="465.2" cy="1183.29" r="1.95"/></g>
<g stroke="#363636" stroke-width="2.2"><line x1="488.17" x2="488.17" y1="1187.92" y2="1175.17"/><line x1="488.17" x2="488.17" y1="1200.68" y2="1216.91"/><line x1="482.06" x2="494.28" y1="1175.17" y2="1175.17"/><line x1="482.06" x2="494.28" y1="1216.91" y2="1216.91"/><rect x="475.95" y="1187.92" width="24.44" height="12.75" fill="#dcdcdc"/><line x1="475.95" x2="500.39" y1="1192.56" y2="1192.56"/></g>
<g fill="#ffffff" stroke="#363636" stroke-width="1.4"><circle cx="490.3" cy="1108.7" r="1.95"/><circle cx="489.56" cy="1107.93" r="1.95"/><circle cx="486.3" cy="1137.3" r="1.95"/><circle cx="487.04" cy="1136.14" r="1.95"/><circle cx="487.45" cy="1223.48" r="1.95"/><circle cx="487.93" cy="1228.5" r="1.95"/><circle cx="489.7" cy="1216.91" r="1.95"/><circle cx="487.43" cy="1214.4" r="1.95"/><circle cx="487.41" cy="1212.79" r="1.95"/><circle cx="487.97" cy="1209.92" r="1.95"/><circle cx="487.43" cy="1208.68" r="1.95"/><circle cx="485.52" cy="1206.72" r="1.95"/><circle cx="489.23" cy="1204.62" r="1.95"/><circle cx="489.76" cy="1203.37" r="1.95"/><circle cx="489.18" cy="1201.61" r="1.95"/><circle cx="489.2" cy="1200.26" r="1.95"/><circle cx="490.13" cy="1198.96" r="1.95"/><circle cx="490.38" cy="1198.22" r="1.95"/><circle cx="485.85" cy="1197.29" r="1.95"/><circle cx="485.57" cy="1196.42" r="1.95"/><circle cx="487.65" cy="1195.2" r="1.95"/><circle cx="490.99" cy="1194.15" r="1.95"/><circle cx="488.23" cy="1193.31" r="1.95"/><circle cx="486.86" cy="1192.49" r="1.95"/><circle cx="487.01" cy="1191.89" r="1.95"/><circle cx="487.92" cy="1191.51" r="1.95"/><circle cx="489.53" cy="1190.95" r="1.95"/><circle cx="486.3" cy="1190.41" r="1.95"/><circle cx="489.69" cy="1189.97" r="1.95"/><circle cx="490.68" cy="1189.38" r="1.95"/><circle cx="490.42" cy="1188.99" r="1.95"/><circle cx="490.44" cy="1188.45" r="1.95"/><circle cx="488.39" cy="1187.49" r="1.95"/><circle cx="485.64" cy="1185.85" r="1.95"/><circle cx="489.66" cy="1184.79" r="1.95"/><circle cx="486.17" cy="1183.51" r="1.95"/><circle cx="489.21" cy="1181.9" r="1.95"/><circle cx="488.79" cy="1180.64" r="1.95"/><circle cx="488.19" cy="1179.21" r="1.95"/><circle cx="488.56" cy="1177.53" r="1.95"/><circle cx="488.49" cy="1175.17" r="1.95"/></g>
<g stroke="#363636" stroke-width="2.2"><line x1="535.38" x2="535.38" y1="1168.6" y2="1165.12"/><line x1="535.38" x2="535.38" y1="1180.97" y2="1194.49"/><line x1="529.25" x2="541.51" y1="1165.12" y2="1165.12"/><line x1="529.25" x2="541.51" y1="1194.49" y2="1194.49"/><rect x="523.13" y="1168.6" width="24.51" height="12.37" fill="#676767"/><line x1="523.13" x2="547.63" y1="1172.47" y2="1172.47"/></g>
<g fill="#747474" stroke="#363636" stroke-width="1.4"><circle cx="535.88" cy="1194.49" r="1.95"/><circle cx="533.17" cy="1184.3" r="1.95"/><circle cx="537" cy="1177.04" r="1.95"/><circle cx="537.7" cy="1173.72" r="1.95"/><circle cx="534.54" cy="1169.76" r="1.95"/><circle cx="537.52" cy="1168.62" r="1.95"/><circle cx="534.42" cy="1165.12" r="1.95"/></g>
<g stroke="#363636" stroke-width="2.2"><line x1="596.65" x2="596.65" y1="1164.74" y2="1148.89"/><line x1="596.65" x2="596.65" y1="1181.74" y2="1203.77"/><line x1="590.52" x2="602.77" y1="1148.89" y2="1148.89"/><line x1="590.52" x2="602.77" y1="1203.77" y2="1203.77"/><rect x="584.39" y="1164.74" width="24.51" height="17" fill="#676767"/><line x1="584.39" x2="608.9" y1="1171.69" y2="1171.69"/></g>
<g fill="#747474" stroke="#363636" stroke-width="1.4"><circle cx="594.54" cy="1095.56" r="1.95"/><circle cx="597.89" cy="1097.49" r="1.95"/><circle cx="597.81" cy="1203.77" r="1.95"/><circle cx="594.27" cy="1201.09" r="1.95"/><circle cx="598.21" cy="1198.36" r="1.95"/><circle cx="594.05" cy="1195.8" r="1.95"/><circle cx="599.15" cy="1193.53" r="1.95"/><circle cx="594.15" cy="1191.32" r="1.95"/><circle cx="594.06" cy="1189.14" r="1.95"/><circle cx="596.69" cy="1187.56" r="1.95"/><circle cx="596.76" cy="1184.74" r="1.95"/><circle cx="594.84" cy="1183.08" r="1.95"/><circle cx="595.06" cy="1181.1" r="1.95"/><circle cx="593.99" cy="1180.23" r="1.95"/><circle cx="598.73" cy="1178.93" r="1.95"/><circle cx="595.44" cy="1178.27" r="1.95"/><circle cx="598.36" cy="1176.95" r="1.95"/><circle cx="595.42" cy="1176.31" r="1.95"/><circle cx="596.95" cy="1175.43" r="1.95"/><circle cx="596.46" cy="1174.37" r="1.95"/><circle cx="599.49" cy="1173.28" r="1.95"/><circle cx="594.51" cy="1172.48" r="1.95"/><circle cx="593.88" cy="1171.32" r="1.95"/><circle cx="597.95" cy="1170.61" r="1.95"/><circle cx="599.08" cy="1169.98" r="1.95"/><circle cx="598.69" cy="1169.11" r="1.95"/><circle cx="596.91" cy="1168.42" r="1.95"/><circle cx="597.89" cy="1167.78" r="1.95"/><circle cx="597.31" cy="1167.33" r="1.95"/><circle cx="594.55" cy="1166.67" r="1.95"/><circle cx="597.76" cy="1165.66" r="1.95"/><circle cx="593.99" cy="1164.88" r="1.95"/><circle cx="595.89" cy="1164.25" r="1.95"/><circle cx="594.64" cy="1162.23" r="1.95"/><circle cx="599.41" cy="1160.55" r="1.95"/><circle cx="597.95" cy="1159.28" r="1.95"/><circle cx="595.95" cy="1158" r="1.95"/><circle cx="598.88" cy="1156.11" r="1.95"/><circle cx="597.43" cy="1154.87" r="1.95"/><circle cx="594.79" cy="1153.23" r="1.95"/><circle cx="597" cy="1151.55" r="1.95"/><circle cx="595.96" cy="1148.89" r="1.95"/></g>
<g stroke="#363636" stroke-width="2.2"><line x1="621.15" x2="621.15" y1="1164.74" y2="1151.98"/><line x1="621.15" x2="621.15" y1="1174.4" y2="1185.61"/><line x1="615.03" x2="627.28" y1="1151.98" y2="1151.98"/><line x1="615.03" x2="627.28" y1="1185.61" y2="1185.61"/><rect x="608.9" y="1164.74" width="24.51" height="9.66" fill="#dcdcdc"/><line x1="608.9" x2="633.41" y1="1169.76" y2="1169.76"/></g>
<g fill="#ffffff" stroke="#363636" stroke-width="1.4"><circle cx="622.89" cy="1185.61" r="1.95"/><circle cx="623.34" cy="1175.17" r="1.95"/><circle cx="621.55" cy="1172.53" r="1.95"/><circle cx="622.87" cy="1170.33" r="1.95"/><circle cx="623.02" cy="1166.44" r="1.95"/><circle cx="620.2" cy="1162.69" r="1.95"/><circle cx="622.85" cy="1151.98" r="1.95"/></g>
<g stroke="#363636" stroke-width="2.2"><line x1="657.91" x2="657.91" y1="1169.76" y2="1158.17"/><line x1="657.91" x2="657.91" y1="1199.9" y2="1235.07"/><line x1="651.79" x2="664.04" y1="1158.17" y2="1158.17"/><line x1="651.79" x2="664.04" y1="1235.07" y2="1235.07"/><rect x="645.66" y="1169.76" width="24.51" height="30.14" fill="#676767"/><line x1="645.66" x2="670.17" y1="1179.81" y2="1179.81"/></g>
<g fill="#747474" stroke="#363636" stroke-width="1.4"><circle cx="656.34" cy="1102.52" r="1.95"/><circle cx="657.27" cy="1235.07" r="1.95"/><circle cx="660.24" cy="1214.28" r="1.95"/><circle cx="657.78" cy="1202.66" r="1.95"/><circle cx="657.64" cy="1195.58" r="1.95"/><circle cx="659.63" cy="1190.63" r="1.95"/><circle cx="660.22" cy="1181.47" r="1.95"/><circle cx="659.37" cy="1178.06" r="1.95"/><circle cx="659.66" cy="1175.19" r="1.95"/><circle cx="655.11" cy="1171.53" r="1.95"/><circle cx="659.97" cy="1168.95" r="1.95"/><circle cx="655.56" cy="1164.88" r="1.95"/><circle cx="656.17" cy="1158.17" r="1.95"/></g>
<g stroke="#363636" stroke-width="2.2"><line x1="682.42" x2="682.42" y1="1163.19" y2="1139.62"/><line x1="682.42" x2="682.42" y1="1184.45" y2="1205.31"/><line x1="676.29" x2="688.55" y1="1139.62" y2="1139.62"/><line x1="676.29" x2="688.55" y1="1205.31" y2="1205.31"/><rect x="670.17" y="1163.19" width="24.51" height="21.25" fill="#dcdcdc"/><line x1="670.17" x2="694.67" y1="1172.85" y2="1172.85"/></g>
<g fill="#ffffff" stroke="#363636" stroke-width="1.4"><circle cx="681.1" cy="1131.12" r="1.95"/><circle cx="684.63" cy="1114.11" r="1.95"/><circle cx="680.28" cy="1087.06" r="1.95"/><circle cx="681.39" cy="1072.76" r="1.95"/><circle cx="683.46" cy="1205.31" r="1.95"/><circle cx="684.02" cy="1202.85" r="1.95"/><circle cx="683.39" cy="1200.29" r="1.95"/><circle cx="684.52" cy="1198.91" r="1.95"/><circle cx="681.52" cy="1196.8" r="1.95"/><circle cx="684.82" cy="1195.42" r="1.95"/><circle cx="680.54" cy="1192.75" r="1.95"/><circle cx="679.77" cy="1191.37" r="1.95"/><circle cx="684.6" cy="1189.91" r="1.95"/><circle cx="682.61" cy="1188.03" r="1.95"/><circle cx="684.07" cy="1185.35" r="1.95"/><circle cx="682.86" cy="1183.96" r="1.95"/><circle cx="680.15" cy="1183.01" r="1.95"/><circle cx="679.96" cy="1182.42" r="1.95"/><circle cx="684.13" cy="1181.4" r="1.95"/><circle cx="679.87" cy="1180.37" r="1.95"/><circle cx="683.42" cy="1179.24" r="1.95"/><circle cx="681.06" cy="1177.79" r="1.95"/><circle cx="681.4" cy="1176.89" r="1.95"/><circle cx="679.75" cy="1175.74" r="1.95"/><circle cx="682.47" cy="1174.65" r="1.95"/><circle cx="681.66" cy="1173.85" r="1.95"/><circle cx="682.21" cy="1172.99" r="1.95"/><circle cx="682.54" cy="1172.1" r="1.95"/><circle cx="682.34" cy="1171.18" r="1.95"/><circle cx="685.25" cy="1170.26" r="1.95"/><circle cx="683.84" cy="1169.36" r="1.95"/><circle cx="680.34" cy="1168.8" r="1.95"/><circle cx="680.17" cy="1167.86" r="1.95"/><circle cx="680.73" cy="1167.05" r="1.95"/><circle cx="684.66" cy="1165.73" r="1.95"/><circle cx="681.52" cy="1164.93" r="1.95"/><circle cx="685.08" cy="1164.17" r="1.95"/><circle cx="680.61" cy="1163.21" r="1.95"/><circle cx="684.93" cy="1161.08" r="1.95"/><circle cx="685.23" cy="1159.68" r="1.95"/><circle cx="682.45" cy="1157.35" r="1.95"/><circle cx="682.25" cy="1155.03" r="1.95"/><circle cx="683.84" cy="1152.93" r="1.95"/><circle cx="682.98" cy="1151.21" r="1.95"/><circle cx="684.55" cy="1149.14" r="1.95"/><circle cx="680.9" cy="1146.89" r="1.95"/><circle cx="680.06" cy="1144.36" r="1.95"/><circle cx="683.94" cy="1142.23" r="1.95"/><circle cx="682.23" cy="1139.62" r="1.95"/></g>
<g stroke="#363636" stroke-width="2.2"><line x1="728.53" x2="728.53" y1="1162.03" y2="1150.05"/><line x1="728.53" x2="728.53" y1="1172.85" y2="1181.35"/><line x1="722.42" x2="734.64" y1="1150.05" y2="1150.05"/><line x1="722.42" x2="734.64" y1="1181.35" y2="1181.35"/><rect x="716.31" y="1162.03" width="24.44" height="10.82" fill="#676767"/><line x1="716.31" x2="740.75" y1="1166.67" y2="1166.67"/></g>
<g fill="#747474" stroke="#363636" stroke-width="1.4"><circle cx="731.33" cy="1181.35" r="1.95"/><circle cx="730.9" cy="1175.01" r="1.95"/><circle cx="730.16" cy="1171.22" r="1.95"/><circle cx="726.24" cy="1166.16" r="1.95"/><circle cx="729.01" cy="1164.79" r="1.95"/><circle cx="728.35" cy="1159.4" r="1.95"/><circle cx="726.6" cy="1150.05" r="1.95"/></g>
<g stroke="#363636" stroke-width="2.2"><line x1="789.63" x2="789.63" y1="1149.28" y2="1126.86"/><line x1="789.63" x2="789.63" y1="1173.24" y2="1202.61"/><line x1="783.52" x2="795.74" y1="1126.86" y2="1126.86"/><line x1="783.52" x2="795.74" y1="1202.61" y2="1202.61"/><rect x="777.41" y="1149.28" width="24.44" height="23.96" fill="#676767"/><line x1="777.41" x2="801.85" y1="1166.67" y2="1166.67"/></g>
<g fill="#747474" stroke="#363636" stroke-width="1.4"><circle cx="788.32" cy="1100.97" r="1.95"/><circle cx="791.03" cy="1202.61" r="1.95"/><circle cx="788.01" cy="1197.65" r="1.95"/><circle cx="790.72" cy="1193.37" r="1.95"/><circle cx="788.95" cy="1190.24" r="1.95"/><circle cx="792.53" cy="1188.33" r="1.95"/><circle cx="791.73" cy="1185.13" r="1.95"/><circle cx="787.03" cy="1180.25" r="1.95"/><circle cx="787.12" cy="1177.45" r="1.95"/><circle cx="791.69" cy="1174.35" r="1.95"/><circle cx="792.5" cy="1172.88" r="1.95"/><circle cx="788.07" cy="1171.98" r="1.95"/><circle cx="791.35" cy="1171.33" r="1.95"/><circle cx="788.3" cy="1170.35" r="1.95"/><circle cx="788.45" cy="1169.61" r="1.95"/><circle cx="789.76" cy="1168.96" r="1.95"/><circle cx="787.49" cy="1168.38" r="1.95"/><circle cx="788.55" cy="1167.23" r="1.95"/><circle cx="788.12" cy="1166.85" r="1.95"/><circle cx="790.39" cy="1165.18" r="1.95"/><circle cx="788.07" cy="1162.39" r="1.95"/><circle cx="787.23" cy="1160.34" r="1.95"/><circle cx="789.07" cy="1158.3" r="1.95"/><circle cx="789.6" cy="1157.2" r="1.95"/><circle cx="791.74" cy="1154.17" r="1.95"/><circle cx="789.53" cy="1152.54" r="1.95"/><circle cx="787.56" cy="1151.29" r="1.95"/><circle cx="791.8" cy="1149.29" r="1.95"/><circle cx="790.54" cy="1145.59" r="1.95"/><circle cx="788.09" cy="1143.12" r="1.95"/><circle cx="792.28" cy="1140.66" r="1.95"/><circle cx="789.5" cy="1137.7" r="1.95"/><circle cx="786.85" cy="1136.39" r="1.95"/><circle cx="790.08" cy="1133.9" r="1.95"/><circle cx="790.51" cy="1131.39" r="1.95"/><circle cx="788.66" cy="1126.86" r="1.95"/></g>
<g stroke="#363636" stroke-width="2.2"><line x1="814.07" x2="814.07" y1="1158.17" y2="1149.28"/><line x1="814.07" x2="814.07" y1="1169.76" y2="1175.94"/><line x1="807.96" x2="820.18" y1="1149.28" y2="1149.28"/><line x1="807.96" x2="820.18" y1="1175.94" y2="1175.94"/><rect x="801.85" y="1158.17" width="24.44" height="11.59" fill="#dcdcdc"/><line x1="801.85" x2="826.29" y1="1163.58" y2="1163.58"/></g>
<g fill="#ffffff" stroke="#363636" stroke-width="1.4"><circle cx="813.28" cy="1175.94" r="1.95"/><circle cx="816" cy="1169.83" r="1.95"/><circle cx="812.49" cy="1166.7" r="1.95"/><circle cx="813.78" cy="1160.96" r="1.95"/><circle cx="816.24" cy="1157.01" r="1.95"/><circle cx="814.13" cy="1149.28" r="1.95"/></g>
<g stroke="#363636" stroke-width="2.2"><line x1="850.73" x2="850.73" y1="1154.3" y2="1129.57"/><line x1="850.73" x2="850.73" y1="1186.38" y2="1208.41"/><line x1="844.62" x2="856.84" y1="1129.57" y2="1129.57"/><line x1="844.62" x2="856.84" y1="1208.41" y2="1208.41"/><rect x="838.51" y="1154.3" width="24.44" height="32.08" fill="#676767"/><line x1="838.51" x2="862.95" y1="1164.74" y2="1164.74"/></g>
<g fill="#747474" stroke="#363636" stroke-width="1.4"><circle cx="848.79" cy="1208.41" r="1.95"/><circle cx="848.26" cy="1204.06" r="1.95"/><circle cx="852.58" cy="1199.27" r="1.95"/><circle cx="850.41" cy="1195.07" r="1.95"/><circle cx="849.96" cy="1192.44" r="1.95"/><circle cx="850.7" cy="1188.75" r="1.95"/><circle cx="852.01" cy="1185.15" r="1.95"/><circle cx="847.89" cy="1182.52" r="1.95"/><circle cx="852.31" cy="1179.13" r="1.95"/><circle cx="853.44" cy="1174.55" r="1.95"/><circle cx="849.75" cy="1172" r="1.95"/><circle cx="852.9" cy="1169" r="1.95"/><circle cx="848.96" cy="1164.32" r="1.95"/><circle cx="847.96" cy="1163.16" r="1.95"/><circle cx="847.84" cy="1161.4" r="1.95"/><circle cx="850.32" cy="1159.38" r="1.95"/><circle cx="852.08" cy="1158.51" r="1.95"/><circle cx="848.64" cy="1156.16" r="1.95"/><circle cx="849.17" cy="1155.04" r="1.95"/><circle cx="850.72" cy="1151.48" r="1.95"/><circle cx="851.06" cy="1147" r="1.95"/><circle cx="850.95" cy="1142.66" r="1.95"/><circle cx="850.05" cy="1140.39" r="1.95"/><circle cx="848.67" cy="1134.57" r="1.95"/><circle cx="848.11" cy="1129.57" r="1.95"/></g>
<g stroke="#363636" stroke-width="2.2"><line x1="875.17" x2="875.17" y1="1155.08" y2="1129.57"/><line x1="875.17" x2="875.17" y1="1178.26" y2="1205.31"/><line x1="869.06" x2="881.28" y1="1129.57" y2="1129.57"/><line x1="869.06" x2="881.28" y1="1205.31" y2="1205.31"/><rect x="862.95" y="1155.08" width="24.44" height="23.19" fill="#dcdcdc"/><line x1="862.95" x2="887.39" y1="1166.67" y2="1166.67"/></g>
<g fill="#ffffff" stroke="#363636" stroke-width="1.4"><circle cx="874.06" cy="1111.79" r="1.95"/><circle cx="874.46" cy="1070.83" r="1.95"/><circle cx="876.54" cy="1205.31" r="1.95"/><circle cx="873.9" cy="1202.2" r="1.95"/><circle cx="873.77" cy="1199.59" r="1.95"/><circle cx="874.49" cy="1197.54" r="1.95"/><circle cx="872.86" cy="1193.97" r="1.95"/><circle cx="874.12" cy="1191.85" r="1.95"/><circle cx="873.97" cy="1190.29" r="1.95"/><circle cx="877.66" cy="1187.32" r="1.95"/><circle cx="875.37" cy="1184.3" r="1.95"/><circle cx="875.79" cy="1182.08" r="1.95"/><circle cx="873.9" cy="1179.7" r="1.95"/><circle cx="874" cy="1178.02" r="1.95"/><circle cx="872.74" cy="1176.7" r="1.95"/><circle cx="873.9" cy="1175.79" r="1.95"/><circle cx="874.74" cy="1175.09" r="1.95"/><circle cx="872.96" cy="1174.04" r="1.95"/><circle cx="877.89" cy="1172.73" r="1.95"/><circle cx="874.9" cy="1171.73" r="1.95"/><circle cx="875.08" cy="1170.63" r="1.95"/><circle cx="872.38" cy="1169.57" r="1.95"/><circle cx="873.99" cy="1168.84" r="1.95"/><circle cx="873.11" cy="1167.61" r="1.95"/><circle cx="873.54" cy="1166.93" r="1.95"/><circle cx="877.44" cy="1165.84" r="1.95"/><circle cx="874.53" cy="1164.6" r="1.95"/><circle cx="872.48" cy="1163.32" r="1.95"/><circle cx="874.54" cy="1162.34" r="1.95"/><circle cx="873.62" cy="1161.57" r="1.95"/><circle cx="876.01" cy="1160.28" r="1.95"/><circle cx="877.62" cy="1159.54" r="1.95"/><circle cx="874.39" cy="1158.15" r="1.95"/><circle cx="875.65" cy="1157.66" r="1.95"/><circle cx="874.88" cy="1156.23" r="1.95"/><circle cx="874.61" cy="1155.12" r="1.95"/><circle cx="873.2" cy="1152.9" r="1.95"/><circle cx="877.66" cy="1151.18" r="1.95"/><circle cx="877.76" cy="1149.21" r="1.95"/><circle cx="872.27" cy="1146.33" r="1.95"/><circle cx="875.76" cy="1144.17" r="1.95"/><circle cx="876.02" cy="1142.04" r="1.95"/><circle cx="875.69" cy="1139.18" r="1.95"/><circle cx="873.07" cy="1137.08" r="1.95"/><circle cx="876.91" cy="1134.96" r="1.95"/><circle cx="876.59" cy="1133.01" r="1.95"/><circle cx="876.18" cy="1129.57" r="1.95"/></g>
<line x1="149.4" x2="271.5" y1="34.1" y2="34.1" stroke="#2e2e2e" stroke-width="1.8"/>
<text x="210.5" y="30.66" class="sd" text-anchor="middle">†</text>
<line x1="240" x2="299.1" y1="28.9" y2="28.9" stroke="#2e2e2e" stroke-width="1.8"/>
<text x="269.5" y="25.24" class="sdd" text-anchor="middle">‡</text>
<line x1="209.8" x2="270.1" y1="54" y2="54" stroke="#2e2e2e" stroke-width="1.8"/>
<text x="239.7" y="50.56" class="sd" text-anchor="middle">†</text>
<line x1="209.2" x2="236" y1="69.6" y2="69.6" stroke="#2e2e2e" stroke-width="1.8"/>
<text x="222.4" y="72.49" class="ss" text-anchor="middle">*</text>
<line x1="431.3" x2="490.5" y1="28.9" y2="28.9" stroke="#2e2e2e" stroke-width="1.8"/>
<text x="460.7" y="25.24" class="sdd" text-anchor="middle">‡</text>
<line x1="403.2" x2="430.2" y1="69.6" y2="69.6" stroke="#2e2e2e" stroke-width="1.8"/>
<text x="416.8" y="72.49" class="ss" text-anchor="middle">*</text>
<line x1="533.7" x2="655.5" y1="33.7" y2="33.7" stroke="#2e2e2e" stroke-width="1.8"/>
<text x="594.2" y="30.26" class="sd" text-anchor="middle">†</text>
<line x1="626.7" x2="685.1" y1="28.9" y2="28.9" stroke="#2e2e2e" stroke-width="1.8"/>
<text x="655.7" y="25.24" class="sdd" text-anchor="middle">‡</text>
<line x1="595.6" x2="655.7" y1="54" y2="54" stroke="#2e2e2e" stroke-width="1.8"/>
<text x="625.3" y="50.56" class="sd" text-anchor="middle">†</text>
<line x1="596.6" x2="622.6" y1="69.6" y2="69.6" stroke="#2e2e2e" stroke-width="1.8"/>
<text x="609.4" y="72.49" class="ss" text-anchor="middle">*</text>
<line x1="728.3" x2="849.7" y1="34.3" y2="34.3" stroke="#2e2e2e" stroke-width="1.8"/>
<text x="788.8" y="30.86" class="sd" text-anchor="middle">†</text>
<line x1="820.7" x2="879.5" y1="28.9" y2="28.9" stroke="#2e2e2e" stroke-width="1.8"/>
<text x="849.7" y="25.24" class="sdd" text-anchor="middle">‡</text>
<line x1="789.2" x2="849.1" y1="54" y2="54" stroke="#2e2e2e" stroke-width="1.8"/>
<text x="819.3" y="50.56" class="sd" text-anchor="middle">†</text>
<line x1="790.6" x2="817" y1="69.6" y2="69.6" stroke="#2e2e2e" stroke-width="1.8"/>
<text x="803.8" y="72.49" class="ss" text-anchor="middle">*</text>
<line x1="151.8" x2="273.8" y1="707" y2="707" stroke="#2e2e2e" stroke-width="1.8"/>
<text x="212.4" y="703.56" class="sd" text-anchor="middle">†</text>
<line x1="211.2" x2="271.3" y1="731.2" y2="731.2" stroke="#2e2e2e" stroke-width="1.8"/>
<text x="240.7" y="727.76" class="sd" text-anchor="middle">†</text>
<line x1="271.8" x2="298.2" y1="737.6" y2="737.6" stroke="#2e2e2e" stroke-width="1.8"/>
<text x="284.5" y="740.49" class="ss" text-anchor="middle">*</text>
<line x1="434.5" x2="493.2" y1="692.8" y2="692.8" stroke="#2e2e2e" stroke-width="1.8"/>
<text x="463.7" y="689.14" class="sdd" text-anchor="middle">‡</text>
<line x1="346.2" x2="468.4" y1="707" y2="707" stroke="#2e2e2e" stroke-width="1.8"/>
<text x="407.2" y="703.56" class="sd" text-anchor="middle">†</text>
<line x1="405.8" x2="432.7" y1="737.6" y2="737.6" stroke="#2e2e2e" stroke-width="1.8"/>
<text x="418.9" y="740.49" class="ss" text-anchor="middle">*</text>
<line x1="655.8" x2="682.6" y1="738" y2="738" stroke="#2e2e2e" stroke-width="1.8"/>
<text x="669.1" y="740.89" class="ss" text-anchor="middle">*</text>
<line x1="819.5" x2="878" y1="692.8" y2="692.8" stroke="#2e2e2e" stroke-width="1.8"/>
<text x="848.4" y="689.14" class="sdd" text-anchor="middle">‡</text>
<line x1="786.8" x2="813.4" y1="738" y2="738" stroke="#2e2e2e" stroke-width="1.8"/>
<text x="799.9" y="740.89" class="ss" text-anchor="middle">*</text>
<line x1="144.3" x2="266.1" y1="1031.1" y2="1031.1" stroke="#2e2e2e" stroke-width="1.8"/>
<text x="204.8" y="1027.66" class="sd" text-anchor="middle">†</text>
<line x1="205.6" x2="265" y1="1058.9" y2="1058.9" stroke="#2e2e2e" stroke-width="1.8"/>
<text x="235.2" y="1055.46" class="sd" text-anchor="middle">†</text>
<line x1="266.5" x2="292.9" y1="1066.4" y2="1066.4" stroke="#2e2e2e" stroke-width="1.8"/>
<text x="279.3" y="1069.29" class="ss" text-anchor="middle">*</text>
<line x1="461.1" x2="487.5" y1="1066.4" y2="1066.4" stroke="#2e2e2e" stroke-width="1.8"/>
<text x="473.9" y="1069.29" class="ss" text-anchor="middle">*</text>
<line x1="658.1" x2="684.9" y1="1066.4" y2="1066.4" stroke="#2e2e2e" stroke-width="1.8"/>
<text x="671.7" y="1069.29" class="ss" text-anchor="middle">*</text>
</svg>
</body></html>
